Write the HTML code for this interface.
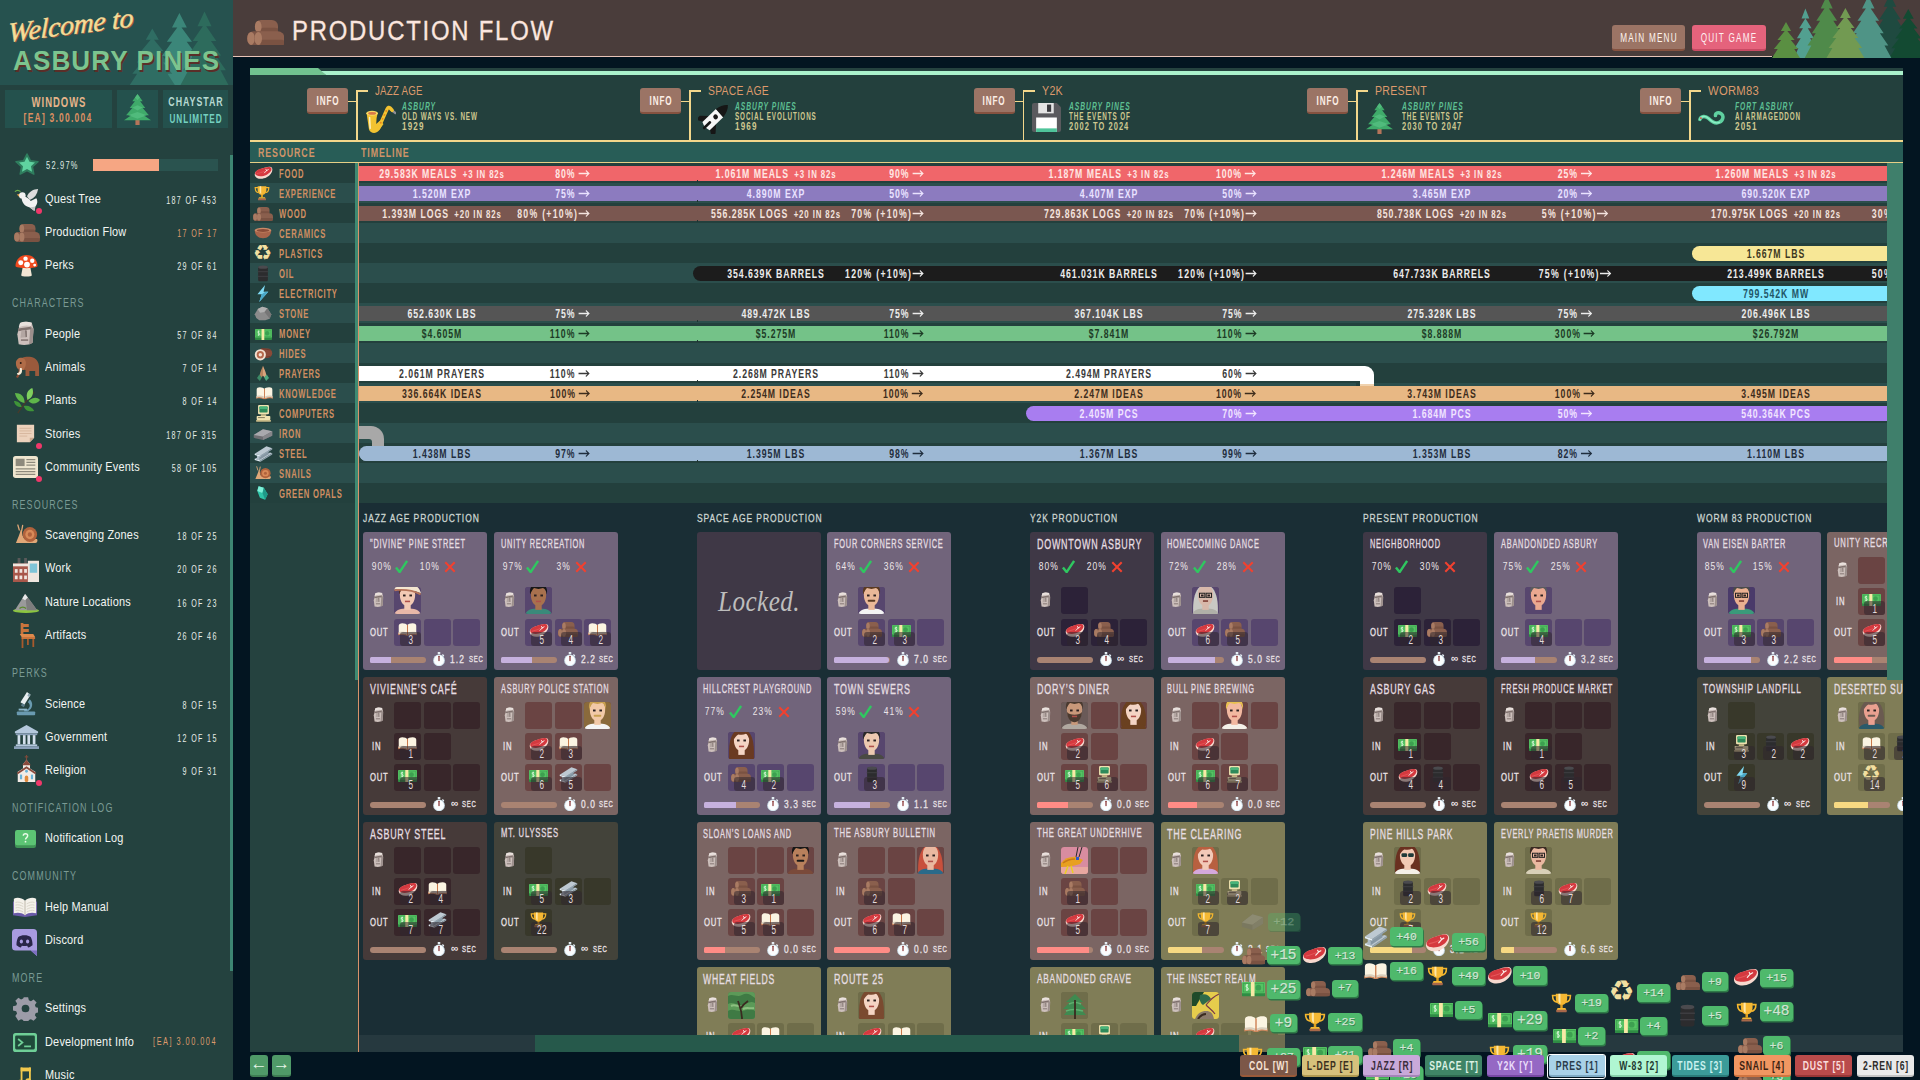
<!DOCTYPE html><html><head><meta charset="utf-8"><title>Production Flow</title><style>
html,body{margin:0;padding:0}
body{width:1920px;height:1080px;overflow:hidden;background:#031521;position:relative;font-family:"Liberation Sans",sans-serif}
.a{position:absolute}
.clip{position:absolute;overflow:hidden}
.t{position:absolute;white-space:nowrap;line-height:1;font-weight:bold}
.c{letter-spacing:1.4px;transform:scaleX(.68);transform-origin:0 50%}
.c.r{transform-origin:100% 50%}
.c.m{transform-origin:50% 50%;transform:translateX(-50%) scaleX(.68)}
.n{font-weight:normal;letter-spacing:.25px;transform:scaleX(.84);transform-origin:0 50%}
.k{letter-spacing:1.4px;transform:scaleX(.68);transform-origin:0 50%;font-weight:normal}
.k.r{transform-origin:100% 50%}
.k.m{transform-origin:50% 50%;transform:translateX(-50%) scaleX(.68)}
.mono{font-family:"Liberation Mono",monospace;font-weight:bold;letter-spacing:0;transform:none}
.mono.m{transform:translateX(-50%)}
.btn{position:absolute;border-radius:3px;box-sizing:border-box}
</style></head><body><svg width="0" height="0" style="position:absolute"><defs><symbol id="i-steak" viewBox="0 0 24 18" preserveAspectRatio="none"><path d="M1 11.800C.3 8 4 5 9.500 3.600 14.500 1.800 20.500-.4 22.600 2.400c1.900 3.600-.8 9.200-6.600 12.200C10.500 17.800 2 17 1 11.800z" fill="#f7d9cf"/><path d="M1.500 10C1.200 6.800 5 4.400 9.800 3.300c4.700-1.600 10.200-3.200 12 -.6 1.300 2.700-1.500 6.600-6.300 8.800C10.500 13.900 2 13.600 1.500 10z" fill="#d5393f"/><path d="M4 9.800c2.500-1 6-1.200 9.500-3.300" stroke="#e4575a" stroke-width="1" fill="none" stroke-linecap="round"/><path d="M13.200 8.800l2.700-2.900M15.900 5.900l2.200-1.300M15.900 5.900l-.9-1.700" stroke="#fdf1ec" stroke-width="1.100" stroke-linecap="round" fill="none"/></symbol><symbol id="i-trophy" viewBox="0 0 24 24" preserveAspectRatio="none"><path d="M6 4H1.800c0 4.500 2 7.200 5.200 7.600M18 4h4.200c0 4.500-2 7.200-5.200 7.600" fill="none" stroke="#f3b62e" stroke-width="1.800"/><path d="M5.500 2h13v5.500c0 4.200-2.800 7.500-6.500 7.500S5.500 11.700 5.500 7.500z" fill="#f5b833"/><path d="M8.500 2h2.300v11.800c-1.500-.8-2.300-2.800-2.300-5z" fill="#fde6a8"/><rect x="10.600" y="14.500" width="2.800" height="4" fill="#e0a020"/><path d="M7.500 18.300h9l1 2.200h-11z" fill="#f5b833"/><rect x="6" y="20.300" width="12" height="2.700" rx=".6" fill="#a8684a"/></symbol><symbol id="i-wood" viewBox="0 0 26 18" preserveAspectRatio="none"><rect x="5.500" y="0" width="16" height="9.500" rx="4.200" fill="#8a5f4d"/><rect x="9" y="5.500" width="12.500" height="4" rx="2" fill="#7a5242"/><ellipse cx="7.800" cy="4.700" rx="2.300" ry="4.200" fill="#a97b63"/><rect x="0" y="8" width="13" height="10" rx="4.600" fill="#7d5546"/><ellipse cx="2.800" cy="13" rx="2.600" ry="4.600" fill="#a97b63"/><rect x="5" y="8" width="21" height="10" rx="4.600" fill="#8a5f4d"/><rect x="9" y="14" width="17" height="4" rx="2" fill="#7a5242"/><ellipse cx="7.800" cy="13" rx="2.600" ry="4.600" fill="#a97b63"/></symbol><symbol id="i-bowl" viewBox="0 0 24 16" preserveAspectRatio="none"><path d="M1 4h22c0 7-4.500 11-11 11S1 11 1 4z" fill="#a8644a"/><ellipse cx="12" cy="4.200" rx="11" ry="3.200" fill="#c98a68"/><ellipse cx="12" cy="4.600" rx="8.500" ry="2" fill="#8a4c38"/></symbol><symbol id="i-barrel" viewBox="0 0 16 22" preserveAspectRatio="none"><rect x="1.500" y="2" width="13" height="19" rx="2" fill="#2c2c2e"/><ellipse cx="8" cy="2.800" rx="6.500" ry="2.200" fill="#4a4a4e"/><rect x="1" y="8" width="14" height="1.300" fill="#3f3f43"/><rect x="1" y="14" width="14" height="1.300" fill="#3f3f43"/></symbol><symbol id="i-bolt" viewBox="0 0 18 24" preserveAspectRatio="none"><path d="M12.500 0L2 13h6L4.500 24 17 9.500h-6.500z" fill="#7fd9f2"/><path d="M8 13L4.500 24 17 9.500h-4z" fill="#4aa8c8"/></symbol><symbol id="i-stone" viewBox="0 0 24 20" preserveAspectRatio="none"><path d="M3 16L1 11l4-7 6-3 7 2 5 8-2 6-6 2H7z" fill="#8b8b8b"/><path d="M5 4l6-3 7 2-4 5-6 1z" fill="#b0b0b0"/><path d="M14 8l4-5 5 8-2 6z" fill="#767676"/></symbol><symbol id="i-money" viewBox="0 0 26 16" preserveAspectRatio="none"><rect x="0" y="2.500" width="26" height="13.500" rx="1" fill="#2f8c44"/><rect x="0" y="0" width="26" height="12.500" rx="1" fill="#55c263"/><rect x="1.500" y="1.500" width="23" height="9.500" fill="none" stroke="#3da050" stroke-width=".8"/><circle cx="18.500" cy="6.250" r="3.200" fill="#3da050"/><rect x="10" y="0" width="4.200" height="16" fill="#f7e9a6"/><path d="M6.800 3.200c-2.600-.8-3 2.200-1 2.800 2 .6 1.800 3.400-1 2.800M5.600 2.300v7.600" stroke="#eafbe8" stroke-width="1" fill="none"/></symbol><symbol id="i-hides" viewBox="0 0 24 20" preserveAspectRatio="none"><rect x="6" y="3" width="17" height="12" rx="6" fill="#8a4a38"/><path d="M9 3l12 2M9 15l12-2" stroke="#6e3a2c" stroke-width="1.200"/><circle cx="8" cy="11" r="7" fill="#f3e2d2"/><circle cx="8" cy="11" r="4.600" fill="#b5694c"/><circle cx="8" cy="11" r="2.200" fill="#f3e2d2"/></symbol><symbol id="i-pray" viewBox="0 0 18 24" preserveAspectRatio="none"><path d="M9 1c-1 3-4 8-5 13l2 4 3-3z" fill="#b9855f"/><path d="M9 1c1 3 4 8 5 13l-2 4-3-3z" fill="#d8a47c"/><path d="M3.500 13.500l3.800 4.200-3 4.800L0 18.500z" fill="#3c8a66"/><path d="M14.500 13.500l-3.800 4.200 3 4.800 4.300-4z" fill="#4faa80"/></symbol><symbol id="i-book" viewBox="0 0 26 18" preserveAspectRatio="none"><path d="M.3 13.500h25.400v3.300c-4-1-8.500-.8-11.200.7h-3c-2.700-1.500-7.200-1.700-11.200-.7z" fill="#cf8a60"/><path d="M1 3.800C1 1.600 3 .4 6 .4s6 1 6.700 2.800C13.400 1.400 16.500.4 20 .4s5 1.200 5 3.400V15c-4-1-8.300-.8-11 .8h-2c-2.700-1.600-7-1.800-11-.8z" fill="#fbf4e2"/><path d="M1 12.800V15c4-1 8.300-.8 11 .8h2c2.700-1.600 7-1.800 11-.8v-2.200c-4-1-8.300-.8-11 .8h-2c-2.700-1.600-7-1.800-11-.8z" fill="#d9cfbd"/><rect x="12.300" y="2.600" width="1.400" height="14" fill="#c9784a"/></symbol><symbol id="i-pc" viewBox="0 0 22 24" preserveAspectRatio="none"><rect x="3" y="0" width="16" height="13" rx="1.500" fill="#efe2b0"/><rect x="5" y="2" width="12" height="8.500" rx="1" fill="#2e8a5a"/><rect x="5" y="2" width="12" height="3.500" rx="1" fill="#49b47a"/><rect x="7" y="13" width="8" height="2.500" fill="#c9bb88"/><rect x="1" y="15.500" width="20" height="5.500" rx="1" fill="#efe2b0"/><rect x="3" y="17" width="10" height="1.500" fill="#8a8160"/><rect x="0" y="21" width="22" height="2.500" rx="1" fill="#c9bb88"/></symbol><symbol id="i-iron" viewBox="0 0 26 18" preserveAspectRatio="none"><path d="M1 11L13 3l12 3v6l-12 6-12-3z" fill="#6e6e72"/><path d="M1 11L13 3l12 3-12 7z" fill="#a9a9ad"/><path d="M13 13l12-7v6l-12 6z" fill="#86868a"/></symbol><symbol id="i-steel" viewBox="0 0 26 22" preserveAspectRatio="none"><path d="M1 17.500l8 2.500 16-10-3-1z" fill="#b9c6cf"/><path d="M1 17.500l8 2.500v1.800l-8-2.500z" fill="#e4eef5"/><path d="M9 20l16-10v1.800l-16 10z" fill="#93a4b0"/><path d="M4 12l3.200 1v6.300l-3.200-1z" fill="#aebcc7"/><path d="M7.200 13l12.800-8v6.300l-12.800 8z" fill="#8697a3"/><path d="M1 10.500l8 2.500 16-10-8-2.500z" fill="#bdc9d2"/><path d="M1 10.500l8 2.500v1.800l-8-2.500z" fill="#e4eef5"/><path d="M9 13l16-10v1.800l-16 10z" fill="#93a4b0"/></symbol><symbol id="i-snail" viewBox="0 0 26 22" preserveAspectRatio="none"><path d="M2 19c2-5 4-9 5-13l1.500.5C8 10 9 13 11 15h13c1 2 0 4-2 4z" fill="#e0a878"/><path d="M5.500 6L4 1M8 6.500L9 1.500" stroke="#e0a878" stroke-width="1.300" stroke-linecap="round"/><circle cx="16.500" cy="10.500" r="7.500" fill="#b0623c"/><circle cx="16.500" cy="10.500" r="4.700" fill="#d88a58"/><circle cx="16.500" cy="10.500" r="2.200" fill="#b0623c"/></symbol><symbol id="i-opal" viewBox="0 0 20 24" preserveAspectRatio="none"><path d="M4 2l8 2 6 10-4 8-8-3L2 9z" fill="#2fc4a8"/><path d="M4 2l8 2-2 8-8-3z" fill="#7ff0d8"/><path d="M12 4l6 10-4 8-4-10z" fill="#1f9a88"/></symbol><symbol id="i-moai" viewBox="0 0 20 30" preserveAspectRatio="none"><path d="M4.500 2.500Q10 -.5 17.500 2L19.500 9.500 18.500 26Q12 30.500 3 28L1.500 16z" fill="#cdc0bc"/><path d="M16 6L19.500 9.500 18.500 26Q17 27.500 14.500 28.300z" fill="#9c8f8c"/><path d="M4.500 2.500Q10 -.5 17.500 2L16.500 6Q10 4 3 7.500z" fill="#e9e1dd"/><path d="M2.300 9L16.200 6.800 16.800 10 2.500 12.200z" fill="#80726f"/><path d="M6 11.500L10 11 10.500 19.500 5 20z" fill="#b3a6a2"/><path d="M10 11L12 11.500 12.200 19.300 10.500 19.500z" fill="#80726f"/><rect x="5.500" y="22" width="8" height="1.800" fill="#80726f"/></symbol><symbol id="i-watch" viewBox="0 0 16 19" preserveAspectRatio="none"><rect x="6.300" y="0" width="3.400" height="3" rx=".8" fill="#e4eef4"/><path d="M12.500 3.300l1.900 1.900" stroke="#e4eef4" stroke-width="1.900"/><circle cx="8" cy="11" r="7.800" fill="#c9dde8"/><circle cx="8" cy="11" r="6.600" fill="#fbfdfe"/><path d="M8 5.500v5.800" stroke="#7a1c1c" stroke-width="1.500" stroke-linecap="round"/></symbol><symbol id="i-check" viewBox="0 0 14 14" preserveAspectRatio="none"><path d="M1 8l4 5L13 1" fill="none" stroke="#2fc760" stroke-width="2.600"/></symbol><symbol id="i-cross" viewBox="0 0 14 14" preserveAspectRatio="none"><path d="M1.500 1.500l11 11M12.500 1.500l-11 11" fill="none" stroke="#f2412f" stroke-width="2.400"/></symbol><symbol id="i-star" viewBox="0 0 24 24" preserveAspectRatio="none"><path d="M12 1l3.400 7 7.600 1-5.600 5.300 1.400 7.700L12 18.300 5.200 22l1.400-7.700L1 9l7.600-1z" fill="#2f7d5e" stroke="#2f7d5e" stroke-width="1.500" stroke-linejoin="round"/><path d="M12 4l2.500 5.200 5.500.8-4 3.900 1 5.600-5-2.700-5 2.700 1-5.600-4-3.900 5.500-.8z" fill="#5fd3a0"/></symbol><symbol id="i-dove" viewBox="0 0 28 26" preserveAspectRatio="none"><path d="M3 7l5-1 2 3-4 1z" fill="#e8a04a"/><circle cx="9" cy="8" r="3.500" fill="#f2f2f2"/><path d="M8 9c0 6 3 11 9 12l5 4 1-5c2-2 3-6 1-9l-6 3c-2-3-6-6-10-5z" fill="#f2f2f2"/><path d="M14 9c2-5 7-8 12-8-1 6-4 10-9 12z" fill="#dcdcdc"/><path d="M17 21l5 4 1-5z" fill="#c4c4c4"/><path d="M1 4c2-2 4-2 6 0" stroke="#6ab04c" stroke-width="1.300" fill="none"/></symbol><symbol id="i-shroom" viewBox="0 0 24 24" preserveAspectRatio="none"><path d="M8 13h8l1.500 8c0 2-11 2-11 0z" fill="#f3e6d4"/><path d="M.5 11.500C.5 5 5.500 0 12 0s11.500 5 11.500 11.500c0 3-23 3-23 0z" fill="#f04a1e"/><circle cx="6" cy="8" r="2.600" fill="#fff"/><circle cx="11" cy="3.800" r="2.300" fill="#fff"/><circle cx="18" cy="6" r="2.300" fill="#fff"/><circle cx="12.500" cy="10" r="3" fill="#fff"/><circle cx="20.500" cy="10.500" r="1.500" fill="#fff"/></symbol><symbol id="i-mammoth" viewBox="0 0 28 24" preserveAspectRatio="none"><path d="M6 6c2-4 8-5 13-4 5 1 8 5 8 10v9h-4v-5h-6v5h-4v-6c-3 0-5-1-6-3z" fill="#9a5a3c"/><path d="M3 8c0-4 4-6 7-5 3 1 4 4 3 8l-2 4H7c-3-1-4-4-4-7z" fill="#b06c48"/><path d="M6 13c0 4-1 7-3 9l2 1c2-2 3-6 3-10z" fill="#8a4c34"/><path d="M9 13c1 4 0 7-4 7l-1-2c3 0 3-2 3-5z" fill="#f5ecd8"/><circle cx="8" cy="8" r="1" fill="#2a1a14"/></symbol><symbol id="i-plant" viewBox="0 0 28 26" preserveAspectRatio="none"><path d="M5 25C10 18 14 12 22 4" stroke="#4a3a2a" stroke-width="1.300" fill="none"/><path d="M12 15C6 14 3 10 2 5c6 0 10 3 10 10z" fill="#5fb64a"/><path d="M15 12C13 6 15 2 20 0c2 5 0 10-5 12z" fill="#7ed05e"/><path d="M16 13c5-4 9-4 12-1-3 4-8 5-12 1z" fill="#5fb64a"/><path d="M11 18c5-1 9 1 11 5-5 1-9 0-11-5z" fill="#3f9438"/><path d="M9 19c-5 0-7-2-8-6 4 0 7 2 8 6z" fill="#3f9438"/></symbol><symbol id="i-note" viewBox="0 0 22 22" preserveAspectRatio="none"><path d="M1 1h20v15l-5 5H1z" fill="#ecd2bc"/><path d="M21 16l-5 5v-5z" fill="#c9a78c"/><path d="M4 5h14M4 8h14M4 11h14M4 14h9" stroke="#d4b49a" stroke-width="1"/></symbol><symbol id="i-news" viewBox="0 0 28 24" preserveAspectRatio="none"><rect x="0" y="0" width="28" height="24" rx="3" fill="#efe6cf"/><rect x="3" y="3" width="10" height="8" fill="#8e8a7c"/><path d="M15 4h10M15 7h10M15 10h10M3 14h22M3 17h22M3 20h22" stroke="#8e8a7c" stroke-width="1.300"/></symbol><symbol id="i-factory" viewBox="0 0 28 26" preserveAspectRatio="none"><rect x="5" y="0" width="3" height="8" fill="#5a5a5a"/><rect x="12" y="0" width="3" height="8" fill="#5a5a5a"/><rect x="0" y="6" width="18" height="20" fill="#a8574a"/><rect x="0" y="6" width="18" height="3" fill="#efe6df"/><rect x="16" y="3" width="12" height="23" fill="#efe6df"/><rect x="18" y="6" width="8" height="10" fill="#7fc4d8"/><rect x="2" y="12" width="3" height="4" fill="#efe6df"/><rect x="7" y="12" width="3" height="4" fill="#efe6df"/><rect x="12" y="12" width="3" height="4" fill="#efe6df"/><rect x="2" y="19" width="3" height="4" fill="#efe6df"/><rect x="7" y="19" width="3" height="4" fill="#efe6df"/><rect x="12" y="19" width="3" height="4" fill="#efe6df"/></symbol><symbol id="i-mountain" viewBox="0 0 28 22" preserveAspectRatio="none"><ellipse cx="14" cy="19.500" rx="14" ry="2.500" fill="#8cc63f"/><path d="M2 19L13 1l6 8 7 10z" fill="#9a9a9a"/><path d="M13 1l6 8 7 10H15z" fill="#7d7d7d"/><path d="M13 1l3 4-3 3-3-2z" fill="#e8e8e8"/><path d="M7 17c2-2 5-2 7 0" stroke="#5a8a2a" stroke-width="1.500" fill="none"/></symbol><symbol id="i-chair" viewBox="0 0 20 26" preserveAspectRatio="none"><path d="M3 1h3v12H3zM3 2h9v3H3zM3 7h9v3H3z" fill="#c9743c"/><path d="M2 12h15l2 3H4z" fill="#e08a4c"/><path d="M4 15h2v11H4zM16 15h2v10h-2zM10 15h2v8h-2z" fill="#a85a2c"/><path d="M4 15h15v2H4z" fill="#c9743c"/></symbol><symbol id="i-scope" viewBox="0 0 24 28" preserveAspectRatio="none"><path d="M13 1l4 3-7 11-4-3z" fill="#e8eef0"/><path d="M15 2.500l2 1.500-1.500 2.500-2-1.500z" fill="#8aa4b0"/><path d="M8 13l3 2-1.500 2.500-3-2z" fill="#5a7a88"/><path d="M16 9c4 3 4 10-2 13h-4v-2h3c4-2 4-6 1-8z" fill="#6a9ab0"/><rect x="2" y="22" width="20" height="4" rx="1" fill="#6a9ab0"/><rect x="4" y="19" width="9" height="2" fill="#8ab4c8"/></symbol><symbol id="i-gov" viewBox="0 0 28 26" preserveAspectRatio="none"><path d="M14 0L1 7v2h26V7z" fill="#b4c8dc"/><rect x="2" y="9" width="24" height="2" fill="#8aa0b8"/><rect x="4" y="11" width="3" height="10" fill="#d4e0ec"/><rect x="10" y="11" width="3" height="10" fill="#d4e0ec"/><rect x="15" y="11" width="3" height="10" fill="#d4e0ec"/><rect x="21" y="11" width="3" height="10" fill="#d4e0ec"/><rect x="2" y="21" width="24" height="2" fill="#b4c8dc"/><rect x="0" y="23" width="28" height="3" fill="#8aa0b8"/></symbol><symbol id="i-church" viewBox="0 0 24 30" preserveAspectRatio="none"><path d="M12 0v6M10 2h4" stroke="#7a4a3a" stroke-width="1.300"/><path d="M12 5l4 5v6H8v-6z" fill="#f2ece6"/><path d="M12 5l5 6h-10z" fill="#8a4a3c"/><path d="M2 18l10-6 10 6v11H2z" fill="#f2ece6"/><path d="M1 19l11-7 11 7-1 1.500-10-6-10 6z" fill="#8a4a3c"/><rect x="10" y="22" width="4" height="7" rx="2" fill="#e08a3c"/><rect x="4.500" y="21" width="2.500" height="5" fill="#6ab4d8"/><rect x="17" y="21" width="2.500" height="5" fill="#6ab4d8"/><circle cx="12" cy="17.500" r="1.600" fill="#6ab4d8"/></symbol><symbol id="i-notif" viewBox="0 0 24 20" preserveAspectRatio="none"><rect x="0" y="2" width="24" height="18" rx="2.500" fill="#3f9456"/><rect x="0" y="0" width="24" height="17" rx="2.500" fill="#5cc474"/><path d="M9.500 6.500c0-3 5-3 5 0 0 2-2.500 2-2.500 4" stroke="#eafbe8" stroke-width="1.600" fill="none"/><circle cx="12" cy="13" r="1" fill="#eafbe8"/></symbol><symbol id="i-manual" viewBox="0 0 28 22" preserveAspectRatio="none"><path d="M0 5l14 2 14-2v15l-14 2-14-2z" fill="#6a5aa8"/><path d="M1 2c4-2 9-1 13 2 4-3 9-4 13-2v16c-4-1-9-1-13 2-4-3-9-3-13-2z" fill="#f4f1ea"/><path d="M14 4v16" stroke="#b8b2a4" stroke-width="1"/><path d="M3 6c3-1 6 0 9 1.500M3 9c3-1 6 0 9 1.500M3 12c3-1 6 0 9 1.500M3 15c3-1 6 0 9 1.500M25 6c-3-1-6 0-9 1.500M25 9c-3-1-6 0-9 1.500M25 12c-3-1-6 0-9 1.500M25 15c-3-1-6 0-9 1.500" stroke="#cfcabc" stroke-width=".8" fill="none"/></symbol><symbol id="i-discord" viewBox="0 0 28 30" preserveAspectRatio="none"><path d="M4 0h20a4 4 0 0 1 4 4v26l-7-6H4a4 4 0 0 1-4-4V4a4 4 0 0 1 4-4z" fill="#a99be0"/><path d="M28 24v6l-7-6z" fill="#7d6fc0"/><path d="M7 9c2-1.500 4-2 7-2s5 .5 7 2c1.500 3 2 6 2 9-2 1.500-3 2-5 2.500l-1-2c-2 .5-4 .5-6 0l-1 2c-2-.5-3-1-5-2.500 0-3 .5-6 2-9z" fill="#2a2648"/><ellipse cx="10.500" cy="14" rx="1.800" ry="2.200" fill="#a99be0"/><ellipse cx="17.500" cy="14" rx="1.800" ry="2.200" fill="#a99be0"/></symbol><symbol id="i-gear" viewBox="0 0 26 26" preserveAspectRatio="none"><path d="M10.500 0h5l.8 3.600 2.400 1 3.100-2 3.500 3.500-2 3.100 1 2.400 3.700.9v5l-3.700.9-1 2.400 2 3.100-3.500 3.500-3.100-2-2.400 1-.8 3.600h-5l-.8-3.600-2.400-1-3.100 2L.7 21.900l2-3.100-1-2.400L-2 15.500v-5l3.700-.9 1-2.400-2-3.100L4.200.600l3.100 2 2.400-1z" fill="#9c9ca8" transform="translate(1.800 1.200) scale(.9)"/><circle cx="13" cy="13" r="4" fill="#24423f"/></symbol><symbol id="i-term" viewBox="0 0 28 22" preserveAspectRatio="none"><rect x="0" y="0" width="28" height="22" rx="3" fill="#6fcf97"/><rect x="2.500" y="3" width="23" height="16" rx="1.500" fill="#1f4a3a"/><path d="M6 7l5 4-5 4" stroke="#6fcf97" stroke-width="2" fill="none"/><path d="M13 15.500h8" stroke="#6fcf97" stroke-width="2"/></symbol><symbol id="i-music" viewBox="0 0 22 26" preserveAspectRatio="none"><path d="M5 2h14v5H5z" fill="#f2c94c"/><path d="M5 2h2.500v18H5zM16.500 2H19v16h-2.500z" fill="#f2c94c"/><ellipse cx="4" cy="21" rx="4" ry="3" fill="#f2c94c"/><ellipse cx="15.500" cy="19" rx="4" ry="3" fill="#f2c94c"/></symbol><symbol id="i-sax" viewBox="0 0 30 28" preserveAspectRatio="none"><path d="M25.500 6.500l3.800 2.800" stroke="#8e8e96" stroke-width="2.200" stroke-linecap="round"/><path d="M12.500 23.500L21 5.800Q22.300 3.200 24.200 4.800L26.200 6.800" stroke="#f2c331" stroke-width="3.400" fill="none" stroke-linecap="round" stroke-linejoin="round"/><path d="M.6 9.500h11l-1 4.500-.4 5.500 3.600-3 3.700 3-4.500 6.200c-3 3.400-8.600 2.800-10-1z" fill="#f2c331"/><ellipse cx="6.100" cy="9.500" rx="5.800" ry="2.300" fill="#f8da62"/><ellipse cx="6.100" cy="9.700" rx="4" ry="1.300" fill="#d97848"/><path d="M3.600 13.500l.6 10" stroke="#fdf2c4" stroke-width="1.500" stroke-linecap="round"/><circle cx="14.800" cy="18.500" r=".9" fill="#e8881c"/><circle cx="16.600" cy="14.800" r=".9" fill="#e8881c"/><circle cx="18.400" cy="11.100" r=".9" fill="#e8881c"/><circle cx="20.200" cy="7.400" r=".9" fill="#e8881c"/></symbol><symbol id="i-rocket" viewBox="0 0 30 28" preserveAspectRatio="none"><g transform="translate(15.500 13.500) rotate(47) scale(1.120 1.050)"><path d="M-4.600 2l-5.400 6v5l5.400-3.500zM4.600 2l5.400 6v5l-5.400-3.500z" fill="#161616"/><path d="M-4.600-7v17q4.600 2.400 9.200 0v-17z" fill="#f6f6f6"/><path d="M-4.600-7q.8-7 4.600-10.500q3.800 3.500 4.600 10.500z" fill="#161616"/><circle cx="0" cy="-2" r="2.100" fill="#161616"/><rect x="-1.100" y="4" width="2.200" height="9.500" rx="1" fill="#161616"/></g></symbol><symbol id="i-floppy" viewBox="0 0 28 28" preserveAspectRatio="none"><path d="M0 2a2 2 0 0 1 2-2h22l4 4v22a2 2 0 0 1-2 2H2a2 2 0 0 1-2-2z" fill="#5a5a5e"/><rect x="6" y="0" width="15" height="10" fill="#e4e4e4"/><rect x="14.500" y="1.500" width="4" height="7" fill="#3a3a3e"/><rect x="4" y="14" width="20" height="14" fill="#ffffff"/><rect x="4" y="24.500" width="20" height="3.500" fill="#4fc49a"/></symbol><symbol id="i-pine" viewBox="0 0 26 30" preserveAspectRatio="none"><rect x="11" y="24" width="4" height="6" fill="#b5745a"/><path d="M13 0l5 7h-2.500l5 6.500H18l6 7h-5l7 5H0l7-5H2l6-7H5.500l5-6.500H8z" fill="#3faa6a"/><path d="M13 0l2.500 3.500L13 6l-2.500-2.500zM8 13l5-2 5 2-5 3zM4 20.500l9-3 9 3-9 3.500z" fill="#5fc88a" opacity=".55"/></symbol><symbol id="i-worm" viewBox="0 0 32 22" preserveAspectRatio="none"><path d="M2 12c1-4 6-4 9-1s7 6 11 4 5-7 2-9-6-1-6 2" fill="none" stroke="#5fd0a0" stroke-width="3.600" stroke-linecap="round"/><path d="M2 12c1-4 6-4 9-1s7 6 11 4" fill="none" stroke="#8ff0c8" stroke-width="1.400" stroke-linecap="round"/><circle cx="3" cy="10.500" r=".9" fill="#e03030"/></symbol></defs></svg>
<div class="a" style="left:0px;top:0px;width:233px;height:1080px;background:#24423f"></div>
<div class="a" style="left:0px;top:0px;width:233px;height:85px;background:#26524f"></div>
<svg class="a" style="left:110px;top:0" width="123" height="85" viewBox="110 0 123 85"><path d="M179.4 13L186.8 27.4L181.5 27.4L192.0 41.8L186.7 41.8L197.2 56.2L191.9 56.2L202.4 70.6L197.1 70.6L205.4 85.0L153.4 85.0L161.7 70.6L156.4 70.6L166.9 56.2L161.6 56.2L172.1 41.8L166.8 41.8L177.3 27.4L172.0 27.4Z" fill="#3b8679"/><path d="M152.3 28.4L158.8 39.7L154.0 39.7L163.3 51.0L158.5 51.0L167.8 62.4L163.0 62.4L172.3 73.7L167.5 73.7L174.8 85.0L129.8 85.0L137.1 73.7L132.3 73.7L141.6 62.4L136.8 62.4L146.1 51.0L141.3 51.0L150.6 39.7L145.8 39.7Z" fill="#2f6d63"/><path d="M204.5 11.5L211.5 26.2L206.2 26.2L216.3 40.9L211.0 40.9L221.1 55.6L215.8 55.6L225.9 70.3L220.6 70.3L228.5 85.0L180.5 85.0L188.4 70.3L183.1 70.3L193.2 55.6L187.9 55.6L198.0 40.9L192.7 40.9L202.8 26.2L197.5 26.2Z" fill="#2d6b5c"/></svg>
<span class="t" style="left:8px;top:18.500px;font-family:'Liberation Serif',serif;font-style:italic;font-weight:normal;-webkit-text-stroke:.45px #f5dc98;font-size:27.500px;color:#f5dc98;letter-spacing:-.3px;transform:rotate(-7deg) skewX(-8deg) scaleX(1.020);transform-origin:0 100%;text-shadow:1px 1px 0 #a0563a">Welcome to</span>
<span class="t" style="left:13px;top:47px;font-size:28px;color:#7cc48f;letter-spacing:1.2px;transform:scaleX(.93);transform-origin:0 50%;text-shadow:1.5px 1.5px 0 #5a2e28">ASBURY PINES</span>
<div class="a" style="left:5px;top:90px;width:107px;height:38px;background:#24514d"></div>
<div class="a" style="left:117px;top:90px;width:41px;height:38px;background:#24514d"></div>
<div class="a" style="left:163px;top:90px;width:65px;height:38px;background:#24514d"></div>
<span class="t c m" style="left:58.5px;top:94.5px;font-size:14px;color:#e6b48a">WINDOWS</span>
<span class="t c m" style="left:57.5px;top:112.25px;font-size:12.5px;color:#dd8f62;letter-spacing:1.8px">[EA] 3.00.004</span>
<svg class="a" style="left:124px;top:94px" width="27" height="31"><use href="#i-pine"/></svg>
<span class="t c m" style="left:196px;top:95px;font-size:13px;color:#b7d9d2">CHAYSTAR</span>
<span class="t c m" style="left:196px;top:112.5px;font-size:12px;color:#74d0c0">UNLIMITED</span>
<div class="a" style="left:230px;top:155px;width:3px;height:816px;background:#3d8572"></div>
<svg class="a" style="left:15px;top:153px" width="24" height="23"><use href="#i-star"/></svg>
<span class="t k" style="left:45.5px;top:159.5px;font-size:11px;color:#dfe9e2;letter-spacing:1.8px">52.97%</span>
<div class="a" style="left:93px;top:159px;width:125px;height:12px;background:#2a534f"></div>
<div class="a" style="left:93px;top:159px;width:66px;height:12px;background:#f6a683"></div>
<svg class="a" style="left:14px;top:188px" width="26" height="24"><use href="#i-dove"/></svg>
<span class="t n" style="left:45px;top:191.7px;font-size:13px;color:#f2f5f2">Quest Tree</span>
<span class="t k r" style="right:1702.5px;top:194.75px;font-size:10.5px;color:#e6ece8;letter-spacing:2px">187 OF 453</span>
<div class="a" style="left:36px;top:208px;width:6px;height:6px;background:#f0386a;border-radius:3px"></div>
<svg class="a" style="left:14px;top:224px" width="26" height="18"><use href="#i-wood"/></svg>
<span class="t n" style="left:45px;top:224.7px;font-size:13px;color:#f2f5f2">Production Flow</span>
<span class="t k r" style="right:1702.5px;top:227.75px;font-size:10.5px;color:#dd9a6c;letter-spacing:2px">17 OF 17</span>
<svg class="a" style="left:15px;top:254.5px" width="23" height="23"><use href="#i-shroom"/></svg>
<span class="t n" style="left:45px;top:258.2px;font-size:13px;color:#f2f5f2">Perks</span>
<span class="t k r" style="right:1702.5px;top:261.25px;font-size:10.5px;color:#e6ece8;letter-spacing:2px">29 OF 61</span>
<span class="t k" style="left:12px;top:296.25px;font-size:13.5px;color:#7a9a94;letter-spacing:1.7px;transform:scaleX(.66)">CHARACTERS</span>
<svg class="a" style="left:16px;top:321px" width="18" height="25"><use href="#i-moai"/></svg>
<span class="t n" style="left:45px;top:326.7px;font-size:13px;color:#f2f5f2">People</span>
<span class="t k r" style="right:1702.5px;top:329.75px;font-size:10.5px;color:#e6ece8;letter-spacing:2px">57 OF 84</span>
<svg class="a" style="left:13px;top:355px" width="27" height="24"><use href="#i-mammoth"/></svg>
<span class="t n" style="left:45px;top:359.7px;font-size:13px;color:#f2f5f2">Animals</span>
<span class="t k r" style="right:1702.5px;top:362.75px;font-size:10.5px;color:#e6ece8;letter-spacing:2px">7 OF 14</span>
<svg class="a" style="left:13px;top:387.5px" width="27" height="26"><use href="#i-plant"/></svg>
<span class="t n" style="left:45px;top:393.2px;font-size:13px;color:#f2f5f2">Plants</span>
<span class="t k r" style="right:1702.5px;top:396.25px;font-size:10.5px;color:#e6ece8;letter-spacing:2px">8 OF 14</span>
<svg class="a" style="left:16px;top:424px" width="19" height="19"><use href="#i-note"/></svg>
<span class="t n" style="left:45px;top:426.7px;font-size:13px;color:#f2f5f2">Stories</span>
<span class="t k r" style="right:1702.5px;top:429.75px;font-size:10.5px;color:#e6ece8;letter-spacing:2px">187 OF 315</span>
<div class="a" style="left:36px;top:443px;width:6px;height:6px;background:#f0386a;border-radius:3px"></div>
<svg class="a" style="left:13px;top:456px" width="25" height="22"><use href="#i-news"/></svg>
<span class="t n" style="left:45px;top:459.7px;font-size:13px;color:#f2f5f2">Community Events</span>
<span class="t k r" style="right:1702.5px;top:462.75px;font-size:10.5px;color:#e6ece8;letter-spacing:2px">58 OF 105</span>
<div class="a" style="left:36px;top:476px;width:6px;height:6px;background:#f0386a;border-radius:3px"></div>
<span class="t k" style="left:12px;top:498.25px;font-size:13.5px;color:#7a9a94;letter-spacing:1.7px;transform:scaleX(.66)">RESOURCES</span>
<svg class="a" style="left:14px;top:524px" width="25" height="22"><use href="#i-snail"/></svg>
<span class="t n" style="left:45px;top:527.7px;font-size:13px;color:#f2f5f2">Scavenging Zones</span>
<span class="t k r" style="right:1702.5px;top:530.75px;font-size:10.5px;color:#e6ece8;letter-spacing:2px">18 OF 25</span>
<svg class="a" style="left:13px;top:557.5px" width="26" height="24"><use href="#i-factory"/></svg>
<span class="t n" style="left:45px;top:561.2px;font-size:13px;color:#f2f5f2">Work</span>
<span class="t k r" style="right:1702.5px;top:564.25px;font-size:10.5px;color:#e6ece8;letter-spacing:2px">20 OF 26</span>
<svg class="a" style="left:13px;top:593px" width="26" height="20"><use href="#i-mountain"/></svg>
<span class="t n" style="left:45px;top:594.7px;font-size:13px;color:#f2f5f2">Nature Locations</span>
<span class="t k r" style="right:1702.5px;top:597.75px;font-size:10.5px;color:#e6ece8;letter-spacing:2px">16 OF 23</span>
<svg class="a" style="left:18px;top:622px" width="18" height="26"><use href="#i-chair"/></svg>
<span class="t n" style="left:45px;top:627.7px;font-size:13px;color:#f2f5f2">Artifacts</span>
<span class="t k r" style="right:1702.5px;top:630.75px;font-size:10.5px;color:#e6ece8;letter-spacing:2px">26 OF 46</span>
<span class="t k" style="left:12px;top:666.25px;font-size:13.5px;color:#7a9a94;letter-spacing:1.7px;transform:scaleX(.66)">PERKS</span>
<svg class="a" style="left:15px;top:691px" width="22" height="26"><use href="#i-scope"/></svg>
<span class="t n" style="left:45px;top:696.7px;font-size:13px;color:#f2f5f2">Science</span>
<span class="t k r" style="right:1702.5px;top:699.75px;font-size:10.5px;color:#e6ece8;letter-spacing:2px">8 OF 15</span>
<svg class="a" style="left:14px;top:725px" width="25" height="24"><use href="#i-gov"/></svg>
<span class="t n" style="left:45px;top:729.7px;font-size:13px;color:#f2f5f2">Government</span>
<span class="t k r" style="right:1702.5px;top:732.75px;font-size:10.5px;color:#e6ece8;letter-spacing:2px">12 OF 15</span>
<svg class="a" style="left:16px;top:754.5px" width="21" height="28"><use href="#i-church"/></svg>
<span class="t n" style="left:45px;top:763.2px;font-size:13px;color:#f2f5f2">Religion</span>
<span class="t k r" style="right:1702.5px;top:766.25px;font-size:10.5px;color:#e6ece8;letter-spacing:2px">9 OF 31</span>
<div class="a" style="left:36px;top:779.5px;width:6px;height:6px;background:#f0386a;border-radius:3px"></div>
<span class="t k" style="left:12px;top:801.25px;font-size:13.5px;color:#7a9a94;letter-spacing:1.7px;transform:scaleX(.66)">NOTIFICATION LOG</span>
<svg class="a" style="left:15px;top:829.5px" width="21" height="18"><use href="#i-notif"/></svg>
<span class="t n" style="left:45px;top:831.2px;font-size:13px;color:#f2f5f2">Notification Log</span>
<span class="t k" style="left:12px;top:869.25px;font-size:13.5px;color:#7a9a94;letter-spacing:1.7px;transform:scaleX(.66)">COMMUNITY</span>
<svg class="a" style="left:13px;top:897px" width="24" height="20"><use href="#i-manual"/></svg>
<span class="t n" style="left:45px;top:899.7px;font-size:13px;color:#f2f5f2">Help Manual</span>
<svg class="a" style="left:12px;top:928.5px" width="25" height="27"><use href="#i-discord"/></svg>
<span class="t n" style="left:45px;top:933.2px;font-size:13px;color:#f2f5f2">Discord</span>
<span class="t k" style="left:12px;top:971.25px;font-size:13.5px;color:#7a9a94;letter-spacing:1.7px;transform:scaleX(.66)">MORE</span>
<svg class="a" style="left:13px;top:995.5px" width="25" height="25"><use href="#i-gear"/></svg>
<span class="t n" style="left:45px;top:1001.2px;font-size:13px;color:#f2f5f2">Settings</span>
<svg class="a" style="left:13px;top:1033px" width="24" height="19"><use href="#i-term"/></svg>
<span class="t n" style="left:45px;top:1034.7px;font-size:13px;color:#f2f5f2">Development Info</span>
<span class="t k r" style="right:1702.5px;top:1036.1px;font-size:10.8px;color:#dd9a6c;letter-spacing:2.2px">[EA] 3.00.004</span>
<svg class="a" style="left:17px;top:1066px" width="16" height="20"><use href="#i-music"/></svg>
<span class="t n" style="left:45px;top:1067.7px;font-size:13px;color:#f2f5f2">Music</span>
<div class="a" style="left:233px;top:0px;width:1687px;height:56px;background:#4a3d3b"></div>
<div class="a" style="left:233px;top:55.7px;width:1539px;height:1.5px;background:#e8c4b8"></div>
<svg class="a" style="left:246.5px;top:19.5px" width="37.5" height="25.5"><use href="#i-wood"/></svg>
<span class="t" style="left:292px;top:18px;font-size:27px;color:#fbe6df;font-weight:normal;letter-spacing:2px;transform:scaleX(.885);transform-origin:0 50%;-webkit-text-stroke:.3px #fbe6df">PRODUCTION FLOW</span>
<div class="btn" style="left:1612px;top:25px;width:73px;height:26px;background:#9b7465;border-bottom:2px solid #855240"></div>
<span class="t k m" style="left:1648.5px;top:31.5px;font-size:12px;color:#fff6f0;letter-spacing:1.8px">MAIN MENU</span>
<div class="btn" style="left:1692px;top:25px;width:74px;height:26px;background:#e5637c;border-bottom:2px solid #c94a64"></div>
<span class="t k m" style="left:1729px;top:31.5px;font-size:12px;color:#fff0f2;letter-spacing:1.8px">QUIT GAME</span>
<svg class="a" style="left:1765px;top:0" width="155" height="58" viewBox="1765 0 155 58"><path d="M1805.4 8.5L1809.3 18.4L1805.5 18.4L1811.6 28.3L1807.8 28.3L1813.9 38.2L1810.1 38.2L1816.2 48.1L1812.4 48.1L1816.9 58.0L1793.9 58.0L1798.4 48.1L1794.6 48.1L1800.7 38.2L1796.9 38.2L1803.0 28.3L1799.2 28.3L1805.3 18.4L1801.5 18.4Z" fill="#52a090"/><path d="M1826.7 -4L1832.7 8.4L1828.9 8.4L1837.1 20.8L1833.3 20.8L1841.5 33.2L1837.7 33.2L1845.9 45.6L1842.1 45.6L1848.7 58.0L1804.7 58.0L1811.3 45.6L1807.5 45.6L1815.7 33.2L1811.9 33.2L1820.1 20.8L1816.3 20.8L1824.5 8.4L1820.7 8.4Z" fill="#4f8a4a"/><path d="M1786 22L1791.1 31.0L1787.3 31.0L1794.6 40.0L1790.8 40.0L1798.1 49.0L1794.3 49.0L1800.0 58.0L1772.0 58.0L1777.7 49.0L1773.9 49.0L1781.2 40.0L1777.4 40.0L1784.7 31.0L1780.9 31.0Z" fill="#5a8f42"/><path d="M1890 -6L1896.2 6.8L1892.4 6.8L1900.8 19.6L1897.0 19.6L1905.4 32.4L1901.6 32.4L1910.0 45.2L1906.2 45.2L1913.0 58.0L1867.0 58.0L1873.8 45.2L1870.0 45.2L1878.4 32.4L1874.6 32.4L1883.0 19.6L1879.2 19.6L1887.6 6.8L1883.8 6.8Z" fill="#1f4a40"/><path d="M1908.3 9L1913.7 18.8L1909.9 18.8L1917.5 28.6L1913.7 28.6L1921.3 38.4L1917.5 38.4L1925.1 48.2L1921.3 48.2L1927.3 58.0L1889.3 58.0L1895.3 48.2L1891.5 48.2L1899.1 38.4L1895.3 38.4L1902.9 28.6L1899.1 28.6L1906.7 18.8L1902.9 18.8Z" fill="#134a32"/><path d="M1868.3 -4L1874.5 8.4L1870.7 8.4L1879.1 20.8L1875.3 20.8L1883.7 33.2L1879.9 33.2L1888.3 45.6L1884.5 45.6L1891.3 58.0L1845.3 58.0L1852.1 45.6L1848.3 45.6L1856.7 33.2L1852.9 33.2L1861.3 20.8L1857.5 20.8L1865.9 8.4L1862.1 8.4Z" fill="#4f9486"/><path d="M1845.4 8L1850.8 18.0L1847.0 18.0L1854.6 28.0L1850.8 28.0L1858.4 38.0L1854.6 38.0L1862.2 48.0L1858.4 48.0L1864.4 58.0L1826.4 58.0L1832.4 48.0L1828.6 48.0L1836.2 38.0L1832.4 38.0L1840.0 28.0L1836.2 28.0L1843.8 18.0L1840.0 18.0Z" fill="#729a52"/></svg>
<div class="a" style="left:250px;top:68px;width:1653px;height:984px;background:#25423f"></div>
<div class="a" style="left:250px;top:75px;width:1653px;height:65px;background:#23403d"></div>
<svg class="a" style="left:250px;top:68px" width="1653" height="7" viewBox="0 0 1653 7"><path d="M0 0H68L76 7H0Z" fill="#72c290"/><path d="M71 3H1653V7H76Z" fill="#aaf2cc"/></svg>
<div class="a" style="left:250px;top:140px;width:1653px;height:2px;background:#f3d78b"></div>
<div class="a" style="left:250px;top:142px;width:1653px;height:20px;background:#285d57"></div>
<div class="a" style="left:250px;top:162px;width:1653px;height:1px;background:#e6cf86"></div>
<span class="t c" style="left:257.5px;top:146.05px;font-size:13.5px;color:#cf9468;transform:scaleX(.655)">RESOURCE</span>
<span class="t c" style="left:361px;top:146.05px;font-size:13.5px;color:#cf9468;transform:scaleX(.655)">TIMELINE</span>
<div class="btn" style="left:307px;top:88px;width:41px;height:26px;background:#9b7465;border-bottom:2px solid #855240"></div>
<span class="t c m" style="left:327.5px;top:95px;font-size:12px;color:#fbeee6;letter-spacing:1.2px">INFO</span>
<div class="a" style="left:348px;top:100.5px;width:8px;height:1.2px;background:#f3d78b"></div>
<div class="a" style="left:356px;top:90px;width:1.5px;height:50px;background:#f3d78b"></div>
<div class="a" style="left:356px;top:90px;width:12px;height:1.5px;background:#f3d78b"></div>
<span class="t" style="left:375px;top:85.1px;font-size:12.500px;font-weight:normal;color:#dd9a6c;transform:scaleX(0.775);transform-origin:0 50%;letter-spacing:.3px">JAZZ AGE</span>
<svg class="a" style="left:366px;top:103px" width="30" height="30"><use href="#i-sax"/></svg>
<span class="t c" style="left:402px;top:100.75px;font-size:10.5px;color:#5dbf93;font-style:italic;letter-spacing:1.5px;transform:scaleX(.64)">ASBURY</span>
<span class="t c" style="left:402px;top:111.05px;font-size:10.5px;color:#cfc890;letter-spacing:1.5px;transform:scaleX(.6)">OLD WAYS VS. NEW</span>
<span class="t c" style="left:402px;top:121.25px;font-size:10.5px;color:#cfc890;letter-spacing:1.5px;transform:scaleX(.77)">1929</span>
<div class="btn" style="left:640.333px;top:88px;width:41px;height:26px;background:#9b7465;border-bottom:2px solid #855240"></div>
<span class="t c m" style="left:660.833px;top:95px;font-size:12px;color:#fbeee6;letter-spacing:1.2px">INFO</span>
<div class="a" style="left:681.333px;top:100.5px;width:8px;height:1.2px;background:#f3d78b"></div>
<div class="a" style="left:689.333px;top:90px;width:1.5px;height:50px;background:#f3d78b"></div>
<div class="a" style="left:689.333px;top:90px;width:12px;height:1.5px;background:#f3d78b"></div>
<span class="t" style="left:708.333px;top:85.1px;font-size:12.500px;font-weight:normal;color:#dd9a6c;transform:scaleX(0.83);transform-origin:0 50%;letter-spacing:.3px">SPACE AGE</span>
<svg class="a" style="left:698.333px;top:104px" width="31" height="30"><use href="#i-rocket"/></svg>
<span class="t c" style="left:735.333px;top:100.75px;font-size:10.5px;color:#5dbf93;font-style:italic;letter-spacing:1.5px;transform:scaleX(.64)">ASBURY PINES</span>
<span class="t c" style="left:735.333px;top:111.05px;font-size:10.5px;color:#cfc890;letter-spacing:1.5px;transform:scaleX(.6)">SOCIAL EVOLUTIONS</span>
<span class="t c" style="left:735.333px;top:121.25px;font-size:10.5px;color:#cfc890;letter-spacing:1.5px;transform:scaleX(.77)">1969</span>
<div class="btn" style="left:973.667px;top:88px;width:41px;height:26px;background:#9b7465;border-bottom:2px solid #855240"></div>
<span class="t c m" style="left:994.167px;top:95px;font-size:12px;color:#fbeee6;letter-spacing:1.2px">INFO</span>
<div class="a" style="left:1014.67px;top:100.5px;width:8px;height:1.2px;background:#f3d78b"></div>
<div class="a" style="left:1022.67px;top:90px;width:1.5px;height:50px;background:#f3d78b"></div>
<div class="a" style="left:1022.67px;top:90px;width:12px;height:1.5px;background:#f3d78b"></div>
<span class="t" style="left:1041.67px;top:85.1px;font-size:12.500px;font-weight:normal;color:#dd9a6c;transform:scaleX(0.855);transform-origin:0 50%;letter-spacing:.3px">Y2K</span>
<svg class="a" style="left:1031.67px;top:103px" width="29" height="29"><use href="#i-floppy"/></svg>
<span class="t c" style="left:1068.67px;top:100.75px;font-size:10.5px;color:#5dbf93;font-style:italic;letter-spacing:1.5px;transform:scaleX(.64)">ASBURY PINES</span>
<span class="t c" style="left:1068.67px;top:111.05px;font-size:10.5px;color:#cfc890;letter-spacing:1.5px;transform:scaleX(.6)">THE EVENTS OF</span>
<span class="t c" style="left:1068.67px;top:121.25px;font-size:10.5px;color:#cfc890;letter-spacing:1.5px;transform:scaleX(.71)">2002 TO 2024</span>
<div class="btn" style="left:1307px;top:88px;width:41px;height:26px;background:#9b7465;border-bottom:2px solid #855240"></div>
<span class="t c m" style="left:1327.5px;top:95px;font-size:12px;color:#fbeee6;letter-spacing:1.2px">INFO</span>
<div class="a" style="left:1348px;top:100.5px;width:8px;height:1.2px;background:#f3d78b"></div>
<div class="a" style="left:1356px;top:90px;width:1.5px;height:50px;background:#f3d78b"></div>
<div class="a" style="left:1356px;top:90px;width:12px;height:1.5px;background:#f3d78b"></div>
<span class="t" style="left:1375px;top:85.1px;font-size:12.500px;font-weight:normal;color:#dd9a6c;transform:scaleX(0.85);transform-origin:0 50%;letter-spacing:.3px">PRESENT</span>
<svg class="a" style="left:1366px;top:103px" width="27" height="31"><use href="#i-pine"/></svg>
<span class="t c" style="left:1402px;top:100.75px;font-size:10.5px;color:#5dbf93;font-style:italic;letter-spacing:1.5px;transform:scaleX(.64)">ASBURY PINES</span>
<span class="t c" style="left:1402px;top:111.05px;font-size:10.5px;color:#cfc890;letter-spacing:1.5px;transform:scaleX(.6)">THE EVENTS OF</span>
<span class="t c" style="left:1402px;top:121.25px;font-size:10.5px;color:#cfc890;letter-spacing:1.5px;transform:scaleX(.71)">2030 TO 2047</span>
<div class="btn" style="left:1640.33px;top:88px;width:41px;height:26px;background:#9b7465;border-bottom:2px solid #855240"></div>
<span class="t c m" style="left:1660.83px;top:95px;font-size:12px;color:#fbeee6;letter-spacing:1.2px">INFO</span>
<div class="a" style="left:1681.33px;top:100.5px;width:8px;height:1.2px;background:#f3d78b"></div>
<div class="a" style="left:1689.33px;top:90px;width:1.5px;height:50px;background:#f3d78b"></div>
<div class="a" style="left:1689.33px;top:90px;width:12px;height:1.5px;background:#f3d78b"></div>
<span class="t" style="left:1708.33px;top:85.1px;font-size:12.500px;font-weight:normal;color:#dd9a6c;transform:scaleX(0.9);transform-origin:0 50%;letter-spacing:.3px">WORM83</span>
<svg class="a" style="left:1698.33px;top:108px" width="31" height="21"><use href="#i-worm"/></svg>
<span class="t c" style="left:1735.33px;top:100.75px;font-size:10.5px;color:#5dbf93;font-style:italic;letter-spacing:1.5px;transform:scaleX(.64)">FORT ASBURY</span>
<span class="t c" style="left:1735.33px;top:111.05px;font-size:10.5px;color:#cfc890;letter-spacing:1.5px;transform:scaleX(.6)">AI ARMAGEDDON</span>
<span class="t c" style="left:1735.33px;top:121.25px;font-size:10.5px;color:#cfc890;letter-spacing:1.5px;transform:scaleX(.77)">2051</span>
<div class="a" style="left:250px;top:163px;width:105px;height:20px;background:#23403d"></div>
<div class="a" style="left:359px;top:163px;width:1544px;height:20px;background:#23403d"></div>
<svg class="a" style="left:254px;top:166px" width="19" height="14"><use href="#i-steak"/></svg>
<span class="t c" style="left:278.7px;top:167.95px;font-size:12.5px;color:#cf8f62;letter-spacing:1.3px;transform:scaleX(.61)">FOOD</span>
<div class="a" style="left:250px;top:183px;width:105px;height:20px;background:#2b4e4c"></div>
<div class="a" style="left:359px;top:183px;width:1544px;height:20px;background:#2b4e4c"></div>
<svg class="a" style="left:254px;top:185px" width="16" height="16"><use href="#i-trophy"/></svg>
<span class="t c" style="left:278.7px;top:187.95px;font-size:12.5px;color:#cf8f62;letter-spacing:1.3px;transform:scaleX(.61)">EXPERIENCE</span>
<div class="a" style="left:250px;top:203px;width:105px;height:20px;background:#23403d"></div>
<div class="a" style="left:359px;top:203px;width:1544px;height:20px;background:#23403d"></div>
<svg class="a" style="left:253px;top:207px" width="20" height="14"><use href="#i-wood"/></svg>
<span class="t c" style="left:278.7px;top:207.95px;font-size:12.5px;color:#cf8f62;letter-spacing:1.3px;transform:scaleX(.61)">WOOD</span>
<div class="a" style="left:250px;top:223px;width:105px;height:20px;background:#2b4e4c"></div>
<div class="a" style="left:359px;top:223px;width:1544px;height:20px;background:#2b4e4c"></div>
<svg class="a" style="left:254px;top:227px" width="18" height="12"><use href="#i-bowl"/></svg>
<span class="t c" style="left:278.7px;top:227.95px;font-size:12.5px;color:#cf8f62;letter-spacing:1.3px;transform:scaleX(.61)">CERAMICS</span>
<div class="a" style="left:250px;top:243px;width:105px;height:20px;background:#23403d"></div>
<div class="a" style="left:359px;top:243px;width:1544px;height:20px;background:#23403d"></div>
<span class="t" style="left:253px;top:241.5px;font-family:'DejaVu Sans',sans-serif;font-size:21.500px;font-weight:normal;color:#f2dfa0">&#9851;</span>
<span class="t c" style="left:278.7px;top:247.95px;font-size:12.5px;color:#cf8f62;letter-spacing:1.3px;transform:scaleX(.61)">PLASTICS</span>
<div class="a" style="left:250px;top:263px;width:105px;height:20px;background:#2b4e4c"></div>
<div class="a" style="left:359px;top:263px;width:1544px;height:20px;background:#2b4e4c"></div>
<svg class="a" style="left:257px;top:265px" width="12" height="17"><use href="#i-barrel"/></svg>
<span class="t c" style="left:278.7px;top:267.95px;font-size:12.5px;color:#cf8f62;letter-spacing:1.3px;transform:scaleX(.61)">OIL</span>
<div class="a" style="left:250px;top:283px;width:105px;height:20px;background:#23403d"></div>
<div class="a" style="left:359px;top:283px;width:1544px;height:20px;background:#23403d"></div>
<svg class="a" style="left:256px;top:285px" width="13" height="17"><use href="#i-bolt"/></svg>
<span class="t c" style="left:278.7px;top:287.95px;font-size:12.5px;color:#cf8f62;letter-spacing:1.3px;transform:scaleX(.61)">ELECTRICITY</span>
<div class="a" style="left:250px;top:303px;width:105px;height:20px;background:#2b4e4c"></div>
<div class="a" style="left:359px;top:303px;width:1544px;height:20px;background:#2b4e4c"></div>
<svg class="a" style="left:254px;top:306px" width="18" height="15"><use href="#i-stone"/></svg>
<span class="t c" style="left:278.7px;top:307.95px;font-size:12.5px;color:#cf8f62;letter-spacing:1.3px;transform:scaleX(.61)">STONE</span>
<div class="a" style="left:250px;top:323px;width:105px;height:20px;background:#23403d"></div>
<div class="a" style="left:359px;top:323px;width:1544px;height:20px;background:#23403d"></div>
<svg class="a" style="left:255px;top:328.5px" width="17" height="11"><use href="#i-money"/></svg>
<span class="t c" style="left:278.7px;top:327.95px;font-size:12.5px;color:#cf8f62;letter-spacing:1.3px;transform:scaleX(.61)">MONEY</span>
<div class="a" style="left:250px;top:343px;width:105px;height:20px;background:#2b4e4c"></div>
<div class="a" style="left:359px;top:343px;width:1544px;height:20px;background:#2b4e4c"></div>
<svg class="a" style="left:254px;top:345.5px" width="19" height="16"><use href="#i-hides"/></svg>
<span class="t c" style="left:278.7px;top:347.95px;font-size:12.5px;color:#cf8f62;letter-spacing:1.3px;transform:scaleX(.61)">HIDES</span>
<div class="a" style="left:250px;top:363px;width:105px;height:20px;background:#23403d"></div>
<div class="a" style="left:359px;top:363px;width:1544px;height:20px;background:#23403d"></div>
<svg class="a" style="left:257px;top:365px" width="12" height="17"><use href="#i-pray"/></svg>
<span class="t c" style="left:278.7px;top:367.95px;font-size:12.5px;color:#cf8f62;letter-spacing:1.3px;transform:scaleX(.61)">PRAYERS</span>
<div class="a" style="left:250px;top:383px;width:105px;height:20px;background:#2b4e4c"></div>
<div class="a" style="left:359px;top:383px;width:1544px;height:20px;background:#2b4e4c"></div>
<svg class="a" style="left:255.5px;top:387px" width="17" height="12.5"><use href="#i-book"/></svg>
<span class="t c" style="left:278.7px;top:387.95px;font-size:12.5px;color:#cf8f62;letter-spacing:1.3px;transform:scaleX(.61)">KNOWLEDGE</span>
<div class="a" style="left:250px;top:403px;width:105px;height:20px;background:#23403d"></div>
<div class="a" style="left:359px;top:403px;width:1544px;height:20px;background:#23403d"></div>
<svg class="a" style="left:256px;top:405px" width="15" height="17"><use href="#i-pc"/></svg>
<span class="t c" style="left:278.7px;top:407.95px;font-size:12.5px;color:#cf8f62;letter-spacing:1.3px;transform:scaleX(.61)">COMPUTERS</span>
<div class="a" style="left:250px;top:423px;width:105px;height:20px;background:#2b4e4c"></div>
<div class="a" style="left:359px;top:423px;width:1544px;height:20px;background:#2b4e4c"></div>
<svg class="a" style="left:253px;top:427px" width="20" height="13"><use href="#i-iron"/></svg>
<span class="t c" style="left:278.7px;top:427.95px;font-size:12.5px;color:#cf8f62;letter-spacing:1.3px;transform:scaleX(.61)">IRON</span>
<div class="a" style="left:250px;top:443px;width:105px;height:20px;background:#23403d"></div>
<div class="a" style="left:359px;top:443px;width:1544px;height:20px;background:#23403d"></div>
<svg class="a" style="left:254px;top:446px" width="19" height="16"><use href="#i-steel"/></svg>
<span class="t c" style="left:278.7px;top:447.95px;font-size:12.5px;color:#cf8f62;letter-spacing:1.3px;transform:scaleX(.61)">STEEL</span>
<div class="a" style="left:250px;top:463px;width:105px;height:20px;background:#2b4e4c"></div>
<div class="a" style="left:359px;top:463px;width:1544px;height:20px;background:#2b4e4c"></div>
<svg class="a" style="left:254px;top:466px" width="18" height="15"><use href="#i-snail"/></svg>
<span class="t c" style="left:278.7px;top:467.95px;font-size:12.5px;color:#cf8f62;letter-spacing:1.3px;transform:scaleX(.61)">SNAILS</span>
<div class="a" style="left:250px;top:483px;width:105px;height:20px;background:#23403d"></div>
<div class="a" style="left:359px;top:483px;width:1544px;height:20px;background:#23403d"></div>
<svg class="a" style="left:256px;top:485px" width="13" height="16"><use href="#i-opal"/></svg>
<span class="t c" style="left:278.7px;top:487.95px;font-size:12.5px;color:#cf8f62;letter-spacing:1.3px;transform:scaleX(.61)">GREEN OPALS</span>
<div class="a" style="left:359px;top:503px;width:1544px;height:549px;background:#1a2e35"></div>
<div class="clip" style="left:359px;top:163px;width:1528px;height:340px"><div class="a" style="left:0px;top:3px;width:1544px;height:15px;background:#f0666a;"></div><div class="a" style="left:0px;top:23px;width:1544px;height:15px;background:#8c7bbf;"></div><div class="a" style="left:0px;top:43px;width:1544px;height:15px;background:#7a5750;"></div><div class="a" style="left:1333px;top:83px;width:211px;height:15px;background:#f7e796;border-radius:7.500px 0 0 7.500px;"></div><div class="a" style="left:334px;top:103px;width:1210px;height:15px;background:#1c1c1c;border-radius:7.500px 0 0 7.500px;"></div><div class="a" style="left:1333px;top:123px;width:211px;height:15px;background:#80e8ff;border-radius:7.500px 0 0 7.500px;"></div><div class="a" style="left:0px;top:143px;width:1544px;height:15px;background:#555555;"></div><div class="a" style="left:0px;top:163px;width:1544px;height:15px;background:#74c288;"></div><div class="a" style="left:0px;top:203px;width:1015px;height:15px;background:#ffffff;border-top-right-radius:9px"></div><div class="a" style="left:0px;top:223px;width:1544px;height:15px;background:#e8b884;"></div><div class="a" style="left:667px;top:243px;width:877px;height:15px;background:#a87df0;border-radius:7.500px 0 0 7.500px;"></div><div class="a" style="left:0px;top:283px;width:1544px;height:15px;background:#9db8d4;border-radius:7.500px 0 0 7.500px;"></div><div class="a" style="left:1001px;top:217px;width:14px;height:4px;background:#ffffff"></div><div class="a" style="left:1001px;top:221px;width:14px;height:2px;background:#f0d2ae"></div><div class="a" style="left:997px;top:218px;width:4px;height:5px;background:#23403d;border-top-right-radius:4px"></div><div class="a" style="left:0px;top:263px;width:25px;height:20.5px;background:#a8a8a8;border-top-right-radius:13px"></div><div class="a" style="left:0px;top:275.5px;width:12.5px;height:4.5px;background:#2b4e4c;border-top-right-radius:3px"></div><div class="a" style="left:0px;top:280px;width:12.5px;height:3.5px;background:#23403d"></div><div class="a" style="left:0px;top:283px;width:12.5px;height:8px;background:#23403d"></div><div class="a" style="left:0;top:283px;width:40px;height:15px;background:#9db8d4;border-radius:7.500px 0 0 7.500px"></div><span class="t c m" style="left:83.3px;top:4.8px;font-size:12.8px;color:#ffe6e4"><span>29.583K MEALS</span><span style="font-size:11.500px;margin-left:8px;letter-spacing:1.3px">+3 IN 82s</span></span><span class="t c r" style="right:1297px;top:5.1px;font-size:12.800px;color:#ffe6e4">80%<svg width="17" height="9" viewBox="0 0 17 9" style="margin-left:4px"><path d="M0 4.500H15.500M11 1.500l4.500 3-4.500 3" stroke="currentColor" stroke-width="1.400" fill="none"/></svg></span><span class="t c m" style="left:416.633px;top:4.8px;font-size:12.8px;color:#ffe6e4"><span>1.061M MEALS</span><span style="font-size:11.500px;margin-left:8px;letter-spacing:1.3px">+3 IN 82s</span></span><span class="t c r" style="right:963.667px;top:5.1px;font-size:12.800px;color:#ffe6e4">90%<svg width="17" height="9" viewBox="0 0 17 9" style="margin-left:4px"><path d="M0 4.500H15.500M11 1.500l4.500 3-4.500 3" stroke="currentColor" stroke-width="1.400" fill="none"/></svg></span><span class="t c m" style="left:749.967px;top:4.8px;font-size:12.8px;color:#ffe6e4"><span>1.187M MEALS</span><span style="font-size:11.500px;margin-left:8px;letter-spacing:1.3px">+3 IN 82s</span></span><span class="t c r" style="right:630.333px;top:5.1px;font-size:12.800px;color:#ffe6e4">100%<svg width="17" height="9" viewBox="0 0 17 9" style="margin-left:4px"><path d="M0 4.500H15.500M11 1.500l4.500 3-4.500 3" stroke="currentColor" stroke-width="1.400" fill="none"/></svg></span><span class="t c m" style="left:1083.3px;top:4.8px;font-size:12.8px;color:#ffe6e4"><span>1.246M MEALS</span><span style="font-size:11.500px;margin-left:8px;letter-spacing:1.3px">+3 IN 82s</span></span><span class="t c m" style="left:1216px;top:5.1px;font-size:12.800px;color:#ffe6e4">25%<svg width="17" height="9" viewBox="0 0 17 9" style="margin-left:4px"><path d="M0 4.500H15.500M11 1.500l4.500 3-4.500 3" stroke="currentColor" stroke-width="1.400" fill="none"/></svg></span><span class="t c m" style="left:1416.63px;top:4.8px;font-size:12.8px;color:#ffe6e4"><span>1.260M MEALS</span><span style="font-size:11.500px;margin-left:8px;letter-spacing:1.3px">+3 IN 82s</span></span><span class="t c m" style="left:83.3px;top:24.8px;font-size:12.8px;color:#e9e2ff"><span>1.520M EXP</span></span><span class="t c r" style="right:1297px;top:25.1px;font-size:12.800px;color:#e9e2ff">75%<svg width="17" height="9" viewBox="0 0 17 9" style="margin-left:4px"><path d="M0 4.500H15.500M11 1.500l4.500 3-4.500 3" stroke="currentColor" stroke-width="1.400" fill="none"/></svg></span><span class="t c m" style="left:416.633px;top:24.8px;font-size:12.8px;color:#e9e2ff"><span>4.890M EXP</span></span><span class="t c r" style="right:963.667px;top:25.1px;font-size:12.800px;color:#e9e2ff">50%<svg width="17" height="9" viewBox="0 0 17 9" style="margin-left:4px"><path d="M0 4.500H15.500M11 1.500l4.500 3-4.500 3" stroke="currentColor" stroke-width="1.400" fill="none"/></svg></span><span class="t c m" style="left:749.967px;top:24.8px;font-size:12.8px;color:#e9e2ff"><span>4.407M EXP</span></span><span class="t c r" style="right:630.333px;top:25.1px;font-size:12.800px;color:#e9e2ff">50%<svg width="17" height="9" viewBox="0 0 17 9" style="margin-left:4px"><path d="M0 4.500H15.500M11 1.500l4.500 3-4.500 3" stroke="currentColor" stroke-width="1.400" fill="none"/></svg></span><span class="t c m" style="left:1083.3px;top:24.8px;font-size:12.8px;color:#e9e2ff"><span>3.465M EXP</span></span><span class="t c m" style="left:1216px;top:25.1px;font-size:12.800px;color:#e9e2ff">20%<svg width="17" height="9" viewBox="0 0 17 9" style="margin-left:4px"><path d="M0 4.500H15.500M11 1.500l4.500 3-4.500 3" stroke="currentColor" stroke-width="1.400" fill="none"/></svg></span><span class="t c m" style="left:1416.63px;top:24.8px;font-size:12.8px;color:#e9e2ff"><span>690.520K EXP</span></span><span class="t c m" style="left:83.3px;top:44.8px;font-size:12.8px;color:#f3e3de"><span>1.393M LOGS</span><span style="font-size:11.500px;margin-left:8px;letter-spacing:1.3px">+20 IN 82s</span></span><span class="t c r" style="right:1297px;top:45.1px;font-size:12.800px;color:#f3e3de;letter-spacing:1.9px">80% (+10%)<svg width="17" height="9" viewBox="0 0 17 9" style="margin-left:0px"><path d="M0 4.500H15.500M11 1.500l4.500 3-4.500 3" stroke="currentColor" stroke-width="1.400" fill="none"/></svg></span><span class="t c m" style="left:416.633px;top:44.8px;font-size:12.8px;color:#f3e3de"><span>556.285K LOGS</span><span style="font-size:11.500px;margin-left:8px;letter-spacing:1.3px">+20 IN 82s</span></span><span class="t c r" style="right:963.667px;top:45.1px;font-size:12.800px;color:#f3e3de;letter-spacing:1.9px">70% (+10%)<svg width="17" height="9" viewBox="0 0 17 9" style="margin-left:0px"><path d="M0 4.500H15.500M11 1.500l4.500 3-4.500 3" stroke="currentColor" stroke-width="1.400" fill="none"/></svg></span><span class="t c m" style="left:749.967px;top:44.8px;font-size:12.8px;color:#f3e3de"><span>729.863K LOGS</span><span style="font-size:11.500px;margin-left:8px;letter-spacing:1.3px">+20 IN 82s</span></span><span class="t c r" style="right:630.333px;top:45.1px;font-size:12.800px;color:#f3e3de;letter-spacing:1.9px">70% (+10%)<svg width="17" height="9" viewBox="0 0 17 9" style="margin-left:0px"><path d="M0 4.500H15.500M11 1.500l4.500 3-4.500 3" stroke="currentColor" stroke-width="1.400" fill="none"/></svg></span><span class="t c m" style="left:1083.3px;top:44.8px;font-size:12.8px;color:#f3e3de"><span>850.738K LOGS</span><span style="font-size:11.500px;margin-left:8px;letter-spacing:1.3px">+20 IN 82s</span></span><span class="t c m" style="left:1216px;top:45.1px;font-size:12.800px;color:#f3e3de;letter-spacing:1.9px">5% (+10%)<svg width="17" height="9" viewBox="0 0 17 9" style="margin-left:0px"><path d="M0 4.500H15.500M11 1.500l4.500 3-4.500 3" stroke="currentColor" stroke-width="1.400" fill="none"/></svg></span><span class="t c m" style="left:1416.63px;top:44.8px;font-size:12.8px;color:#f3e3de"><span>170.975K LOGS</span><span style="font-size:11.500px;margin-left:8px;letter-spacing:1.3px">+20 IN 82s</span></span><span class="t c m" style="left:1549.33px;top:45.1px;font-size:12.800px;color:#f3e3de;letter-spacing:1.9px">30% (+10%)<svg width="17" height="9" viewBox="0 0 17 9" style="margin-left:0px"><path d="M0 4.500H15.500M11 1.500l4.500 3-4.500 3" stroke="currentColor" stroke-width="1.400" fill="none"/></svg></span><span class="t c m" style="left:1416.63px;top:84.8px;font-size:12.8px;color:#3c3822"><span>1.667M LBS</span></span><span class="t c m" style="left:416.633px;top:104.8px;font-size:12.8px;color:#ececec"><span>354.639K BARRELS</span></span><span class="t c r" style="right:963.667px;top:105.1px;font-size:12.800px;color:#ececec;letter-spacing:1.9px">120% (+10%)<svg width="17" height="9" viewBox="0 0 17 9" style="margin-left:0px"><path d="M0 4.500H15.500M11 1.500l4.500 3-4.500 3" stroke="currentColor" stroke-width="1.400" fill="none"/></svg></span><span class="t c m" style="left:749.967px;top:104.8px;font-size:12.8px;color:#ececec"><span>461.031K BARRELS</span></span><span class="t c r" style="right:630.333px;top:105.1px;font-size:12.800px;color:#ececec;letter-spacing:1.9px">120% (+10%)<svg width="17" height="9" viewBox="0 0 17 9" style="margin-left:0px"><path d="M0 4.500H15.500M11 1.500l4.500 3-4.500 3" stroke="currentColor" stroke-width="1.400" fill="none"/></svg></span><span class="t c m" style="left:1083.3px;top:104.8px;font-size:12.8px;color:#ececec"><span>647.733K BARRELS</span></span><span class="t c m" style="left:1216px;top:105.1px;font-size:12.800px;color:#ececec;letter-spacing:1.9px">75% (+10%)<svg width="17" height="9" viewBox="0 0 17 9" style="margin-left:0px"><path d="M0 4.500H15.500M11 1.500l4.500 3-4.500 3" stroke="currentColor" stroke-width="1.400" fill="none"/></svg></span><span class="t c m" style="left:1416.63px;top:104.8px;font-size:12.8px;color:#ececec"><span>213.499K BARRELS</span></span><span class="t c m" style="left:1549.33px;top:105.1px;font-size:12.800px;color:#ececec;letter-spacing:1.9px">50% (+10%)<svg width="17" height="9" viewBox="0 0 17 9" style="margin-left:0px"><path d="M0 4.500H15.500M11 1.500l4.500 3-4.500 3" stroke="currentColor" stroke-width="1.400" fill="none"/></svg></span><span class="t c m" style="left:1416.63px;top:124.8px;font-size:12.8px;color:#1f5668"><span>799.542K MW</span></span><span class="t c m" style="left:83.3px;top:144.8px;font-size:12.8px;color:#ececec"><span>652.630K LBS</span></span><span class="t c r" style="right:1297px;top:145.1px;font-size:12.800px;color:#ececec">75%<svg width="17" height="9" viewBox="0 0 17 9" style="margin-left:4px"><path d="M0 4.500H15.500M11 1.500l4.500 3-4.500 3" stroke="currentColor" stroke-width="1.400" fill="none"/></svg></span><span class="t c m" style="left:416.633px;top:144.8px;font-size:12.8px;color:#ececec"><span>489.472K LBS</span></span><span class="t c r" style="right:963.667px;top:145.1px;font-size:12.800px;color:#ececec">75%<svg width="17" height="9" viewBox="0 0 17 9" style="margin-left:4px"><path d="M0 4.500H15.500M11 1.500l4.500 3-4.500 3" stroke="currentColor" stroke-width="1.400" fill="none"/></svg></span><span class="t c m" style="left:749.967px;top:144.8px;font-size:12.8px;color:#ececec"><span>367.104K LBS</span></span><span class="t c r" style="right:630.333px;top:145.1px;font-size:12.800px;color:#ececec">75%<svg width="17" height="9" viewBox="0 0 17 9" style="margin-left:4px"><path d="M0 4.500H15.500M11 1.500l4.500 3-4.500 3" stroke="currentColor" stroke-width="1.400" fill="none"/></svg></span><span class="t c m" style="left:1083.3px;top:144.8px;font-size:12.8px;color:#ececec"><span>275.328K LBS</span></span><span class="t c m" style="left:1216px;top:145.1px;font-size:12.800px;color:#ececec">75%<svg width="17" height="9" viewBox="0 0 17 9" style="margin-left:4px"><path d="M0 4.500H15.500M11 1.500l4.500 3-4.500 3" stroke="currentColor" stroke-width="1.400" fill="none"/></svg></span><span class="t c m" style="left:1416.63px;top:144.8px;font-size:12.8px;color:#ececec"><span>206.496K LBS</span></span><span class="t c m" style="left:83.3px;top:164.8px;font-size:12.8px;color:#1d3b26"><span>$4.605M</span></span><span class="t c r" style="right:1297px;top:165.1px;font-size:12.800px;color:#1d3b26">110%<svg width="17" height="9" viewBox="0 0 17 9" style="margin-left:4px"><path d="M0 4.500H15.500M11 1.500l4.500 3-4.500 3" stroke="currentColor" stroke-width="1.400" fill="none"/></svg></span><span class="t c m" style="left:416.633px;top:164.8px;font-size:12.8px;color:#1d3b26"><span>$5.275M</span></span><span class="t c r" style="right:963.667px;top:165.1px;font-size:12.800px;color:#1d3b26">110%<svg width="17" height="9" viewBox="0 0 17 9" style="margin-left:4px"><path d="M0 4.500H15.500M11 1.500l4.500 3-4.500 3" stroke="currentColor" stroke-width="1.400" fill="none"/></svg></span><span class="t c m" style="left:749.967px;top:164.8px;font-size:12.8px;color:#1d3b26"><span>$7.841M</span></span><span class="t c r" style="right:630.333px;top:165.1px;font-size:12.800px;color:#1d3b26">110%<svg width="17" height="9" viewBox="0 0 17 9" style="margin-left:4px"><path d="M0 4.500H15.500M11 1.500l4.500 3-4.500 3" stroke="currentColor" stroke-width="1.400" fill="none"/></svg></span><span class="t c m" style="left:1083.3px;top:164.8px;font-size:12.8px;color:#1d3b26"><span>$8.888M</span></span><span class="t c m" style="left:1216px;top:165.1px;font-size:12.800px;color:#1d3b26">300%<svg width="17" height="9" viewBox="0 0 17 9" style="margin-left:4px"><path d="M0 4.500H15.500M11 1.500l4.500 3-4.500 3" stroke="currentColor" stroke-width="1.400" fill="none"/></svg></span><span class="t c m" style="left:1416.63px;top:164.8px;font-size:12.8px;color:#1d3b26"><span>$26.792M</span></span><span class="t c m" style="left:83.3px;top:204.8px;font-size:12.8px;color:#3a3a3a"><span>2.061M PRAYERS</span></span><span class="t c r" style="right:1297px;top:205.1px;font-size:12.800px;color:#3a3a3a">110%<svg width="17" height="9" viewBox="0 0 17 9" style="margin-left:4px"><path d="M0 4.500H15.500M11 1.500l4.500 3-4.500 3" stroke="currentColor" stroke-width="1.400" fill="none"/></svg></span><span class="t c m" style="left:416.633px;top:204.8px;font-size:12.8px;color:#3a3a3a"><span>2.268M PRAYERS</span></span><span class="t c r" style="right:963.667px;top:205.1px;font-size:12.800px;color:#3a3a3a">110%<svg width="17" height="9" viewBox="0 0 17 9" style="margin-left:4px"><path d="M0 4.500H15.500M11 1.500l4.500 3-4.500 3" stroke="currentColor" stroke-width="1.400" fill="none"/></svg></span><span class="t c m" style="left:749.967px;top:204.8px;font-size:12.8px;color:#3a3a3a"><span>2.494M PRAYERS</span></span><span class="t c r" style="right:630.333px;top:205.1px;font-size:12.800px;color:#3a3a3a">60%<svg width="17" height="9" viewBox="0 0 17 9" style="margin-left:4px"><path d="M0 4.500H15.500M11 1.500l4.500 3-4.500 3" stroke="currentColor" stroke-width="1.400" fill="none"/></svg></span><span class="t c m" style="left:83.3px;top:224.8px;font-size:12.8px;color:#3d2c1c"><span>336.664K IDEAS</span></span><span class="t c r" style="right:1297px;top:225.1px;font-size:12.800px;color:#3d2c1c">100%<svg width="17" height="9" viewBox="0 0 17 9" style="margin-left:4px"><path d="M0 4.500H15.500M11 1.500l4.500 3-4.500 3" stroke="currentColor" stroke-width="1.400" fill="none"/></svg></span><span class="t c m" style="left:416.633px;top:224.8px;font-size:12.8px;color:#3d2c1c"><span>2.254M IDEAS</span></span><span class="t c r" style="right:963.667px;top:225.1px;font-size:12.800px;color:#3d2c1c">100%<svg width="17" height="9" viewBox="0 0 17 9" style="margin-left:4px"><path d="M0 4.500H15.500M11 1.500l4.500 3-4.500 3" stroke="currentColor" stroke-width="1.400" fill="none"/></svg></span><span class="t c m" style="left:749.967px;top:224.8px;font-size:12.8px;color:#3d2c1c"><span>2.247M IDEAS</span></span><span class="t c r" style="right:630.333px;top:225.1px;font-size:12.800px;color:#3d2c1c">100%<svg width="17" height="9" viewBox="0 0 17 9" style="margin-left:4px"><path d="M0 4.500H15.500M11 1.500l4.500 3-4.500 3" stroke="currentColor" stroke-width="1.400" fill="none"/></svg></span><span class="t c m" style="left:1083.3px;top:224.8px;font-size:12.8px;color:#3d2c1c"><span>3.743M IDEAS</span></span><span class="t c m" style="left:1216px;top:225.1px;font-size:12.800px;color:#3d2c1c">100%<svg width="17" height="9" viewBox="0 0 17 9" style="margin-left:4px"><path d="M0 4.500H15.500M11 1.500l4.500 3-4.500 3" stroke="currentColor" stroke-width="1.400" fill="none"/></svg></span><span class="t c m" style="left:1416.63px;top:224.8px;font-size:12.8px;color:#3d2c1c"><span>3.495M IDEAS</span></span><span class="t c m" style="left:1549.33px;top:225.1px;font-size:12.800px;color:#3d2c1c">50%<svg width="17" height="9" viewBox="0 0 17 9" style="margin-left:4px"><path d="M0 4.500H15.500M11 1.500l4.500 3-4.500 3" stroke="currentColor" stroke-width="1.400" fill="none"/></svg></span><span class="t c m" style="left:749.967px;top:244.8px;font-size:12.8px;color:#f1e4ff"><span>2.405M PCS</span></span><span class="t c r" style="right:630.333px;top:245.1px;font-size:12.800px;color:#f1e4ff">70%<svg width="17" height="9" viewBox="0 0 17 9" style="margin-left:4px"><path d="M0 4.500H15.500M11 1.500l4.500 3-4.500 3" stroke="currentColor" stroke-width="1.400" fill="none"/></svg></span><span class="t c m" style="left:1083.3px;top:244.8px;font-size:12.8px;color:#f1e4ff"><span>1.684M PCS</span></span><span class="t c m" style="left:1216px;top:245.1px;font-size:12.800px;color:#f1e4ff">50%<svg width="17" height="9" viewBox="0 0 17 9" style="margin-left:4px"><path d="M0 4.500H15.500M11 1.500l4.500 3-4.500 3" stroke="currentColor" stroke-width="1.400" fill="none"/></svg></span><span class="t c m" style="left:1416.63px;top:244.8px;font-size:12.8px;color:#f1e4ff"><span>540.364K PCS</span></span><span class="t c m" style="left:83.3px;top:284.8px;font-size:12.8px;color:#1f2d3d"><span>1.438M LBS</span></span><span class="t c r" style="right:1297px;top:285.1px;font-size:12.800px;color:#1f2d3d">97%<svg width="17" height="9" viewBox="0 0 17 9" style="margin-left:4px"><path d="M0 4.500H15.500M11 1.500l4.500 3-4.500 3" stroke="currentColor" stroke-width="1.400" fill="none"/></svg></span><span class="t c m" style="left:416.633px;top:284.8px;font-size:12.8px;color:#1f2d3d"><span>1.395M LBS</span></span><span class="t c r" style="right:963.667px;top:285.1px;font-size:12.800px;color:#1f2d3d">98%<svg width="17" height="9" viewBox="0 0 17 9" style="margin-left:4px"><path d="M0 4.500H15.500M11 1.500l4.500 3-4.500 3" stroke="currentColor" stroke-width="1.400" fill="none"/></svg></span><span class="t c m" style="left:749.967px;top:284.8px;font-size:12.8px;color:#1f2d3d"><span>1.367M LBS</span></span><span class="t c r" style="right:630.333px;top:285.1px;font-size:12.800px;color:#1f2d3d">99%<svg width="17" height="9" viewBox="0 0 17 9" style="margin-left:4px"><path d="M0 4.500H15.500M11 1.500l4.500 3-4.500 3" stroke="currentColor" stroke-width="1.400" fill="none"/></svg></span><span class="t c m" style="left:1083.3px;top:284.8px;font-size:12.8px;color:#1f2d3d"><span>1.353M LBS</span></span><span class="t c m" style="left:1216px;top:285.1px;font-size:12.800px;color:#1f2d3d">82%<svg width="17" height="9" viewBox="0 0 17 9" style="margin-left:4px"><path d="M0 4.500H15.500M11 1.500l4.500 3-4.500 3" stroke="currentColor" stroke-width="1.400" fill="none"/></svg></span><span class="t c m" style="left:1416.63px;top:284.8px;font-size:12.8px;color:#1f2d3d"><span>1.110M LBS</span></span><div class="a" style="left:337.833px;top:17px;width:1px;height:2px;background:#1f3330"></div><div class="a" style="left:337.833px;top:37px;width:1px;height:2px;background:#1f3330"></div><div class="a" style="left:337.833px;top:57px;width:1px;height:2px;background:#1f3330"></div><div class="a" style="left:337.833px;top:157px;width:1px;height:2px;background:#1f3330"></div><div class="a" style="left:337.833px;top:177px;width:1px;height:2px;background:#1f3330"></div><div class="a" style="left:337.833px;top:217px;width:1px;height:2px;background:#1f3330"></div><div class="a" style="left:337.833px;top:237px;width:1px;height:2px;background:#1f3330"></div><div class="a" style="left:337.833px;top:297px;width:1px;height:2px;background:#1f3330"></div></div>
<div class="clip" style="left:359px;top:503px;width:1544px;height:532px"><span class="t k" style="left:4.33333px;top:9.6px;font-size:11.8px;color:#cdd6d2;letter-spacing:1.25px;transform:scaleX(.72);-webkit-text-stroke:.3px #cdd6d2">JAZZ AGE PRODUCTION</span><div class="a" style="left:4.33333px;top:29px;width:124px;height:138px;background:#71647b;border-radius:3px"></div><span class="t k" style="left:10.8333px;top:34.5px;font-size:12px;color:#e6dee2;letter-spacing:1.25px;transform:scaleX(.615);-webkit-text-stroke:.3px #e6dee2">"DIVINE" PINE STREET</span><span class="t k r" style="right:1511.17px;top:58.1px;font-size:11.8px;color:#ece4e8;transform:scaleX(.72)">90%</span><svg class="a" style="left:36.3333px;top:57px" width="13" height="13"><use href="#i-check"/></svg><span class="t k r" style="right:1463.17px;top:58.1px;font-size:11.8px;color:#ece4e8;transform:scaleX(.72)">10%</span><svg class="a" style="left:85.3333px;top:58px" width="12" height="12"><use href="#i-cross"/></svg><svg class="a" style="left:14.3333px;top:89px" width="10.5" height="15.5"><use href="#i-moai"/></svg><div class="a" style="left:35.3333px;top:84px;width:27px;height:27px;background:#57466e;border-radius:3px"></div><svg class="a" style="left:35px;top:84px" width="27" height="27" viewBox="0 0 27 27"><clipPath id="cp394587"><rect width="27" height="27" rx="3"/></clipPath><g clip-path="url(#cp394587)"><g transform="translate(13.500 28) scale(1.280) translate(-13.500 -27)"><path d="M3 27c1-4 5-5 10.500-5s9.500 1 10.500 5z" fill="#e8b8a8"/><rect x="11" y="18" width="5" height="5" fill="#f2c9b4"/><path d="M7.500 11c0-5 2.500-7 6-7s6 2 6 7c0 6-3 9-6 9s-6-3-6-9z" fill="#f2c9b4"/><path d="M7 11c-1-6 2-8.500 6.500-8.500S21 5 20 11c-.5-3-1.500-4.500-3-5-2 .8-5 .8-7 0-1 1-2 2.500-3 5z" fill="#5a3020"/><path d="M3 7c2-5 7-6 12-5s8 4 9 8c-6-3-14-4-21-3z" fill="#f3e6d0"/><path d="M3 7c7-1 15 0 21 3l-.5 1.500C18 8.500 10 7.500 3.500 8.500z" fill="#b5745a"/><rect x="10" y="11" width="2" height="1.500" fill="#2a2020"/><rect x="15" y="11" width="2" height="1.500" fill="#2a2020"/><rect x="11.500" y="15.800" width="4" height="1.200" fill="#b0504a"/></g></g></svg><span class="t k" style="left:11.3333px;top:124px;font-size:11px;color:#ece4e8;letter-spacing:1px;-webkit-text-stroke:.3px #ece4e8;transform:scaleX(.7)">OUT</span><div class="a" style="left:35.3333px;top:116px;width:27px;height:27px;background:#57466e;border-radius:3px"></div><svg class="a" style="left:39.3333px;top:120px" width="19" height="13"><use href="#i-book"/></svg><div class="a" style="left:41.3333px;top:129px;width:21px;height:14px;background:rgba(48,38,46,.55);border-radius:3px"></div><span class="t k m" style="left:52.0333px;top:130.6px;font-size:12px;color:#e4dcdc;letter-spacing:.8px">3</span><div class="a" style="left:64.8333px;top:116px;width:27px;height:27px;background:#57466e;border-radius:3px"></div><div class="a" style="left:94.3333px;top:116px;width:27px;height:27px;background:#57466e;border-radius:3px"></div><div class="a" style="left:11.3333px;top:154px;width:56px;height:6.3px;background:#a98372;border-radius:3.200px"></div><div class="a" style="left:11.3333px;top:154px;width:20.72px;height:6.3px;background:#c6b1de;border-radius:1.500px 0 0 1.500px"></div><svg class="a" style="left:74.3333px;top:148.5px" width="12" height="14.5"><use href="#i-watch"/></svg><span class="t k" style="left:91.3333px;top:149.95px;font-size:11.7px;color:#ece4e8;letter-spacing:1.5px;transform:scaleX(.72);-webkit-text-stroke:.3px #ece4e8">1.2</span><span class="t k" style="left:109.633px;top:152.05px;font-size:9.3px;color:#ece4e8;letter-spacing:1.3px;transform:scaleX(.64);-webkit-text-stroke:.3px #ece4e8">SEC</span><div class="a" style="left:135px;top:29px;width:124px;height:138px;background:#71647b;border-radius:3px"></div><span class="t k" style="left:141.5px;top:34.5px;font-size:12px;color:#e6dee2;letter-spacing:1.25px;transform:scaleX(.615);-webkit-text-stroke:.3px #e6dee2">UNITY RECREATION</span><span class="t k r" style="right:1380.5px;top:58.1px;font-size:11.8px;color:#ece4e8;transform:scaleX(.72)">97%</span><svg class="a" style="left:167px;top:57px" width="13" height="13"><use href="#i-check"/></svg><span class="t k r" style="right:1332.5px;top:58.1px;font-size:11.8px;color:#ece4e8;transform:scaleX(.72)">3%</span><svg class="a" style="left:216px;top:58px" width="12" height="12"><use href="#i-cross"/></svg><svg class="a" style="left:145px;top:89px" width="10.5" height="15.5"><use href="#i-moai"/></svg><div class="a" style="left:166px;top:84px;width:27px;height:27px;background:#57466e;border-radius:3px"></div><svg class="a" style="left:166px;top:84px" width="27" height="27" viewBox="0 0 27 27"><clipPath id="cp525587"><rect width="27" height="27" rx="3"/></clipPath><g clip-path="url(#cp525587)"><rect width="27" height="27" fill="#57466e"/><g transform="translate(13.500 28) scale(1.280) translate(-13.500 -27)"><path d="M3 27c1-4 5-5 10.500-5s9.500 1 10.500 5z" fill="#3a8a7a"/><rect x="11" y="18" width="5" height="5" fill="#a8714e"/><path d="M7.500 11c0-5 2.500-7 6-7s6 2 6 7c0 6-3 9-6 9s-6-3-6-9z" fill="#a8714e"/><path d="M7 11c-1-6 2-8.500 6.500-8.500S21 5 20 11c-.5-3-1.500-4.500-3-5-2 .8-5 .8-7 0-1 1-2 2.500-3 5z" fill="#171717"/><rect x="10" y="11" width="2" height="1.500" fill="#2a2020"/><rect x="15" y="11" width="2" height="1.500" fill="#2a2020"/><rect x="11.500" y="15.800" width="4" height="1.200" fill="#b0504a"/></g></g></svg><span class="t k" style="left:142px;top:124px;font-size:11px;color:#ece4e8;letter-spacing:1px;-webkit-text-stroke:.3px #ece4e8;transform:scaleX(.7)">OUT</span><div class="a" style="left:166px;top:116px;width:27px;height:27px;background:#57466e;border-radius:3px"></div><svg class="a" style="left:169.5px;top:120px" width="20" height="15"><use href="#i-steak"/></svg><div class="a" style="left:172px;top:129px;width:21px;height:14px;background:rgba(48,38,46,.55);border-radius:3px"></div><span class="t k m" style="left:182.7px;top:130.6px;font-size:12px;color:#e4dcdc;letter-spacing:.8px">5</span><div class="a" style="left:195.5px;top:116px;width:27px;height:27px;background:#57466e;border-radius:3px"></div><svg class="a" style="left:199px;top:119px" width="20" height="15"><use href="#i-wood"/></svg><div class="a" style="left:201.5px;top:129px;width:21px;height:14px;background:rgba(48,38,46,.55);border-radius:3px"></div><span class="t k m" style="left:212.2px;top:130.6px;font-size:12px;color:#e4dcdc;letter-spacing:.8px">4</span><div class="a" style="left:225px;top:116px;width:27px;height:27px;background:#57466e;border-radius:3px"></div><svg class="a" style="left:229px;top:120px" width="19" height="13"><use href="#i-book"/></svg><div class="a" style="left:231px;top:129px;width:21px;height:14px;background:rgba(48,38,46,.55);border-radius:3px"></div><span class="t k m" style="left:241.7px;top:130.6px;font-size:12px;color:#e4dcdc;letter-spacing:.8px">2</span><div class="a" style="left:142px;top:154px;width:56px;height:6.3px;background:#a98372;border-radius:3.200px"></div><div class="a" style="left:142px;top:154px;width:30.8px;height:6.3px;background:#c6b1de;border-radius:1.500px 0 0 1.500px"></div><svg class="a" style="left:205px;top:148.5px" width="12" height="14.5"><use href="#i-watch"/></svg><span class="t k" style="left:222px;top:149.95px;font-size:11.7px;color:#ece4e8;letter-spacing:1.5px;transform:scaleX(.72);-webkit-text-stroke:.3px #ece4e8">2.2</span><span class="t k" style="left:240.3px;top:152.05px;font-size:9.3px;color:#ece4e8;letter-spacing:1.3px;transform:scaleX(.64);-webkit-text-stroke:.3px #ece4e8">SEC</span><div class="a" style="left:4.33333px;top:174px;width:124px;height:138px;background:#463a39;border-radius:3px"></div><span class="t k" style="left:10.8333px;top:178.75px;font-size:14.5px;color:#e6dee2;letter-spacing:1.25px;transform:scaleX(.615);-webkit-text-stroke:.3px #e6dee2">VIVIENNE’S CAFÉ</span><svg class="a" style="left:14.3333px;top:204px" width="10.5" height="15.5"><use href="#i-moai"/></svg><div class="a" style="left:35.3333px;top:199px;width:27px;height:27px;background:#38262a;border-radius:3px"></div><div class="a" style="left:64.8333px;top:199px;width:27px;height:27px;background:#38262a;border-radius:3px"></div><div class="a" style="left:94.3333px;top:199px;width:27px;height:27px;background:#38262a;border-radius:3px"></div><span class="t k" style="left:13.3333px;top:238px;font-size:11px;color:#ece4e8;-webkit-text-stroke:.3px #ece4e8;transform:scaleX(.7)">IN</span><div class="a" style="left:35.3333px;top:230px;width:27px;height:27px;background:#38262a;border-radius:3px"></div><svg class="a" style="left:39.3333px;top:234px" width="19" height="13"><use href="#i-book"/></svg><div class="a" style="left:41.3333px;top:243px;width:21px;height:14px;background:rgba(48,38,46,.55);border-radius:3px"></div><span class="t k m" style="left:52.0333px;top:244.6px;font-size:12px;color:#e4dcdc;letter-spacing:.8px">1</span><div class="a" style="left:64.8333px;top:230px;width:27px;height:27px;background:#38262a;border-radius:3px"></div><span class="t k" style="left:11.3333px;top:269px;font-size:11px;color:#ece4e8;letter-spacing:1px;-webkit-text-stroke:.3px #ece4e8;transform:scaleX(.7)">OUT</span><div class="a" style="left:35.3333px;top:261px;width:27px;height:27px;background:#38262a;border-radius:3px"></div><svg class="a" style="left:39.3333px;top:267px" width="19" height="12"><use href="#i-money"/></svg><div class="a" style="left:41.3333px;top:274px;width:21px;height:14px;background:rgba(48,38,46,.55);border-radius:3px"></div><span class="t k m" style="left:52.0333px;top:275.6px;font-size:12px;color:#e4dcdc;letter-spacing:.8px">5</span><div class="a" style="left:64.8333px;top:261px;width:27px;height:27px;background:#38262a;border-radius:3px"></div><div class="a" style="left:94.3333px;top:261px;width:27px;height:27px;background:#38262a;border-radius:3px"></div><div class="a" style="left:11.3333px;top:299px;width:56px;height:6.3px;background:#a98372;border-radius:3.200px"></div><svg class="a" style="left:74.3333px;top:293.5px" width="12" height="14.5"><use href="#i-watch"/></svg><span class="t" style="left:91.6333px;top:295px;font-size:11px;color:#ece4e8;font-weight:bold;transform:scaleX(.95);transform-origin:0 50%">&#8734;</span><span class="t k" style="left:103.333px;top:297.05px;font-size:9.3px;color:#ece4e8;letter-spacing:1.3px;transform:scaleX(.64);-webkit-text-stroke:.3px #ece4e8">SEC</span><div class="a" style="left:135px;top:174px;width:124px;height:138px;background:#7b6563;border-radius:3px"></div><span class="t k" style="left:141.5px;top:179.5px;font-size:12px;color:#e6dee2;letter-spacing:1.25px;transform:scaleX(.615);-webkit-text-stroke:.3px #e6dee2">ASBURY POLICE STATION</span><svg class="a" style="left:145px;top:204px" width="10.5" height="15.5"><use href="#i-moai"/></svg><div class="a" style="left:166px;top:199px;width:27px;height:27px;background:#6a4443;border-radius:3px"></div><div class="a" style="left:195.5px;top:199px;width:27px;height:27px;background:#6a4443;border-radius:3px"></div><div class="a" style="left:225px;top:199px;width:27px;height:27px;background:#6a4443;border-radius:3px"></div><svg class="a" style="left:225px;top:199px" width="27" height="27" viewBox="0 0 27 27"><clipPath id="cp584702"><rect width="27" height="27" rx="3"/></clipPath><g clip-path="url(#cp584702)"><rect width="27" height="27" fill="#8a6a3c"/><g transform="translate(13.500 28) scale(1.280) translate(-13.500 -27)"><path d="M3 27c1-4 5-5 10.500-5s9.500 1 10.500 5z" fill="#f4f4f4"/><rect x="11" y="18" width="5" height="5" fill="#f2c9a8"/><path d="M7.500 11c0-5 2.500-7 6-7s6 2 6 7c0 6-3 9-6 9s-6-3-6-9z" fill="#f2c9a8"/><path d="M7 11c-1-6 2-8.500 6.500-8.500S21 5 20 11c-.5-3-1.500-4.500-3-5-2 .8-5 .8-7 0-1 1-2 2.500-3 5z" fill="#c9a050"/><rect x="10" y="11" width="2" height="1.500" fill="#2a2020"/><rect x="15" y="11" width="2" height="1.500" fill="#2a2020"/><rect x="10.500" y="15" width="6" height="1.600" rx=".8" fill="#c9a050"/></g></g></svg><span class="t k" style="left:144px;top:238px;font-size:11px;color:#ece4e8;-webkit-text-stroke:.3px #ece4e8;transform:scaleX(.7)">IN</span><div class="a" style="left:166px;top:230px;width:27px;height:27px;background:#6a4443;border-radius:3px"></div><svg class="a" style="left:169.5px;top:234px" width="20" height="15"><use href="#i-steak"/></svg><div class="a" style="left:172px;top:243px;width:21px;height:14px;background:rgba(48,38,46,.55);border-radius:3px"></div><span class="t k m" style="left:182.7px;top:244.6px;font-size:12px;color:#e4dcdc;letter-spacing:.8px">2</span><div class="a" style="left:195.5px;top:230px;width:27px;height:27px;background:#6a4443;border-radius:3px"></div><svg class="a" style="left:199.5px;top:234px" width="19" height="13"><use href="#i-book"/></svg><div class="a" style="left:201.5px;top:243px;width:21px;height:14px;background:rgba(48,38,46,.55);border-radius:3px"></div><span class="t k m" style="left:212.2px;top:244.6px;font-size:12px;color:#e4dcdc;letter-spacing:.8px">3</span><span class="t k" style="left:142px;top:269px;font-size:11px;color:#ece4e8;letter-spacing:1px;-webkit-text-stroke:.3px #ece4e8;transform:scaleX(.7)">OUT</span><div class="a" style="left:166px;top:261px;width:27px;height:27px;background:#6a4443;border-radius:3px"></div><svg class="a" style="left:170px;top:267px" width="19" height="12"><use href="#i-money"/></svg><div class="a" style="left:172px;top:274px;width:21px;height:14px;background:rgba(48,38,46,.55);border-radius:3px"></div><span class="t k m" style="left:182.7px;top:275.6px;font-size:12px;color:#e4dcdc;letter-spacing:.8px">6</span><div class="a" style="left:195.5px;top:261px;width:27px;height:27px;background:#6a4443;border-radius:3px"></div><svg class="a" style="left:199.5px;top:264px" width="19" height="16"><use href="#i-steel"/></svg><div class="a" style="left:201.5px;top:274px;width:21px;height:14px;background:rgba(48,38,46,.55);border-radius:3px"></div><span class="t k m" style="left:212.2px;top:275.6px;font-size:12px;color:#e4dcdc;letter-spacing:.8px">5</span><div class="a" style="left:225px;top:261px;width:27px;height:27px;background:#6a4443;border-radius:3px"></div><div class="a" style="left:142px;top:299px;width:56px;height:6.3px;background:#a98372;border-radius:3.200px"></div><svg class="a" style="left:205px;top:293.5px" width="12" height="14.5"><use href="#i-watch"/></svg><span class="t k" style="left:222px;top:294.95px;font-size:11.7px;color:#ece4e8;letter-spacing:1.5px;transform:scaleX(.72);-webkit-text-stroke:.3px #ece4e8">0.0</span><span class="t k" style="left:240.3px;top:297.05px;font-size:9.3px;color:#ece4e8;letter-spacing:1.3px;transform:scaleX(.64);-webkit-text-stroke:.3px #ece4e8">SEC</span><div class="a" style="left:4.33333px;top:319px;width:124px;height:138px;background:#463a39;border-radius:3px"></div><span class="t k" style="left:10.8333px;top:323.75px;font-size:14.5px;color:#e6dee2;letter-spacing:1.25px;transform:scaleX(.615);-webkit-text-stroke:.3px #e6dee2">ASBURY STEEL</span><svg class="a" style="left:14.3333px;top:349px" width="10.5" height="15.5"><use href="#i-moai"/></svg><div class="a" style="left:35.3333px;top:344px;width:27px;height:27px;background:#38262a;border-radius:3px"></div><div class="a" style="left:64.8333px;top:344px;width:27px;height:27px;background:#38262a;border-radius:3px"></div><div class="a" style="left:94.3333px;top:344px;width:27px;height:27px;background:#38262a;border-radius:3px"></div><span class="t k" style="left:13.3333px;top:383px;font-size:11px;color:#ece4e8;-webkit-text-stroke:.3px #ece4e8;transform:scaleX(.7)">IN</span><div class="a" style="left:35.3333px;top:375px;width:27px;height:27px;background:#38262a;border-radius:3px"></div><svg class="a" style="left:38.8333px;top:379px" width="20" height="15"><use href="#i-steak"/></svg><div class="a" style="left:41.3333px;top:388px;width:21px;height:14px;background:rgba(48,38,46,.55);border-radius:3px"></div><span class="t k m" style="left:52.0333px;top:389.6px;font-size:12px;color:#e4dcdc;letter-spacing:.8px">2</span><div class="a" style="left:64.8333px;top:375px;width:27px;height:27px;background:#38262a;border-radius:3px"></div><svg class="a" style="left:68.8333px;top:379px" width="19" height="13"><use href="#i-book"/></svg><div class="a" style="left:70.8333px;top:388px;width:21px;height:14px;background:rgba(48,38,46,.55);border-radius:3px"></div><span class="t k m" style="left:81.5333px;top:389.6px;font-size:12px;color:#e4dcdc;letter-spacing:.8px">4</span><span class="t k" style="left:11.3333px;top:414px;font-size:11px;color:#ece4e8;letter-spacing:1px;-webkit-text-stroke:.3px #ece4e8;transform:scaleX(.7)">OUT</span><div class="a" style="left:35.3333px;top:406px;width:27px;height:27px;background:#38262a;border-radius:3px"></div><svg class="a" style="left:39.3333px;top:412px" width="19" height="12"><use href="#i-money"/></svg><div class="a" style="left:41.3333px;top:419px;width:21px;height:14px;background:rgba(48,38,46,.55);border-radius:3px"></div><span class="t k m" style="left:52.0333px;top:420.6px;font-size:12px;color:#e4dcdc;letter-spacing:.8px">7</span><div class="a" style="left:64.8333px;top:406px;width:27px;height:27px;background:#38262a;border-radius:3px"></div><svg class="a" style="left:68.8333px;top:409px" width="19" height="16"><use href="#i-steel"/></svg><div class="a" style="left:70.8333px;top:419px;width:21px;height:14px;background:rgba(48,38,46,.55);border-radius:3px"></div><span class="t k m" style="left:81.5333px;top:420.6px;font-size:12px;color:#e4dcdc;letter-spacing:.8px">7</span><div class="a" style="left:94.3333px;top:406px;width:27px;height:27px;background:#38262a;border-radius:3px"></div><div class="a" style="left:11.3333px;top:444px;width:56px;height:6.3px;background:#a98372;border-radius:3.200px"></div><svg class="a" style="left:74.3333px;top:438.5px" width="12" height="14.5"><use href="#i-watch"/></svg><span class="t" style="left:91.6333px;top:440px;font-size:11px;color:#ece4e8;font-weight:bold;transform:scaleX(.95);transform-origin:0 50%">&#8734;</span><span class="t k" style="left:103.333px;top:442.05px;font-size:9.3px;color:#ece4e8;letter-spacing:1.3px;transform:scaleX(.64);-webkit-text-stroke:.3px #ece4e8">SEC</span><div class="a" style="left:135px;top:319px;width:124px;height:138px;background:#43433a;border-radius:3px"></div><span class="t k" style="left:141.5px;top:324.25px;font-size:12.5px;color:#e6dee2;letter-spacing:1.25px;transform:scaleX(.615);-webkit-text-stroke:.3px #e6dee2">MT. ULYSSES</span><svg class="a" style="left:145px;top:349px" width="10.5" height="15.5"><use href="#i-moai"/></svg><div class="a" style="left:166px;top:344px;width:27px;height:27px;background:#38382a;border-radius:3px"></div><span class="t k" style="left:144px;top:383px;font-size:11px;color:#ece4e8;-webkit-text-stroke:.3px #ece4e8;transform:scaleX(.7)">IN</span><div class="a" style="left:166px;top:375px;width:27px;height:27px;background:#38382a;border-radius:3px"></div><svg class="a" style="left:170px;top:381px" width="19" height="12"><use href="#i-money"/></svg><div class="a" style="left:172px;top:388px;width:21px;height:14px;background:rgba(48,38,46,.55);border-radius:3px"></div><span class="t k m" style="left:182.7px;top:389.6px;font-size:12px;color:#e4dcdc;letter-spacing:.8px">5</span><div class="a" style="left:195.5px;top:375px;width:27px;height:27px;background:#38382a;border-radius:3px"></div><svg class="a" style="left:199.5px;top:378px" width="19" height="16"><use href="#i-steel"/></svg><div class="a" style="left:201.5px;top:388px;width:21px;height:14px;background:rgba(48,38,46,.55);border-radius:3px"></div><span class="t k m" style="left:212.2px;top:389.6px;font-size:12px;color:#e4dcdc;letter-spacing:.8px">3</span><div class="a" style="left:225px;top:375px;width:27px;height:27px;background:#38382a;border-radius:3px"></div><span class="t k" style="left:142px;top:414px;font-size:11px;color:#ece4e8;letter-spacing:1px;-webkit-text-stroke:.3px #ece4e8;transform:scaleX(.7)">OUT</span><div class="a" style="left:166px;top:406px;width:27px;height:27px;background:#38382a;border-radius:3px"></div><svg class="a" style="left:171px;top:408px" width="17" height="17"><use href="#i-trophy"/></svg><div class="a" style="left:172px;top:419px;width:21px;height:14px;background:rgba(48,38,46,.55);border-radius:3px"></div><span class="t k m" style="left:182.7px;top:420.6px;font-size:12px;color:#e4dcdc;letter-spacing:.8px">22</span><div class="a" style="left:142px;top:444px;width:56px;height:6.3px;background:#a98372;border-radius:3.200px"></div><svg class="a" style="left:205px;top:438.5px" width="12" height="14.5"><use href="#i-watch"/></svg><span class="t" style="left:222.3px;top:440px;font-size:11px;color:#ece4e8;font-weight:bold;transform:scaleX(.95);transform-origin:0 50%">&#8734;</span><span class="t k" style="left:234px;top:442.05px;font-size:9.3px;color:#ece4e8;letter-spacing:1.3px;transform:scaleX(.64);-webkit-text-stroke:.3px #ece4e8">SEC</span><span class="t k" style="left:337.667px;top:9.6px;font-size:11.8px;color:#cdd6d2;letter-spacing:1.25px;transform:scaleX(.72);-webkit-text-stroke:.3px #cdd6d2">SPACE AGE PRODUCTION</span><div class="a" style="left:337.667px;top:29px;width:124px;height:138px;background:#3f3846;border-radius:3px"></div><span class="t" style="left:358.667px;top:83px;font-family:'Liberation Serif',serif;font-style:italic;font-weight:normal;font-size:30px;color:#bdbdbd;transform:scaleX(.84);transform-origin:0 50%;letter-spacing:.5px">Locked.</span><div class="a" style="left:468.333px;top:29px;width:124px;height:138px;background:#71647b;border-radius:3px"></div><span class="t k" style="left:474.833px;top:34.5px;font-size:12px;color:#e6dee2;letter-spacing:1.25px;transform:scaleX(.615);-webkit-text-stroke:.3px #e6dee2">FOUR CORNERS SERVICE</span><span class="t k r" style="right:1047.17px;top:58.1px;font-size:11.8px;color:#ece4e8;transform:scaleX(.72)">64%</span><svg class="a" style="left:500.333px;top:57px" width="13" height="13"><use href="#i-check"/></svg><span class="t k r" style="right:999.167px;top:58.1px;font-size:11.8px;color:#ece4e8;transform:scaleX(.72)">36%</span><svg class="a" style="left:549.333px;top:58px" width="12" height="12"><use href="#i-cross"/></svg><svg class="a" style="left:478.333px;top:89px" width="10.5" height="15.5"><use href="#i-moai"/></svg><div class="a" style="left:499.333px;top:84px;width:27px;height:27px;background:#57466e;border-radius:3px"></div><svg class="a" style="left:499px;top:84px" width="27" height="27" viewBox="0 0 27 27"><clipPath id="cp858587"><rect width="27" height="27" rx="3"/></clipPath><g clip-path="url(#cp858587)"><rect width="27" height="27" fill="#57466e"/><g transform="translate(13.500 28) scale(1.280) translate(-13.500 -27)"><path d="M3 27c1-4 5-5 10.500-5s9.500 1 10.500 5z" fill="#f4f4f4"/><rect x="11" y="18" width="5" height="5" fill="#eab898"/><path d="M7.500 11c0-5 2.500-7 6-7s6 2 6 7c0 6-3 9-6 9s-6-3-6-9z" fill="#eab898"/><path d="M7 11c-1-6 2-8.500 6.500-8.500S21 5 20 11c-.5-3-1.500-4.500-3-5-2 .8-5 .8-7 0-1 1-2 2.500-3 5z" fill="#5a3a22"/><rect x="10" y="11" width="2" height="1.500" fill="#2a2020"/><rect x="15" y="11" width="2" height="1.500" fill="#2a2020"/><rect x="10.500" y="15" width="6" height="1.600" rx=".8" fill="#5a3a22"/></g></g></svg><span class="t k" style="left:475.333px;top:124px;font-size:11px;color:#ece4e8;letter-spacing:1px;-webkit-text-stroke:.3px #ece4e8;transform:scaleX(.7)">OUT</span><div class="a" style="left:499.333px;top:116px;width:27px;height:27px;background:#57466e;border-radius:3px"></div><svg class="a" style="left:502.833px;top:119px" width="20" height="15"><use href="#i-wood"/></svg><div class="a" style="left:505.333px;top:129px;width:21px;height:14px;background:rgba(48,38,46,.55);border-radius:3px"></div><span class="t k m" style="left:516.033px;top:130.6px;font-size:12px;color:#e4dcdc;letter-spacing:.8px">2</span><div class="a" style="left:528.833px;top:116px;width:27px;height:27px;background:#57466e;border-radius:3px"></div><svg class="a" style="left:532.833px;top:122px" width="19" height="12"><use href="#i-money"/></svg><div class="a" style="left:534.833px;top:129px;width:21px;height:14px;background:rgba(48,38,46,.55);border-radius:3px"></div><span class="t k m" style="left:545.533px;top:130.6px;font-size:12px;color:#e4dcdc;letter-spacing:.8px">3</span><div class="a" style="left:558.333px;top:116px;width:27px;height:27px;background:#57466e;border-radius:3px"></div><div class="a" style="left:475.333px;top:154px;width:56px;height:6.3px;background:#a98372;border-radius:3.200px"></div><div class="a" style="left:475.333px;top:154px;width:54.32px;height:6.3px;background:#c6b1de;border-radius:1.500px 3px 3px 1.500px"></div><svg class="a" style="left:538.333px;top:148.5px" width="12" height="14.5"><use href="#i-watch"/></svg><span class="t k" style="left:555.333px;top:149.95px;font-size:11.7px;color:#ece4e8;letter-spacing:1.5px;transform:scaleX(.72);-webkit-text-stroke:.3px #ece4e8">7.0</span><span class="t k" style="left:573.633px;top:152.05px;font-size:9.3px;color:#ece4e8;letter-spacing:1.3px;transform:scaleX(.64);-webkit-text-stroke:.3px #ece4e8">SEC</span><div class="a" style="left:337.667px;top:174px;width:124px;height:138px;background:#71647b;border-radius:3px"></div><span class="t k" style="left:344.167px;top:179.5px;font-size:12px;color:#e6dee2;letter-spacing:1.25px;transform:scaleX(.615);-webkit-text-stroke:.3px #e6dee2">HILLCREST PLAYGROUND</span><span class="t k r" style="right:1177.83px;top:203.1px;font-size:11.8px;color:#ece4e8;transform:scaleX(.72)">77%</span><svg class="a" style="left:369.667px;top:202px" width="13" height="13"><use href="#i-check"/></svg><span class="t k r" style="right:1129.83px;top:203.1px;font-size:11.8px;color:#ece4e8;transform:scaleX(.72)">23%</span><svg class="a" style="left:418.667px;top:203px" width="12" height="12"><use href="#i-cross"/></svg><svg class="a" style="left:347.667px;top:234px" width="10.5" height="15.5"><use href="#i-moai"/></svg><div class="a" style="left:368.667px;top:229px;width:27px;height:27px;background:#57466e;border-radius:3px"></div><svg class="a" style="left:369px;top:229px" width="27" height="27" viewBox="0 0 27 27"><clipPath id="cp728732"><rect width="27" height="27" rx="3"/></clipPath><g clip-path="url(#cp728732)"><rect width="27" height="27" fill="#57466e"/><g transform="translate(13.500 28) scale(1.280) translate(-13.500 -27)"><path d="M4 27C3 14 5 3 13.500 3S24 14 23 27z" fill="#6a3a22"/><path d="M3 27c1-4 5-5 10.500-5s9.500 1 10.500 5z" fill="#6a3a22"/><rect x="11" y="18" width="5" height="5" fill="#f4d4c4"/><path d="M7.500 11c0-5 2.500-7 6-7s6 2 6 7c0 6-3 9-6 9s-6-3-6-9z" fill="#f4d4c4"/><path d="M7 12C6.500 6 9 3.500 13.500 3.500S20.500 6 20 12c-1-3-2-5-3-5.500-2 1-4 1-6 .5-1.500 1-3 2.500-4 5z" fill="#6a3a22"/><rect x="10" y="11" width="2" height="1.500" fill="#2a2020"/><rect x="15" y="11" width="2" height="1.500" fill="#2a2020"/><rect x="11.500" y="15.800" width="4" height="1.200" fill="#b0504a"/></g></g></svg><span class="t k" style="left:344.667px;top:269px;font-size:11px;color:#ece4e8;letter-spacing:1px;-webkit-text-stroke:.3px #ece4e8;transform:scaleX(.7)">OUT</span><div class="a" style="left:368.667px;top:261px;width:27px;height:27px;background:#57466e;border-radius:3px"></div><svg class="a" style="left:372.167px;top:264px" width="20" height="15"><use href="#i-wood"/></svg><div class="a" style="left:374.667px;top:274px;width:21px;height:14px;background:rgba(48,38,46,.55);border-radius:3px"></div><span class="t k m" style="left:385.367px;top:275.6px;font-size:12px;color:#e4dcdc;letter-spacing:.8px">4</span><div class="a" style="left:398.167px;top:261px;width:27px;height:27px;background:#57466e;border-radius:3px"></div><svg class="a" style="left:402.167px;top:267px" width="19" height="12"><use href="#i-money"/></svg><div class="a" style="left:404.167px;top:274px;width:21px;height:14px;background:rgba(48,38,46,.55);border-radius:3px"></div><span class="t k m" style="left:414.867px;top:275.6px;font-size:12px;color:#e4dcdc;letter-spacing:.8px">2</span><div class="a" style="left:427.667px;top:261px;width:27px;height:27px;background:#57466e;border-radius:3px"></div><div class="a" style="left:344.667px;top:299px;width:56px;height:6.3px;background:#a98372;border-radius:3.200px"></div><div class="a" style="left:344.667px;top:299px;width:32.48px;height:6.3px;background:#c6b1de;border-radius:1.500px 0 0 1.500px"></div><svg class="a" style="left:407.667px;top:293.5px" width="12" height="14.5"><use href="#i-watch"/></svg><span class="t k" style="left:424.667px;top:294.95px;font-size:11.7px;color:#ece4e8;letter-spacing:1.5px;transform:scaleX(.72);-webkit-text-stroke:.3px #ece4e8">3.3</span><span class="t k" style="left:442.967px;top:297.05px;font-size:9.3px;color:#ece4e8;letter-spacing:1.3px;transform:scaleX(.64);-webkit-text-stroke:.3px #ece4e8">SEC</span><div class="a" style="left:468.333px;top:174px;width:124px;height:138px;background:#71647b;border-radius:3px"></div><span class="t k" style="left:474.833px;top:178.75px;font-size:14.5px;color:#e6dee2;letter-spacing:1.25px;transform:scaleX(.615);-webkit-text-stroke:.3px #e6dee2">TOWN SEWERS</span><span class="t k r" style="right:1047.17px;top:203.1px;font-size:11.8px;color:#ece4e8;transform:scaleX(.72)">59%</span><svg class="a" style="left:500.333px;top:202px" width="13" height="13"><use href="#i-check"/></svg><span class="t k r" style="right:999.167px;top:203.1px;font-size:11.8px;color:#ece4e8;transform:scaleX(.72)">41%</span><svg class="a" style="left:549.333px;top:203px" width="12" height="12"><use href="#i-cross"/></svg><svg class="a" style="left:478.333px;top:234px" width="10.5" height="15.5"><use href="#i-moai"/></svg><div class="a" style="left:499.333px;top:229px;width:27px;height:27px;background:#57466e;border-radius:3px"></div><svg class="a" style="left:499px;top:229px" width="27" height="27" viewBox="0 0 27 27"><clipPath id="cp858732"><rect width="27" height="27" rx="3"/></clipPath><g clip-path="url(#cp858732)"><rect width="27" height="27" fill="#57466e"/><g transform="translate(13.500 28) scale(1.280) translate(-13.500 -27)"><path d="M3 27c1-4 5-5 10.500-5s9.500 1 10.500 5z" fill="#4a4a44"/><rect x="11" y="18" width="5" height="5" fill="#ecc9b0"/><path d="M7.500 11c0-5 2.500-7 6-7s6 2 6 7c0 6-3 9-6 9s-6-3-6-9z" fill="#ecc9b0"/><path d="M7 11c-1-6 2-8.500 6.500-8.500S21 5 20 11c-.5-3-1.500-4.500-3-5-2 .8-5 .8-7 0-1 1-2 2.500-3 5z" fill="#2a2a2a"/><rect x="10" y="11" width="2" height="1.500" fill="#2a2020"/><rect x="15" y="11" width="2" height="1.500" fill="#2a2020"/><rect x="11.500" y="15.800" width="4" height="1.200" fill="#b0504a"/></g></g></svg><span class="t k" style="left:475.333px;top:269px;font-size:11px;color:#ece4e8;letter-spacing:1px;-webkit-text-stroke:.3px #ece4e8;transform:scaleX(.7)">OUT</span><div class="a" style="left:499.333px;top:261px;width:27px;height:27px;background:#57466e;border-radius:3px"></div><svg class="a" style="left:507.333px;top:263px" width="12" height="17"><use href="#i-barrel"/></svg><div class="a" style="left:505.333px;top:274px;width:21px;height:14px;background:rgba(48,38,46,.55);border-radius:3px"></div><span class="t k m" style="left:516.033px;top:275.6px;font-size:12px;color:#e4dcdc;letter-spacing:.8px">3</span><div class="a" style="left:528.833px;top:261px;width:27px;height:27px;background:#57466e;border-radius:3px"></div><div class="a" style="left:558.333px;top:261px;width:27px;height:27px;background:#57466e;border-radius:3px"></div><div class="a" style="left:475.333px;top:299px;width:56px;height:6.3px;background:#a98372;border-radius:3.200px"></div><div class="a" style="left:475.333px;top:299px;width:35.84px;height:6.3px;background:#c6b1de;border-radius:1.500px 0 0 1.500px"></div><svg class="a" style="left:538.333px;top:293.5px" width="12" height="14.5"><use href="#i-watch"/></svg><span class="t k" style="left:555.333px;top:294.95px;font-size:11.7px;color:#ece4e8;letter-spacing:1.5px;transform:scaleX(.72);-webkit-text-stroke:.3px #ece4e8">1.1</span><span class="t k" style="left:573.633px;top:297.05px;font-size:9.3px;color:#ece4e8;letter-spacing:1.3px;transform:scaleX(.64);-webkit-text-stroke:.3px #ece4e8">SEC</span><div class="a" style="left:337.667px;top:319px;width:124px;height:138px;background:#7b6563;border-radius:3px"></div><span class="t k" style="left:344.167px;top:324.5px;font-size:12px;color:#e6dee2;letter-spacing:1.25px;transform:scaleX(.615);-webkit-text-stroke:.3px #e6dee2">SLOAN’S LOANS AND</span><svg class="a" style="left:347.667px;top:349px" width="10.5" height="15.5"><use href="#i-moai"/></svg><div class="a" style="left:368.667px;top:344px;width:27px;height:27px;background:#6a4443;border-radius:3px"></div><div class="a" style="left:398.167px;top:344px;width:27px;height:27px;background:#6a4443;border-radius:3px"></div><div class="a" style="left:427.667px;top:344px;width:27px;height:27px;background:#6a4443;border-radius:3px"></div><svg class="a" style="left:428px;top:344px" width="27" height="27" viewBox="0 0 27 27"><clipPath id="cp787847"><rect width="27" height="27" rx="3"/></clipPath><g clip-path="url(#cp787847)"><rect width="27" height="27" fill="#6a4443"/><g transform="translate(13.500 28) scale(1.280) translate(-13.500 -27)"><path d="M3 27c1-4 5-5 10.500-5s9.500 1 10.500 5z" fill="#7a4a3a"/><rect x="11" y="18" width="5" height="5" fill="#b8805c"/><path d="M7.500 11c0-5 2.500-7 6-7s6 2 6 7c0 6-3 9-6 9s-6-3-6-9z" fill="#b8805c"/><path d="M7 11c-1-6 2-8.500 6.500-8.500S21 5 20 11c-.5-3-1.500-4.500-3-5-2 .8-5 .8-7 0-1 1-2 2.500-3 5z" fill="#171717"/><rect x="10" y="11" width="2" height="1.500" fill="#2a2020"/><rect x="15" y="11" width="2" height="1.500" fill="#2a2020"/><rect x="10.500" y="15" width="6" height="1.600" rx=".8" fill="#171717"/></g></g></svg><span class="t k" style="left:346.667px;top:383px;font-size:11px;color:#ece4e8;-webkit-text-stroke:.3px #ece4e8;transform:scaleX(.7)">IN</span><div class="a" style="left:368.667px;top:375px;width:27px;height:27px;background:#6a4443;border-radius:3px"></div><svg class="a" style="left:372.167px;top:378px" width="20" height="15"><use href="#i-wood"/></svg><div class="a" style="left:374.667px;top:388px;width:21px;height:14px;background:rgba(48,38,46,.55);border-radius:3px"></div><span class="t k m" style="left:385.367px;top:389.6px;font-size:12px;color:#e4dcdc;letter-spacing:.8px">3</span><div class="a" style="left:398.167px;top:375px;width:27px;height:27px;background:#6a4443;border-radius:3px"></div><svg class="a" style="left:402.167px;top:381px" width="19" height="12"><use href="#i-money"/></svg><div class="a" style="left:404.167px;top:388px;width:21px;height:14px;background:rgba(48,38,46,.55);border-radius:3px"></div><span class="t k m" style="left:414.867px;top:389.6px;font-size:12px;color:#e4dcdc;letter-spacing:.8px">1</span><span class="t k" style="left:344.667px;top:414px;font-size:11px;color:#ece4e8;letter-spacing:1px;-webkit-text-stroke:.3px #ece4e8;transform:scaleX(.7)">OUT</span><div class="a" style="left:368.667px;top:406px;width:27px;height:27px;background:#6a4443;border-radius:3px"></div><svg class="a" style="left:372.167px;top:410px" width="20" height="15"><use href="#i-steak"/></svg><div class="a" style="left:374.667px;top:419px;width:21px;height:14px;background:rgba(48,38,46,.55);border-radius:3px"></div><span class="t k m" style="left:385.367px;top:420.6px;font-size:12px;color:#e4dcdc;letter-spacing:.8px">5</span><div class="a" style="left:398.167px;top:406px;width:27px;height:27px;background:#6a4443;border-radius:3px"></div><svg class="a" style="left:402.167px;top:410px" width="19" height="13"><use href="#i-book"/></svg><div class="a" style="left:404.167px;top:419px;width:21px;height:14px;background:rgba(48,38,46,.55);border-radius:3px"></div><span class="t k m" style="left:414.867px;top:420.6px;font-size:12px;color:#e4dcdc;letter-spacing:.8px">5</span><div class="a" style="left:427.667px;top:406px;width:27px;height:27px;background:#6a4443;border-radius:3px"></div><div class="a" style="left:344.667px;top:444px;width:56px;height:6.3px;background:#a98372;border-radius:3.200px"></div><div class="a" style="left:344.667px;top:444px;width:21.28px;height:6.3px;background:#ff8c86;border-radius:1.500px 0 0 1.500px"></div><svg class="a" style="left:407.667px;top:438.5px" width="12" height="14.5"><use href="#i-watch"/></svg><span class="t k" style="left:424.667px;top:439.95px;font-size:11.7px;color:#ece4e8;letter-spacing:1.5px;transform:scaleX(.72);-webkit-text-stroke:.3px #ece4e8">0.0</span><span class="t k" style="left:442.967px;top:442.05px;font-size:9.3px;color:#ece4e8;letter-spacing:1.3px;transform:scaleX(.64);-webkit-text-stroke:.3px #ece4e8">SEC</span><div class="a" style="left:468.333px;top:319px;width:124px;height:138px;background:#7b6563;border-radius:3px"></div><span class="t k" style="left:474.833px;top:324.25px;font-size:12.5px;color:#e6dee2;letter-spacing:1.25px;transform:scaleX(.615);-webkit-text-stroke:.3px #e6dee2">THE ASBURY BULLETIN</span><svg class="a" style="left:478.333px;top:349px" width="10.5" height="15.5"><use href="#i-moai"/></svg><div class="a" style="left:499.333px;top:344px;width:27px;height:27px;background:#6a4443;border-radius:3px"></div><div class="a" style="left:528.833px;top:344px;width:27px;height:27px;background:#6a4443;border-radius:3px"></div><div class="a" style="left:558.333px;top:344px;width:27px;height:27px;background:#6a4443;border-radius:3px"></div><svg class="a" style="left:558px;top:344px" width="27" height="27" viewBox="0 0 27 27"><clipPath id="cp917847"><rect width="27" height="27" rx="3"/></clipPath><g clip-path="url(#cp917847)"><rect width="27" height="27" fill="#6a4443"/><g transform="translate(13.500 28) scale(1.280) translate(-13.500 -27)"><path d="M4 27C3 14 6 3.500 13.500 3.500S24 14 23 27z" fill="#c8503c"/><path d="M3 27c1-4 5-5 10.500-5s9.500 1 10.500 5z" fill="#2a6a8a"/><rect x="11" y="18" width="5" height="5" fill="#eab8a0"/><path d="M7.500 11c0-5 2.500-7 6-7s6 2 6 7c0 6-3 9-6 9s-6-3-6-9z" fill="#eab8a0"/><rect x="10" y="11" width="2" height="1.500" fill="#2a2020"/><rect x="15" y="11" width="2" height="1.500" fill="#2a2020"/><rect x="11.500" y="15.800" width="4" height="1.200" fill="#b0504a"/></g></g></svg><span class="t k" style="left:477.333px;top:383px;font-size:11px;color:#ece4e8;-webkit-text-stroke:.3px #ece4e8;transform:scaleX(.7)">IN</span><div class="a" style="left:499.333px;top:375px;width:27px;height:27px;background:#6a4443;border-radius:3px"></div><svg class="a" style="left:502.833px;top:378px" width="20" height="15"><use href="#i-wood"/></svg><div class="a" style="left:505.333px;top:388px;width:21px;height:14px;background:rgba(48,38,46,.55);border-radius:3px"></div><span class="t k m" style="left:516.033px;top:389.6px;font-size:12px;color:#e4dcdc;letter-spacing:.8px">2</span><div class="a" style="left:528.833px;top:375px;width:27px;height:27px;background:#6a4443;border-radius:3px"></div><span class="t k" style="left:475.333px;top:414px;font-size:11px;color:#ece4e8;letter-spacing:1px;-webkit-text-stroke:.3px #ece4e8;transform:scaleX(.7)">OUT</span><div class="a" style="left:499.333px;top:406px;width:27px;height:27px;background:#6a4443;border-radius:3px"></div><svg class="a" style="left:502.833px;top:410px" width="20" height="15"><use href="#i-steak"/></svg><div class="a" style="left:505.333px;top:419px;width:21px;height:14px;background:rgba(48,38,46,.55);border-radius:3px"></div><span class="t k m" style="left:516.033px;top:420.6px;font-size:12px;color:#e4dcdc;letter-spacing:.8px">6</span><div class="a" style="left:528.833px;top:406px;width:27px;height:27px;background:#6a4443;border-radius:3px"></div><svg class="a" style="left:532.833px;top:410px" width="19" height="13"><use href="#i-book"/></svg><div class="a" style="left:534.833px;top:419px;width:21px;height:14px;background:rgba(48,38,46,.55);border-radius:3px"></div><span class="t k m" style="left:545.533px;top:420.6px;font-size:12px;color:#e4dcdc;letter-spacing:.8px">7</span><div class="a" style="left:558.333px;top:406px;width:27px;height:27px;background:#6a4443;border-radius:3px"></div><div class="a" style="left:475.333px;top:444px;width:56px;height:6.3px;background:#a98372;border-radius:3.200px"></div><div class="a" style="left:475.333px;top:444px;width:56px;height:6.3px;background:#ff8c86;border-radius:1.500px 3px 3px 1.500px"></div><svg class="a" style="left:538.333px;top:438.5px" width="12" height="14.5"><use href="#i-watch"/></svg><span class="t k" style="left:555.333px;top:439.95px;font-size:11.7px;color:#ece4e8;letter-spacing:1.5px;transform:scaleX(.72);-webkit-text-stroke:.3px #ece4e8">0.0</span><span class="t k" style="left:573.633px;top:442.05px;font-size:9.3px;color:#ece4e8;letter-spacing:1.3px;transform:scaleX(.64);-webkit-text-stroke:.3px #ece4e8">SEC</span><div class="a" style="left:337.667px;top:464px;width:124px;height:138px;background:#807d57;border-radius:3px"></div><span class="t k" style="left:344.167px;top:469px;font-size:14px;color:#e6dee2;letter-spacing:1.25px;transform:scaleX(.615);-webkit-text-stroke:.3px #e6dee2">WHEAT FIELDS</span><svg class="a" style="left:347.667px;top:494px" width="10.5" height="15.5"><use href="#i-moai"/></svg><div class="a" style="left:368.667px;top:489px;width:27px;height:27px;background:#6f6d4a;border-radius:3px"></div><svg class="a" style="left:369px;top:489px" width="27" height="27" viewBox="0 0 27 27"><clipPath id="cs728992"><rect width="27" height="27" rx="3"/></clipPath><g clip-path="url(#cs728992)"><rect width="27" height="27" fill="#5c9a58"/><path d="M0 4c5-3 9 2 14-1s9 0 13 3v5c-5-3-8 1-13 2S5 9 0 12zM0 19c6-3 9 1 14 0s9-3 13 0v8H0z" fill="#3f7a44"/><path d="M3 14c4-2 7 1 10 0M15 17c4-2 7 0 11-1" stroke="#8cc080" stroke-width="2" fill="none"/><path d="M14 27c0-8-2-12-4-18M13 16c2-3 4-5 7-7" stroke="#3a2a20" stroke-width="1.800" fill="none"/></g></svg><span class="t k" style="left:346.667px;top:528px;font-size:11px;color:#ece4e8;-webkit-text-stroke:.3px #ece4e8;transform:scaleX(.7)">IN</span><div class="a" style="left:368.667px;top:520px;width:27px;height:27px;background:#6f6d4a;border-radius:3px"></div><svg class="a" style="left:372.167px;top:524px" width="20" height="15"><use href="#i-steak"/></svg><div class="a" style="left:374.667px;top:533px;width:21px;height:14px;background:rgba(48,38,46,.55);border-radius:3px"></div><span class="t k m" style="left:385.367px;top:534.6px;font-size:12px;color:#e4dcdc;letter-spacing:.8px">2</span><div class="a" style="left:398.167px;top:520px;width:27px;height:27px;background:#6f6d4a;border-radius:3px"></div><svg class="a" style="left:402.167px;top:524px" width="19" height="13"><use href="#i-book"/></svg><div class="a" style="left:404.167px;top:533px;width:21px;height:14px;background:rgba(48,38,46,.55);border-radius:3px"></div><span class="t k m" style="left:414.867px;top:534.6px;font-size:12px;color:#e4dcdc;letter-spacing:.8px">2</span><div class="a" style="left:427.667px;top:520px;width:27px;height:27px;background:#6f6d4a;border-radius:3px"></div><span class="t k" style="left:344.667px;top:559px;font-size:11px;color:#ece4e8;letter-spacing:1px;-webkit-text-stroke:.3px #ece4e8;transform:scaleX(.7)">OUT</span><div class="a" style="left:368.667px;top:551px;width:27px;height:27px;background:#6f6d4a;border-radius:3px"></div><svg class="a" style="left:373.667px;top:553px" width="17" height="17"><use href="#i-trophy"/></svg><div class="a" style="left:374.667px;top:564px;width:21px;height:14px;background:rgba(48,38,46,.55);border-radius:3px"></div><span class="t k m" style="left:385.367px;top:565.6px;font-size:12px;color:#e4dcdc;letter-spacing:.8px">5</span><div class="a" style="left:344.667px;top:589px;width:56px;height:6.3px;background:#a98372;border-radius:3.200px"></div><div class="a" style="left:344.667px;top:589px;width:28px;height:6.3px;background:#f7d982;border-radius:1.500px 0 0 1.500px"></div><svg class="a" style="left:407.667px;top:583.5px" width="12" height="14.5"><use href="#i-watch"/></svg><span class="t k" style="left:424.667px;top:584.95px;font-size:11.7px;color:#ece4e8;letter-spacing:1.5px;transform:scaleX(.72);-webkit-text-stroke:.3px #ece4e8">1.0</span><span class="t k" style="left:442.967px;top:587.05px;font-size:9.3px;color:#ece4e8;letter-spacing:1.3px;transform:scaleX(.64);-webkit-text-stroke:.3px #ece4e8">SEC</span><div class="a" style="left:468.333px;top:464px;width:124px;height:138px;background:#807d57;border-radius:3px"></div><span class="t k" style="left:474.833px;top:468.75px;font-size:14.5px;color:#e6dee2;letter-spacing:1.25px;transform:scaleX(.615);-webkit-text-stroke:.3px #e6dee2">ROUTE 25</span><svg class="a" style="left:478.333px;top:494px" width="10.5" height="15.5"><use href="#i-moai"/></svg><div class="a" style="left:499.333px;top:489px;width:27px;height:27px;background:#6f6d4a;border-radius:3px"></div><svg class="a" style="left:499px;top:489px" width="27" height="27" viewBox="0 0 27 27"><clipPath id="cp858992"><rect width="27" height="27" rx="3"/></clipPath><g clip-path="url(#cp858992)"><rect width="27" height="27" fill="#6f6d4a"/><g transform="translate(13.500 28) scale(1.280) translate(-13.500 -27)"><path d="M4 27C3 14 5 3 13.500 3S24 14 23 27z" fill="#7a4a30"/><path d="M3 27c1-4 5-5 10.500-5s9.500 1 10.500 5z" fill="#7a4a30"/><rect x="11" y="18" width="5" height="5" fill="#f4d4c4"/><path d="M7.500 11c0-5 2.500-7 6-7s6 2 6 7c0 6-3 9-6 9s-6-3-6-9z" fill="#f4d4c4"/><path d="M7 12C6.500 6 9 3.500 13.500 3.500S20.500 6 20 12c-1-3-2-5-3-5.500-2 1-4 1-6 .5-1.500 1-3 2.500-4 5z" fill="#7a4a30"/><rect x="10" y="11" width="2" height="1.500" fill="#2a2020"/><rect x="15" y="11" width="2" height="1.500" fill="#2a2020"/><rect x="11.500" y="15.800" width="4" height="1.200" fill="#b0504a"/></g></g></svg><span class="t k" style="left:477.333px;top:528px;font-size:11px;color:#ece4e8;-webkit-text-stroke:.3px #ece4e8;transform:scaleX(.7)">IN</span><div class="a" style="left:499.333px;top:520px;width:27px;height:27px;background:#6f6d4a;border-radius:3px"></div><svg class="a" style="left:502.833px;top:524px" width="20" height="15"><use href="#i-steak"/></svg><div class="a" style="left:505.333px;top:533px;width:21px;height:14px;background:rgba(48,38,46,.55);border-radius:3px"></div><span class="t k m" style="left:516.033px;top:534.6px;font-size:12px;color:#e4dcdc;letter-spacing:.8px">2</span><div class="a" style="left:528.833px;top:520px;width:27px;height:27px;background:#6f6d4a;border-radius:3px"></div><svg class="a" style="left:532.833px;top:524px" width="19" height="13"><use href="#i-book"/></svg><div class="a" style="left:534.833px;top:533px;width:21px;height:14px;background:rgba(48,38,46,.55);border-radius:3px"></div><span class="t k m" style="left:545.533px;top:534.6px;font-size:12px;color:#e4dcdc;letter-spacing:.8px">2</span><div class="a" style="left:558.333px;top:520px;width:27px;height:27px;background:#6f6d4a;border-radius:3px"></div><span class="t k" style="left:475.333px;top:559px;font-size:11px;color:#ece4e8;letter-spacing:1px;-webkit-text-stroke:.3px #ece4e8;transform:scaleX(.7)">OUT</span><div class="a" style="left:499.333px;top:551px;width:27px;height:27px;background:#6f6d4a;border-radius:3px"></div><svg class="a" style="left:504.333px;top:553px" width="17" height="17"><use href="#i-trophy"/></svg><div class="a" style="left:505.333px;top:564px;width:21px;height:14px;background:rgba(48,38,46,.55);border-radius:3px"></div><span class="t k m" style="left:516.033px;top:565.6px;font-size:12px;color:#e4dcdc;letter-spacing:.8px">5</span><div class="a" style="left:475.333px;top:589px;width:56px;height:6.3px;background:#a98372;border-radius:3.200px"></div><div class="a" style="left:475.333px;top:589px;width:28px;height:6.3px;background:#f7d982;border-radius:1.500px 0 0 1.500px"></div><svg class="a" style="left:538.333px;top:583.5px" width="12" height="14.5"><use href="#i-watch"/></svg><span class="t k" style="left:555.333px;top:584.95px;font-size:11.7px;color:#ece4e8;letter-spacing:1.5px;transform:scaleX(.72);-webkit-text-stroke:.3px #ece4e8">1.0</span><span class="t k" style="left:573.633px;top:587.05px;font-size:9.3px;color:#ece4e8;letter-spacing:1.3px;transform:scaleX(.64);-webkit-text-stroke:.3px #ece4e8">SEC</span><span class="t k" style="left:671px;top:9.6px;font-size:11.8px;color:#cdd6d2;letter-spacing:1.25px;transform:scaleX(.72);-webkit-text-stroke:.3px #cdd6d2">Y2K PRODUCTION</span><div class="a" style="left:671px;top:29px;width:124px;height:138px;background:#3f3846;border-radius:3px"></div><span class="t k" style="left:677.5px;top:33.75px;font-size:14.5px;color:#e6dee2;letter-spacing:1.25px;transform:scaleX(.615);-webkit-text-stroke:.3px #e6dee2">DOWNTOWN ASBURY</span><span class="t k r" style="right:844.5px;top:58.1px;font-size:11.8px;color:#ece4e8;transform:scaleX(.72)">80%</span><svg class="a" style="left:703px;top:57px" width="13" height="13"><use href="#i-check"/></svg><span class="t k r" style="right:796.5px;top:58.1px;font-size:11.8px;color:#ece4e8;transform:scaleX(.72)">20%</span><svg class="a" style="left:752px;top:58px" width="12" height="12"><use href="#i-cross"/></svg><svg class="a" style="left:681px;top:89px" width="10.5" height="15.5"><use href="#i-moai"/></svg><div class="a" style="left:702px;top:84px;width:27px;height:27px;background:#2c2238;border-radius:3px"></div><span class="t k" style="left:678px;top:124px;font-size:11px;color:#ece4e8;letter-spacing:1px;-webkit-text-stroke:.3px #ece4e8;transform:scaleX(.7)">OUT</span><div class="a" style="left:702px;top:116px;width:27px;height:27px;background:#2c2238;border-radius:3px"></div><svg class="a" style="left:705.5px;top:120px" width="20" height="15"><use href="#i-steak"/></svg><div class="a" style="left:708px;top:129px;width:21px;height:14px;background:rgba(48,38,46,.55);border-radius:3px"></div><span class="t k m" style="left:718.7px;top:130.6px;font-size:12px;color:#e4dcdc;letter-spacing:.8px">3</span><div class="a" style="left:731.5px;top:116px;width:27px;height:27px;background:#2c2238;border-radius:3px"></div><svg class="a" style="left:735px;top:119px" width="20" height="15"><use href="#i-wood"/></svg><div class="a" style="left:737.5px;top:129px;width:21px;height:14px;background:rgba(48,38,46,.55);border-radius:3px"></div><span class="t k m" style="left:748.2px;top:130.6px;font-size:12px;color:#e4dcdc;letter-spacing:.8px">4</span><div class="a" style="left:761px;top:116px;width:27px;height:27px;background:#2c2238;border-radius:3px"></div><div class="a" style="left:678px;top:154px;width:56px;height:6.3px;background:#a98372;border-radius:3.200px"></div><svg class="a" style="left:741px;top:148.5px" width="12" height="14.5"><use href="#i-watch"/></svg><span class="t" style="left:758.3px;top:150px;font-size:11px;color:#ece4e8;font-weight:bold;transform:scaleX(.95);transform-origin:0 50%">&#8734;</span><span class="t k" style="left:770px;top:152.05px;font-size:9.3px;color:#ece4e8;letter-spacing:1.3px;transform:scaleX(.64);-webkit-text-stroke:.3px #ece4e8">SEC</span><div class="a" style="left:801.667px;top:29px;width:124px;height:138px;background:#71647b;border-radius:3px"></div><span class="t k" style="left:808.167px;top:34.5px;font-size:12px;color:#e6dee2;letter-spacing:1.25px;transform:scaleX(.615);-webkit-text-stroke:.3px #e6dee2">HOMECOMING DANCE</span><span class="t k r" style="right:713.833px;top:58.1px;font-size:11.8px;color:#ece4e8;transform:scaleX(.72)">72%</span><svg class="a" style="left:833.667px;top:57px" width="13" height="13"><use href="#i-check"/></svg><span class="t k r" style="right:665.833px;top:58.1px;font-size:11.8px;color:#ece4e8;transform:scaleX(.72)">28%</span><svg class="a" style="left:882.667px;top:58px" width="12" height="12"><use href="#i-cross"/></svg><svg class="a" style="left:811.667px;top:89px" width="10.5" height="15.5"><use href="#i-moai"/></svg><div class="a" style="left:832.667px;top:84px;width:27px;height:27px;background:#57466e;border-radius:3px"></div><svg class="a" style="left:833px;top:84px" width="27" height="27" viewBox="0 0 27 27"><clipPath id="cp1192587"><rect width="27" height="27" rx="3"/></clipPath><g clip-path="url(#cp1192587)"><rect width="27" height="27" fill="#57466e"/><g transform="translate(13.500 28) scale(1.280) translate(-13.500 -27)"><path d="M4 27C3 14 6 3.500 13.500 3.500S24 14 23 27z" fill="#c9c9c4"/><path d="M3 27c1-4 5-5 10.500-5s9.500 1 10.500 5z" fill="#b0b0a8"/><rect x="11" y="18" width="5" height="5" fill="#d8b8aa"/><path d="M7.500 11c0-5 2.500-7 6-7s6 2 6 7c0 6-3 9-6 9s-6-3-6-9z" fill="#d8b8aa"/><rect x="10" y="11" width="2" height="1.500" fill="#2a2020"/><rect x="15" y="11" width="2" height="1.500" fill="#2a2020"/><rect x="8.800" y="10" width="4.200" height="3.200" fill="none" stroke="#222" stroke-width=".8"/><rect x="14" y="10" width="4.200" height="3.200" fill="none" stroke="#222" stroke-width=".8"/><rect x="11.500" y="15.500" width="4" height="1.200" fill="#7a3a30"/></g></g></svg><span class="t k" style="left:808.667px;top:124px;font-size:11px;color:#ece4e8;letter-spacing:1px;-webkit-text-stroke:.3px #ece4e8;transform:scaleX(.7)">OUT</span><div class="a" style="left:832.667px;top:116px;width:27px;height:27px;background:#57466e;border-radius:3px"></div><svg class="a" style="left:836.167px;top:120px" width="20" height="15"><use href="#i-steak"/></svg><div class="a" style="left:838.667px;top:129px;width:21px;height:14px;background:rgba(48,38,46,.55);border-radius:3px"></div><span class="t k m" style="left:849.367px;top:130.6px;font-size:12px;color:#e4dcdc;letter-spacing:.8px">6</span><div class="a" style="left:862.167px;top:116px;width:27px;height:27px;background:#57466e;border-radius:3px"></div><svg class="a" style="left:865.667px;top:119px" width="20" height="15"><use href="#i-wood"/></svg><div class="a" style="left:868.167px;top:129px;width:21px;height:14px;background:rgba(48,38,46,.55);border-radius:3px"></div><span class="t k m" style="left:878.867px;top:130.6px;font-size:12px;color:#e4dcdc;letter-spacing:.8px">5</span><div class="a" style="left:891.667px;top:116px;width:27px;height:27px;background:#57466e;border-radius:3px"></div><div class="a" style="left:808.667px;top:154px;width:56px;height:6.3px;background:#a98372;border-radius:3.200px"></div><div class="a" style="left:808.667px;top:154px;width:47.6px;height:6.3px;background:#c6b1de;border-radius:1.500px 0 0 1.500px"></div><svg class="a" style="left:871.667px;top:148.5px" width="12" height="14.5"><use href="#i-watch"/></svg><span class="t k" style="left:888.667px;top:149.95px;font-size:11.7px;color:#ece4e8;letter-spacing:1.5px;transform:scaleX(.72);-webkit-text-stroke:.3px #ece4e8">5.0</span><span class="t k" style="left:906.967px;top:152.05px;font-size:9.3px;color:#ece4e8;letter-spacing:1.3px;transform:scaleX(.64);-webkit-text-stroke:.3px #ece4e8">SEC</span><div class="a" style="left:671px;top:174px;width:124px;height:138px;background:#7b6563;border-radius:3px"></div><span class="t k" style="left:677.5px;top:178.75px;font-size:14.5px;color:#e6dee2;letter-spacing:1.25px;transform:scaleX(.615);-webkit-text-stroke:.3px #e6dee2">DORY’S DINER</span><svg class="a" style="left:681px;top:204px" width="10.5" height="15.5"><use href="#i-moai"/></svg><div class="a" style="left:702px;top:199px;width:27px;height:27px;background:#6a4443;border-radius:3px"></div><svg class="a" style="left:702px;top:199px" width="27" height="27" viewBox="0 0 27 27"><clipPath id="cp1061702"><rect width="27" height="27" rx="3"/></clipPath><g clip-path="url(#cp1061702)"><rect width="27" height="27" fill="#6a5a58"/><g transform="translate(13.500 28) scale(1.280) translate(-13.500 -27)"><path d="M3 27c1-4 5-5 10.500-5s9.500 1 10.500 5z" fill="#b0a8a0"/><rect x="11" y="18" width="5" height="5" fill="#c8987a"/><path d="M7.500 11c0-5 2.500-7 6-7s6 2 6 7c0 6-3 9-6 9s-6-3-6-9z" fill="#c8987a"/><path d="M7 11c-1-6 2-8.500 6.500-8.500S21 5 20 11c-.5-3-1.500-4.500-3-5-2 .8-5 .8-7 0-1 1-2 2.500-3 5z" fill="#4a3a30"/><path d="M7.700 13c1 1.500 3 2 5.800 2s4.800-.5 5.800-2c0 5-3 8-5.800 8s-5.800-3-5.800-8z" fill="#4a3a30"/><rect x="10" y="11" width="2" height="1.500" fill="#2a2020"/><rect x="15" y="11" width="2" height="1.500" fill="#2a2020"/><rect x="11.500" y="15.800" width="4" height="1.200" fill="#b0504a"/></g></g></svg><div class="a" style="left:731.5px;top:199px;width:27px;height:27px;background:#6a4443;border-radius:3px"></div><div class="a" style="left:761px;top:199px;width:27px;height:27px;background:#6a4443;border-radius:3px"></div><svg class="a" style="left:761px;top:199px" width="27" height="27" viewBox="0 0 27 27"><clipPath id="cp1120702"><rect width="27" height="27" rx="3"/></clipPath><g clip-path="url(#cp1120702)"><rect width="27" height="27" fill="#6a4443"/><g transform="translate(13.500 28) scale(1.280) translate(-13.500 -27)"><path d="M4 24C2.500 13 6 3 13.500 3S24.500 13 23 24z" fill="#6a4020"/><path d="M3 27c1-4 5-5 10.500-5s9.500 1 10.500 5z" fill="#6a4020"/><rect x="11" y="18" width="5" height="5" fill="#f4d4c4"/><path d="M7.500 11c0-5 2.500-7 6-7s6 2 6 7c0 6-3 9-6 9s-6-3-6-9z" fill="#f4d4c4"/><path d="M7 12C6.500 6 9 3.500 13.500 3.500S20.500 6 20 12c-1-3-2-5-3-5.500-2 1-4 1-6 .5-1.500 1-3 2.500-4 5z" fill="#6a4020"/><rect x="10" y="11" width="2" height="1.500" fill="#2a2020"/><rect x="15" y="11" width="2" height="1.500" fill="#2a2020"/><rect x="11.500" y="15.800" width="4" height="1.200" fill="#b0504a"/></g></g></svg><span class="t k" style="left:680px;top:238px;font-size:11px;color:#ece4e8;-webkit-text-stroke:.3px #ece4e8;transform:scaleX(.7)">IN</span><div class="a" style="left:702px;top:230px;width:27px;height:27px;background:#6a4443;border-radius:3px"></div><svg class="a" style="left:705.5px;top:234px" width="20" height="15"><use href="#i-steak"/></svg><div class="a" style="left:708px;top:243px;width:21px;height:14px;background:rgba(48,38,46,.55);border-radius:3px"></div><span class="t k m" style="left:718.7px;top:244.6px;font-size:12px;color:#e4dcdc;letter-spacing:.8px">2</span><div class="a" style="left:731.5px;top:230px;width:27px;height:27px;background:#6a4443;border-radius:3px"></div><span class="t k" style="left:678px;top:269px;font-size:11px;color:#ece4e8;letter-spacing:1px;-webkit-text-stroke:.3px #ece4e8;transform:scaleX(.7)">OUT</span><div class="a" style="left:702px;top:261px;width:27px;height:27px;background:#6a4443;border-radius:3px"></div><svg class="a" style="left:706px;top:267px" width="19" height="12"><use href="#i-money"/></svg><div class="a" style="left:708px;top:274px;width:21px;height:14px;background:rgba(48,38,46,.55);border-radius:3px"></div><span class="t k m" style="left:718.7px;top:275.6px;font-size:12px;color:#e4dcdc;letter-spacing:.8px">5</span><div class="a" style="left:731.5px;top:261px;width:27px;height:27px;background:#6a4443;border-radius:3px"></div><svg class="a" style="left:737.5px;top:263px" width="15" height="17"><use href="#i-pc"/></svg><div class="a" style="left:737.5px;top:274px;width:21px;height:14px;background:rgba(48,38,46,.55);border-radius:3px"></div><span class="t k m" style="left:748.2px;top:275.6px;font-size:12px;color:#e4dcdc;letter-spacing:.8px">6</span><div class="a" style="left:761px;top:261px;width:27px;height:27px;background:#6a4443;border-radius:3px"></div><div class="a" style="left:678px;top:299px;width:56px;height:6.3px;background:#a98372;border-radius:3.200px"></div><div class="a" style="left:678px;top:299px;width:30.8px;height:6.3px;background:#ff8c86;border-radius:1.500px 0 0 1.500px"></div><svg class="a" style="left:741px;top:293.5px" width="12" height="14.5"><use href="#i-watch"/></svg><span class="t k" style="left:758px;top:294.95px;font-size:11.7px;color:#ece4e8;letter-spacing:1.5px;transform:scaleX(.72);-webkit-text-stroke:.3px #ece4e8">0.0</span><span class="t k" style="left:776.3px;top:297.05px;font-size:9.3px;color:#ece4e8;letter-spacing:1.3px;transform:scaleX(.64);-webkit-text-stroke:.3px #ece4e8">SEC</span><div class="a" style="left:801.667px;top:174px;width:124px;height:138px;background:#7b6563;border-radius:3px"></div><span class="t k" style="left:808.167px;top:179.5px;font-size:12px;color:#e6dee2;letter-spacing:1.25px;transform:scaleX(.615);-webkit-text-stroke:.3px #e6dee2">BULL PINE BREWING</span><svg class="a" style="left:811.667px;top:204px" width="10.5" height="15.5"><use href="#i-moai"/></svg><div class="a" style="left:832.667px;top:199px;width:27px;height:27px;background:#6a4443;border-radius:3px"></div><div class="a" style="left:862.167px;top:199px;width:27px;height:27px;background:#6a4443;border-radius:3px"></div><svg class="a" style="left:862px;top:199px" width="27" height="27" viewBox="0 0 27 27"><clipPath id="cp1221702"><rect width="27" height="27" rx="3"/></clipPath><g clip-path="url(#cp1221702)"><rect width="27" height="27" fill="#6a4443"/><g transform="translate(13.500 28) scale(1.280) translate(-13.500 -27)"><path d="M3 27c1-4 5-5 10.500-5s9.500 1 10.500 5z" fill="#f4f0e8"/><rect x="11" y="18" width="5" height="5" fill="#f2b8a0"/><path d="M7.500 11c0-5 2.500-7 6-7s6 2 6 7c0 6-3 9-6 9s-6-3-6-9z" fill="#f2b8a0"/><path d="M7 11c-1-6 2-8.500 6.500-8.500S21 5 20 11c-.5-3-1.500-4.500-3-5-2 .8-5 .8-7 0-1 1-2 2.500-3 5z" fill="#e8c050"/><rect x="10" y="11" width="2" height="1.500" fill="#2a2020"/><rect x="15" y="11" width="2" height="1.500" fill="#2a2020"/><rect x="11.500" y="15.800" width="4" height="1.200" fill="#b0504a"/></g></g></svg><div class="a" style="left:891.667px;top:199px;width:27px;height:27px;background:#6a4443;border-radius:3px"></div><span class="t k" style="left:810.667px;top:238px;font-size:11px;color:#ece4e8;-webkit-text-stroke:.3px #ece4e8;transform:scaleX(.7)">IN</span><div class="a" style="left:832.667px;top:230px;width:27px;height:27px;background:#6a4443;border-radius:3px"></div><svg class="a" style="left:836.167px;top:234px" width="20" height="15"><use href="#i-steak"/></svg><div class="a" style="left:838.667px;top:243px;width:21px;height:14px;background:rgba(48,38,46,.55);border-radius:3px"></div><span class="t k m" style="left:849.367px;top:244.6px;font-size:12px;color:#e4dcdc;letter-spacing:.8px">2</span><div class="a" style="left:862.167px;top:230px;width:27px;height:27px;background:#6a4443;border-radius:3px"></div><span class="t k" style="left:808.667px;top:269px;font-size:11px;color:#ece4e8;letter-spacing:1px;-webkit-text-stroke:.3px #ece4e8;transform:scaleX(.7)">OUT</span><div class="a" style="left:832.667px;top:261px;width:27px;height:27px;background:#6a4443;border-radius:3px"></div><svg class="a" style="left:836.667px;top:267px" width="19" height="12"><use href="#i-money"/></svg><div class="a" style="left:838.667px;top:274px;width:21px;height:14px;background:rgba(48,38,46,.55);border-radius:3px"></div><span class="t k m" style="left:849.367px;top:275.6px;font-size:12px;color:#e4dcdc;letter-spacing:.8px">6</span><div class="a" style="left:862.167px;top:261px;width:27px;height:27px;background:#6a4443;border-radius:3px"></div><svg class="a" style="left:868.167px;top:263px" width="15" height="17"><use href="#i-pc"/></svg><div class="a" style="left:868.167px;top:274px;width:21px;height:14px;background:rgba(48,38,46,.55);border-radius:3px"></div><span class="t k m" style="left:878.867px;top:275.6px;font-size:12px;color:#e4dcdc;letter-spacing:.8px">7</span><div class="a" style="left:891.667px;top:261px;width:27px;height:27px;background:#6a4443;border-radius:3px"></div><div class="a" style="left:808.667px;top:299px;width:56px;height:6.3px;background:#a98372;border-radius:3.200px"></div><div class="a" style="left:808.667px;top:299px;width:29.12px;height:6.3px;background:#ff8c86;border-radius:1.500px 0 0 1.500px"></div><svg class="a" style="left:871.667px;top:293.5px" width="12" height="14.5"><use href="#i-watch"/></svg><span class="t k" style="left:888.667px;top:294.95px;font-size:11.7px;color:#ece4e8;letter-spacing:1.5px;transform:scaleX(.72);-webkit-text-stroke:.3px #ece4e8">0.0</span><span class="t k" style="left:906.967px;top:297.05px;font-size:9.3px;color:#ece4e8;letter-spacing:1.3px;transform:scaleX(.64);-webkit-text-stroke:.3px #ece4e8">SEC</span><div class="a" style="left:671px;top:319px;width:124px;height:138px;background:#7b6563;border-radius:3px"></div><span class="t k" style="left:677.5px;top:324.25px;font-size:12.5px;color:#e6dee2;letter-spacing:1.25px;transform:scaleX(.615);-webkit-text-stroke:.3px #e6dee2">THE GREAT UNDERHIVE</span><svg class="a" style="left:681px;top:349px" width="10.5" height="15.5"><use href="#i-moai"/></svg><div class="a" style="left:702px;top:344px;width:27px;height:27px;background:#6a4443;border-radius:3px"></div><svg class="a" style="left:702px;top:344px" width="27" height="27" viewBox="0 0 27 27"><clipPath id="cs1061847"><rect width="27" height="27" rx="3"/></clipPath><g clip-path="url(#cs1061847)"><rect width="27" height="27" fill="#d88ca0"/><rect y="20" width="27" height="7" fill="#e8a8a0"/><path d="M17 0l-2 10M21 0l-3 10" stroke="#2a2a2a" stroke-width="1"/><path d="M0 16c4-5 10-7 16-6l6 3-3 4c-6 2-12 3-19 3z" fill="#e8a020"/><path d="M2 16c4-3 8-4 12-4" stroke="#c87818" stroke-width="1.500" fill="none"/><rect x="15" y="10" width="3" height="3" fill="#2a5ad0"/><path d="M7 19l-3 8M10 19l2 7" stroke="#e8d020" stroke-width="1.500"/></g></svg><div class="a" style="left:731.5px;top:344px;width:27px;height:27px;background:#6a4443;border-radius:3px"></div><div class="a" style="left:761px;top:344px;width:27px;height:27px;background:#6a4443;border-radius:3px"></div><span class="t k" style="left:680px;top:383px;font-size:11px;color:#ece4e8;-webkit-text-stroke:.3px #ece4e8;transform:scaleX(.7)">IN</span><div class="a" style="left:702px;top:375px;width:27px;height:27px;background:#6a4443;border-radius:3px"></div><svg class="a" style="left:705.5px;top:378px" width="20" height="15"><use href="#i-wood"/></svg><div class="a" style="left:708px;top:388px;width:21px;height:14px;background:rgba(48,38,46,.55);border-radius:3px"></div><span class="t k m" style="left:718.7px;top:389.6px;font-size:12px;color:#e4dcdc;letter-spacing:.8px">1</span><div class="a" style="left:731.5px;top:375px;width:27px;height:27px;background:#6a4443;border-radius:3px"></div><span class="t k" style="left:678px;top:414px;font-size:11px;color:#ece4e8;letter-spacing:1px;-webkit-text-stroke:.3px #ece4e8;transform:scaleX(.7)">OUT</span><div class="a" style="left:702px;top:406px;width:27px;height:27px;background:#6a4443;border-radius:3px"></div><svg class="a" style="left:705.5px;top:410px" width="20" height="15"><use href="#i-steak"/></svg><div class="a" style="left:708px;top:419px;width:21px;height:14px;background:rgba(48,38,46,.55);border-radius:3px"></div><span class="t k m" style="left:718.7px;top:420.6px;font-size:12px;color:#e4dcdc;letter-spacing:.8px">5</span><div class="a" style="left:731.5px;top:406px;width:27px;height:27px;background:#6a4443;border-radius:3px"></div><div class="a" style="left:761px;top:406px;width:27px;height:27px;background:#6a4443;border-radius:3px"></div><div class="a" style="left:678px;top:444px;width:56px;height:6.3px;background:#a98372;border-radius:3.200px"></div><div class="a" style="left:678px;top:444px;width:52.08px;height:6.3px;background:#ff8c86;border-radius:1.500px 0 0 1.500px"></div><svg class="a" style="left:741px;top:438.5px" width="12" height="14.5"><use href="#i-watch"/></svg><span class="t k" style="left:758px;top:439.95px;font-size:11.7px;color:#ece4e8;letter-spacing:1.5px;transform:scaleX(.72);-webkit-text-stroke:.3px #ece4e8">0.0</span><span class="t k" style="left:776.3px;top:442.05px;font-size:9.3px;color:#ece4e8;letter-spacing:1.3px;transform:scaleX(.64);-webkit-text-stroke:.3px #ece4e8">SEC</span><div class="a" style="left:801.667px;top:319px;width:124px;height:138px;background:#807d57;border-radius:3px"></div><span class="t k" style="left:808.167px;top:323.75px;font-size:14.5px;color:#e6dee2;letter-spacing:1.25px;transform:scaleX(.615);-webkit-text-stroke:.3px #e6dee2">THE CLEARING</span><svg class="a" style="left:811.667px;top:349px" width="10.5" height="15.5"><use href="#i-moai"/></svg><div class="a" style="left:832.667px;top:344px;width:27px;height:27px;background:#6f6d4a;border-radius:3px"></div><svg class="a" style="left:833px;top:344px" width="27" height="27" viewBox="0 0 27 27"><clipPath id="cp1192847"><rect width="27" height="27" rx="3"/></clipPath><g clip-path="url(#cp1192847)"><rect width="27" height="27" fill="#6f6d4a"/><g transform="translate(13.500 28) scale(1.280) translate(-13.500 -27)"><path d="M4 27C3 14 5 3 13.500 3S24 14 23 27z" fill="#b86040"/><path d="M3 27c1-4 5-5 10.500-5s9.500 1 10.500 5z" fill="#d4a8dc"/><rect x="11" y="18" width="5" height="5" fill="#f2c9b8"/><path d="M7.500 11c0-5 2.500-7 6-7s6 2 6 7c0 6-3 9-6 9s-6-3-6-9z" fill="#f2c9b8"/><path d="M7 12C6.500 6 9 3.500 13.500 3.500S20.500 6 20 12c-1-3-2-5-3-5.500-2 1-4 1-6 .5-1.500 1-3 2.500-4 5z" fill="#b86040"/><rect x="10" y="11" width="2" height="1.500" fill="#2a2020"/><rect x="15" y="11" width="2" height="1.500" fill="#2a2020"/><rect x="11.500" y="15.800" width="4" height="1.200" fill="#b0504a"/></g></g></svg><span class="t k" style="left:810.667px;top:383px;font-size:11px;color:#ece4e8;-webkit-text-stroke:.3px #ece4e8;transform:scaleX(.7)">IN</span><div class="a" style="left:832.667px;top:375px;width:27px;height:27px;background:#6f6d4a;border-radius:3px"></div><svg class="a" style="left:836.667px;top:381px" width="19" height="12"><use href="#i-money"/></svg><div class="a" style="left:838.667px;top:388px;width:21px;height:14px;background:rgba(48,38,46,.55);border-radius:3px"></div><span class="t k m" style="left:849.367px;top:389.6px;font-size:12px;color:#e4dcdc;letter-spacing:.8px">2</span><div class="a" style="left:862.167px;top:375px;width:27px;height:27px;background:#6f6d4a;border-radius:3px"></div><svg class="a" style="left:868.167px;top:377px" width="15" height="17"><use href="#i-pc"/></svg><div class="a" style="left:868.167px;top:388px;width:21px;height:14px;background:rgba(48,38,46,.55);border-radius:3px"></div><span class="t k m" style="left:878.867px;top:389.6px;font-size:12px;color:#e4dcdc;letter-spacing:.8px">2</span><div class="a" style="left:891.667px;top:375px;width:27px;height:27px;background:#6f6d4a;border-radius:3px"></div><span class="t k" style="left:808.667px;top:414px;font-size:11px;color:#ece4e8;letter-spacing:1px;-webkit-text-stroke:.3px #ece4e8;transform:scaleX(.7)">OUT</span><div class="a" style="left:832.667px;top:406px;width:27px;height:27px;background:#6f6d4a;border-radius:3px"></div><svg class="a" style="left:837.667px;top:408px" width="17" height="17"><use href="#i-trophy"/></svg><div class="a" style="left:838.667px;top:419px;width:21px;height:14px;background:rgba(48,38,46,.55);border-radius:3px"></div><span class="t k m" style="left:849.367px;top:420.6px;font-size:12px;color:#e4dcdc;letter-spacing:.8px">7</span><div class="a" style="left:808.667px;top:444px;width:56px;height:6.3px;background:#a98372;border-radius:3.200px"></div><div class="a" style="left:808.667px;top:444px;width:34.72px;height:6.3px;background:#f7d982;border-radius:1.500px 0 0 1.500px"></div><svg class="a" style="left:871.667px;top:438.5px" width="12" height="14.5"><use href="#i-watch"/></svg><span class="t k" style="left:888.667px;top:439.95px;font-size:11.7px;color:#ece4e8;letter-spacing:1.5px;transform:scaleX(.72);-webkit-text-stroke:.3px #ece4e8">2.1</span><span class="t k" style="left:906.967px;top:442.05px;font-size:9.3px;color:#ece4e8;letter-spacing:1.3px;transform:scaleX(.64);-webkit-text-stroke:.3px #ece4e8">SEC</span><div class="a" style="left:671px;top:464px;width:124px;height:138px;background:#807d57;border-radius:3px"></div><span class="t k" style="left:677.5px;top:469.25px;font-size:13.5px;color:#e6dee2;letter-spacing:1.25px;transform:scaleX(.615);-webkit-text-stroke:.3px #e6dee2">ABANDONED GRAVE</span><svg class="a" style="left:681px;top:494px" width="10.5" height="15.5"><use href="#i-moai"/></svg><div class="a" style="left:702px;top:489px;width:27px;height:27px;background:#6f6d4a;border-radius:3px"></div><svg class="a" style="left:702px;top:489px" width="27" height="27" viewBox="0 0 27 27"><clipPath id="cs1061992"><rect width="27" height="27" rx="3"/></clipPath><g clip-path="url(#cs1061992)"><rect width="27" height="27" fill="#6f6d4a"/><path d="M14 2l-9 8h4l-7 7h6l-5 6h22l-5-6h5l-7-7h4z" fill="#3f8a50"/><path d="M8 12c4-2 8-2 12 0M5 19c5-2 11-2 17 0" stroke="#5fb070" stroke-width="1.500" fill="none"/><path d="M14 27V8" stroke="#3a2a20" stroke-width="1.800"/></g></svg><span class="t k" style="left:680px;top:528px;font-size:11px;color:#ece4e8;-webkit-text-stroke:.3px #ece4e8;transform:scaleX(.7)">IN</span><div class="a" style="left:702px;top:520px;width:27px;height:27px;background:#6f6d4a;border-radius:3px"></div><svg class="a" style="left:706px;top:526px" width="19" height="12"><use href="#i-money"/></svg><div class="a" style="left:708px;top:533px;width:21px;height:14px;background:rgba(48,38,46,.55);border-radius:3px"></div><span class="t k m" style="left:718.7px;top:534.6px;font-size:12px;color:#e4dcdc;letter-spacing:.8px">2</span><div class="a" style="left:731.5px;top:520px;width:27px;height:27px;background:#6f6d4a;border-radius:3px"></div><svg class="a" style="left:737.5px;top:522px" width="15" height="17"><use href="#i-pc"/></svg><div class="a" style="left:737.5px;top:533px;width:21px;height:14px;background:rgba(48,38,46,.55);border-radius:3px"></div><span class="t k m" style="left:748.2px;top:534.6px;font-size:12px;color:#e4dcdc;letter-spacing:.8px">2</span><div class="a" style="left:761px;top:520px;width:27px;height:27px;background:#6f6d4a;border-radius:3px"></div><span class="t k" style="left:678px;top:559px;font-size:11px;color:#ece4e8;letter-spacing:1px;-webkit-text-stroke:.3px #ece4e8;transform:scaleX(.7)">OUT</span><div class="a" style="left:702px;top:551px;width:27px;height:27px;background:#6f6d4a;border-radius:3px"></div><svg class="a" style="left:707px;top:553px" width="17" height="17"><use href="#i-trophy"/></svg><div class="a" style="left:708px;top:564px;width:21px;height:14px;background:rgba(48,38,46,.55);border-radius:3px"></div><span class="t k m" style="left:718.7px;top:565.6px;font-size:12px;color:#e4dcdc;letter-spacing:.8px">5</span><div class="a" style="left:678px;top:589px;width:56px;height:6.3px;background:#a98372;border-radius:3.200px"></div><div class="a" style="left:678px;top:589px;width:28px;height:6.3px;background:#f7d982;border-radius:1.500px 0 0 1.500px"></div><svg class="a" style="left:741px;top:583.5px" width="12" height="14.5"><use href="#i-watch"/></svg><span class="t k" style="left:758px;top:584.95px;font-size:11.7px;color:#ece4e8;letter-spacing:1.5px;transform:scaleX(.72);-webkit-text-stroke:.3px #ece4e8">1.0</span><span class="t k" style="left:776.3px;top:587.05px;font-size:9.3px;color:#ece4e8;letter-spacing:1.3px;transform:scaleX(.64);-webkit-text-stroke:.3px #ece4e8">SEC</span><div class="a" style="left:801.667px;top:464px;width:124px;height:138px;background:#807d57;border-radius:3px"></div><span class="t k" style="left:808.167px;top:469px;font-size:13px;color:#e6dee2;letter-spacing:1.25px;transform:scaleX(.615);-webkit-text-stroke:.3px #e6dee2">THE INSECT REALM</span><svg class="a" style="left:811.667px;top:494px" width="10.5" height="15.5"><use href="#i-moai"/></svg><div class="a" style="left:832.667px;top:489px;width:27px;height:27px;background:#6f6d4a;border-radius:3px"></div><svg class="a" style="left:833px;top:489px" width="27" height="27" viewBox="0 0 27 27"><clipPath id="cs1192992"><rect width="27" height="27" rx="3"/></clipPath><g clip-path="url(#cs1192992)"><rect width="27" height="27" fill="#e6cc4c"/><path d="M0 0h12L4 14H0z" fill="#1f4a2a"/><path d="M8 3c5-2 9 0 11 4l-8 6c-3-2-4-6-3-10z" fill="#2f6a4a"/><path d="M27 2c-5 2-9 6-13 11M14 13c3 3 6 5 9 9" stroke="#7a3a4a" stroke-width="1.200" fill="none"/><path d="M3 27c2-5 6-8 11-8s7 3 8 8z" fill="#8a7a6a"/><path d="M6 27c2-3 5-5 8-5" stroke="#3a2a20" stroke-width="2" fill="none"/></g></svg><span class="t k" style="left:810.667px;top:528px;font-size:11px;color:#ece4e8;-webkit-text-stroke:.3px #ece4e8;transform:scaleX(.7)">IN</span><div class="a" style="left:832.667px;top:520px;width:27px;height:27px;background:#6f6d4a;border-radius:3px"></div><svg class="a" style="left:836.167px;top:524px" width="20" height="15"><use href="#i-steak"/></svg><div class="a" style="left:838.667px;top:533px;width:21px;height:14px;background:rgba(48,38,46,.55);border-radius:3px"></div><span class="t k m" style="left:849.367px;top:534.6px;font-size:12px;color:#e4dcdc;letter-spacing:.8px">2</span><div class="a" style="left:862.167px;top:520px;width:27px;height:27px;background:#6f6d4a;border-radius:3px"></div><div class="a" style="left:891.667px;top:520px;width:27px;height:27px;background:#6f6d4a;border-radius:3px"></div><span class="t k" style="left:808.667px;top:559px;font-size:11px;color:#ece4e8;letter-spacing:1px;-webkit-text-stroke:.3px #ece4e8;transform:scaleX(.7)">OUT</span><div class="a" style="left:832.667px;top:551px;width:27px;height:27px;background:#6f6d4a;border-radius:3px"></div><svg class="a" style="left:837.667px;top:553px" width="17" height="17"><use href="#i-trophy"/></svg><div class="a" style="left:838.667px;top:564px;width:21px;height:14px;background:rgba(48,38,46,.55);border-radius:3px"></div><span class="t k m" style="left:849.367px;top:565.6px;font-size:12px;color:#e4dcdc;letter-spacing:.8px">5</span><div class="a" style="left:808.667px;top:589px;width:56px;height:6.3px;background:#a98372;border-radius:3.200px"></div><div class="a" style="left:808.667px;top:589px;width:28px;height:6.3px;background:#f7d982;border-radius:1.500px 0 0 1.500px"></div><svg class="a" style="left:871.667px;top:583.5px" width="12" height="14.5"><use href="#i-watch"/></svg><span class="t k" style="left:888.667px;top:584.95px;font-size:11.7px;color:#ece4e8;letter-spacing:1.5px;transform:scaleX(.72);-webkit-text-stroke:.3px #ece4e8">1.0</span><span class="t k" style="left:906.967px;top:587.05px;font-size:9.3px;color:#ece4e8;letter-spacing:1.3px;transform:scaleX(.64);-webkit-text-stroke:.3px #ece4e8">SEC</span><span class="t k" style="left:1004.33px;top:9.6px;font-size:11.8px;color:#cdd6d2;letter-spacing:1.25px;transform:scaleX(.72);-webkit-text-stroke:.3px #cdd6d2">PRESENT PRODUCTION</span><div class="a" style="left:1004.33px;top:29px;width:124px;height:138px;background:#3f3846;border-radius:3px"></div><span class="t k" style="left:1010.83px;top:34.5px;font-size:12px;color:#e6dee2;letter-spacing:1.25px;transform:scaleX(.615);-webkit-text-stroke:.3px #e6dee2">NEIGHBORHOOD</span><span class="t k r" style="right:511.167px;top:58.1px;font-size:11.8px;color:#ece4e8;transform:scaleX(.72)">70%</span><svg class="a" style="left:1036.33px;top:57px" width="13" height="13"><use href="#i-check"/></svg><span class="t k r" style="right:463.167px;top:58.1px;font-size:11.8px;color:#ece4e8;transform:scaleX(.72)">30%</span><svg class="a" style="left:1085.33px;top:58px" width="12" height="12"><use href="#i-cross"/></svg><svg class="a" style="left:1014.33px;top:89px" width="10.5" height="15.5"><use href="#i-moai"/></svg><div class="a" style="left:1035.33px;top:84px;width:27px;height:27px;background:#2c2238;border-radius:3px"></div><span class="t k" style="left:1011.33px;top:124px;font-size:11px;color:#ece4e8;letter-spacing:1px;-webkit-text-stroke:.3px #ece4e8;transform:scaleX(.7)">OUT</span><div class="a" style="left:1035.33px;top:116px;width:27px;height:27px;background:#2c2238;border-radius:3px"></div><svg class="a" style="left:1039.33px;top:122px" width="19" height="12"><use href="#i-money"/></svg><div class="a" style="left:1041.33px;top:129px;width:21px;height:14px;background:rgba(48,38,46,.55);border-radius:3px"></div><span class="t k m" style="left:1052.03px;top:130.6px;font-size:12px;color:#e4dcdc;letter-spacing:.8px">2</span><div class="a" style="left:1064.83px;top:116px;width:27px;height:27px;background:#2c2238;border-radius:3px"></div><svg class="a" style="left:1068.33px;top:119px" width="20" height="15"><use href="#i-wood"/></svg><div class="a" style="left:1070.83px;top:129px;width:21px;height:14px;background:rgba(48,38,46,.55);border-radius:3px"></div><span class="t k m" style="left:1081.53px;top:130.6px;font-size:12px;color:#e4dcdc;letter-spacing:.8px">3</span><div class="a" style="left:1094.33px;top:116px;width:27px;height:27px;background:#2c2238;border-radius:3px"></div><div class="a" style="left:1011.33px;top:154px;width:56px;height:6.3px;background:#a98372;border-radius:3.200px"></div><svg class="a" style="left:1074.33px;top:148.5px" width="12" height="14.5"><use href="#i-watch"/></svg><span class="t" style="left:1091.63px;top:150px;font-size:11px;color:#ece4e8;font-weight:bold;transform:scaleX(.95);transform-origin:0 50%">&#8734;</span><span class="t k" style="left:1103.33px;top:152.05px;font-size:9.3px;color:#ece4e8;letter-spacing:1.3px;transform:scaleX(.64);-webkit-text-stroke:.3px #ece4e8">SEC</span><div class="a" style="left:1135px;top:29px;width:124px;height:138px;background:#71647b;border-radius:3px"></div><span class="t k" style="left:1141.5px;top:34.5px;font-size:12px;color:#e6dee2;letter-spacing:1.25px;transform:scaleX(.615);-webkit-text-stroke:.3px #e6dee2">ABANDONDED ASBURY</span><span class="t k r" style="right:380.5px;top:58.1px;font-size:11.8px;color:#ece4e8;transform:scaleX(.72)">75%</span><svg class="a" style="left:1167px;top:57px" width="13" height="13"><use href="#i-check"/></svg><span class="t k r" style="right:332.5px;top:58.1px;font-size:11.8px;color:#ece4e8;transform:scaleX(.72)">25%</span><svg class="a" style="left:1216px;top:58px" width="12" height="12"><use href="#i-cross"/></svg><svg class="a" style="left:1145px;top:89px" width="10.5" height="15.5"><use href="#i-moai"/></svg><div class="a" style="left:1166px;top:84px;width:27px;height:27px;background:#57466e;border-radius:3px"></div><svg class="a" style="left:1166px;top:84px" width="27" height="27" viewBox="0 0 27 27"><clipPath id="cp1525587"><rect width="27" height="27" rx="3"/></clipPath><g clip-path="url(#cp1525587)"><rect width="27" height="27" fill="#57466e"/><g transform="translate(13.500 28) scale(1.280) translate(-13.500 -27)"><path d="M3 27c1-4 5-5 10.500-5s9.500 1 10.500 5z" fill="#57466e"/><rect x="11" y="18" width="5" height="5" fill="#eaa890"/><path d="M7.500 11c0-5 2.500-7 6-7s6 2 6 7c0 6-3 9-6 9s-6-3-6-9z" fill="#eaa890"/><path d="M7 11c-1-6 2-8.500 6.500-8.500S21 5 20 11c-.5-3-1.500-4.500-3-5-2 .8-5 .8-7 0-1 1-2 2.500-3 5z" fill="#5a5a5e"/><rect x="10" y="11" width="2" height="1.500" fill="#2a2020"/><rect x="15" y="11" width="2" height="1.500" fill="#2a2020"/><rect x="11.500" y="15.800" width="4" height="1.200" fill="#b0504a"/></g></g></svg><span class="t k" style="left:1142px;top:124px;font-size:11px;color:#ece4e8;letter-spacing:1px;-webkit-text-stroke:.3px #ece4e8;transform:scaleX(.7)">OUT</span><div class="a" style="left:1166px;top:116px;width:27px;height:27px;background:#57466e;border-radius:3px"></div><svg class="a" style="left:1170px;top:122px" width="19" height="12"><use href="#i-money"/></svg><div class="a" style="left:1172px;top:129px;width:21px;height:14px;background:rgba(48,38,46,.55);border-radius:3px"></div><span class="t k m" style="left:1182.7px;top:130.6px;font-size:12px;color:#e4dcdc;letter-spacing:.8px">4</span><div class="a" style="left:1195.5px;top:116px;width:27px;height:27px;background:#57466e;border-radius:3px"></div><div class="a" style="left:1225px;top:116px;width:27px;height:27px;background:#57466e;border-radius:3px"></div><div class="a" style="left:1142px;top:154px;width:56px;height:6.3px;background:#a98372;border-radius:3.200px"></div><div class="a" style="left:1142px;top:154px;width:33.6px;height:6.3px;background:#c6b1de;border-radius:1.500px 0 0 1.500px"></div><svg class="a" style="left:1205px;top:148.5px" width="12" height="14.5"><use href="#i-watch"/></svg><span class="t k" style="left:1222px;top:149.95px;font-size:11.7px;color:#ece4e8;letter-spacing:1.5px;transform:scaleX(.72);-webkit-text-stroke:.3px #ece4e8">3.2</span><span class="t k" style="left:1240.3px;top:152.05px;font-size:9.3px;color:#ece4e8;letter-spacing:1.3px;transform:scaleX(.64);-webkit-text-stroke:.3px #ece4e8">SEC</span><div class="a" style="left:1004.33px;top:174px;width:124px;height:138px;background:#463a39;border-radius:3px"></div><span class="t k" style="left:1010.83px;top:178.75px;font-size:14.5px;color:#e6dee2;letter-spacing:1.25px;transform:scaleX(.615);-webkit-text-stroke:.3px #e6dee2">ASBURY GAS</span><svg class="a" style="left:1014.33px;top:204px" width="10.5" height="15.5"><use href="#i-moai"/></svg><div class="a" style="left:1035.33px;top:199px;width:27px;height:27px;background:#38262a;border-radius:3px"></div><div class="a" style="left:1064.83px;top:199px;width:27px;height:27px;background:#38262a;border-radius:3px"></div><div class="a" style="left:1094.33px;top:199px;width:27px;height:27px;background:#38262a;border-radius:3px"></div><span class="t k" style="left:1013.33px;top:238px;font-size:11px;color:#ece4e8;-webkit-text-stroke:.3px #ece4e8;transform:scaleX(.7)">IN</span><div class="a" style="left:1035.33px;top:230px;width:27px;height:27px;background:#38262a;border-radius:3px"></div><svg class="a" style="left:1039.33px;top:236px" width="19" height="12"><use href="#i-money"/></svg><div class="a" style="left:1041.33px;top:243px;width:21px;height:14px;background:rgba(48,38,46,.55);border-radius:3px"></div><span class="t k m" style="left:1052.03px;top:244.6px;font-size:12px;color:#e4dcdc;letter-spacing:.8px">1</span><div class="a" style="left:1064.83px;top:230px;width:27px;height:27px;background:#38262a;border-radius:3px"></div><span class="t k" style="left:1011.33px;top:269px;font-size:11px;color:#ece4e8;letter-spacing:1px;-webkit-text-stroke:.3px #ece4e8;transform:scaleX(.7)">OUT</span><div class="a" style="left:1035.33px;top:261px;width:27px;height:27px;background:#38262a;border-radius:3px"></div><svg class="a" style="left:1038.83px;top:265px" width="20" height="15"><use href="#i-steak"/></svg><div class="a" style="left:1041.33px;top:274px;width:21px;height:14px;background:rgba(48,38,46,.55);border-radius:3px"></div><span class="t k m" style="left:1052.03px;top:275.6px;font-size:12px;color:#e4dcdc;letter-spacing:.8px">4</span><div class="a" style="left:1064.83px;top:261px;width:27px;height:27px;background:#38262a;border-radius:3px"></div><svg class="a" style="left:1072.83px;top:263px" width="12" height="17"><use href="#i-barrel"/></svg><div class="a" style="left:1070.83px;top:274px;width:21px;height:14px;background:rgba(48,38,46,.55);border-radius:3px"></div><span class="t k m" style="left:1081.53px;top:275.6px;font-size:12px;color:#e4dcdc;letter-spacing:.8px">4</span><div class="a" style="left:1094.33px;top:261px;width:27px;height:27px;background:#38262a;border-radius:3px"></div><div class="a" style="left:1011.33px;top:299px;width:56px;height:6.3px;background:#a98372;border-radius:3.200px"></div><svg class="a" style="left:1074.33px;top:293.5px" width="12" height="14.5"><use href="#i-watch"/></svg><span class="t" style="left:1091.63px;top:295px;font-size:11px;color:#ece4e8;font-weight:bold;transform:scaleX(.95);transform-origin:0 50%">&#8734;</span><span class="t k" style="left:1103.33px;top:297.05px;font-size:9.3px;color:#ece4e8;letter-spacing:1.3px;transform:scaleX(.64);-webkit-text-stroke:.3px #ece4e8">SEC</span><div class="a" style="left:1135px;top:174px;width:124px;height:138px;background:#463a39;border-radius:3px"></div><span class="t k" style="left:1141.5px;top:179.5px;font-size:12px;color:#e6dee2;letter-spacing:1.25px;transform:scaleX(.615);-webkit-text-stroke:.3px #e6dee2">FRESH PRODUCE MARKET</span><svg class="a" style="left:1145px;top:204px" width="10.5" height="15.5"><use href="#i-moai"/></svg><div class="a" style="left:1166px;top:199px;width:27px;height:27px;background:#38262a;border-radius:3px"></div><div class="a" style="left:1195.5px;top:199px;width:27px;height:27px;background:#38262a;border-radius:3px"></div><div class="a" style="left:1225px;top:199px;width:27px;height:27px;background:#38262a;border-radius:3px"></div><span class="t k" style="left:1144px;top:238px;font-size:11px;color:#ece4e8;-webkit-text-stroke:.3px #ece4e8;transform:scaleX(.7)">IN</span><div class="a" style="left:1166px;top:230px;width:27px;height:27px;background:#38262a;border-radius:3px"></div><svg class="a" style="left:1170px;top:236px" width="19" height="12"><use href="#i-money"/></svg><div class="a" style="left:1172px;top:243px;width:21px;height:14px;background:rgba(48,38,46,.55);border-radius:3px"></div><span class="t k m" style="left:1182.7px;top:244.6px;font-size:12px;color:#e4dcdc;letter-spacing:.8px">1</span><div class="a" style="left:1195.5px;top:230px;width:27px;height:27px;background:#38262a;border-radius:3px"></div><span class="t k" style="left:1142px;top:269px;font-size:11px;color:#ece4e8;letter-spacing:1px;-webkit-text-stroke:.3px #ece4e8;transform:scaleX(.7)">OUT</span><div class="a" style="left:1166px;top:261px;width:27px;height:27px;background:#38262a;border-radius:3px"></div><svg class="a" style="left:1169.5px;top:265px" width="20" height="15"><use href="#i-steak"/></svg><div class="a" style="left:1172px;top:274px;width:21px;height:14px;background:rgba(48,38,46,.55);border-radius:3px"></div><span class="t k m" style="left:1182.7px;top:275.6px;font-size:12px;color:#e4dcdc;letter-spacing:.8px">6</span><div class="a" style="left:1195.5px;top:261px;width:27px;height:27px;background:#38262a;border-radius:3px"></div><svg class="a" style="left:1203.5px;top:263px" width="12" height="17"><use href="#i-barrel"/></svg><div class="a" style="left:1201.5px;top:274px;width:21px;height:14px;background:rgba(48,38,46,.55);border-radius:3px"></div><span class="t k m" style="left:1212.2px;top:275.6px;font-size:12px;color:#e4dcdc;letter-spacing:.8px">5</span><div class="a" style="left:1225px;top:261px;width:27px;height:27px;background:#38262a;border-radius:3px"></div><div class="a" style="left:1142px;top:299px;width:56px;height:6.3px;background:#a98372;border-radius:3.200px"></div><svg class="a" style="left:1205px;top:293.5px" width="12" height="14.5"><use href="#i-watch"/></svg><span class="t" style="left:1222.3px;top:295px;font-size:11px;color:#ece4e8;font-weight:bold;transform:scaleX(.95);transform-origin:0 50%">&#8734;</span><span class="t k" style="left:1234px;top:297.05px;font-size:9.3px;color:#ece4e8;letter-spacing:1.3px;transform:scaleX(.64);-webkit-text-stroke:.3px #ece4e8">SEC</span><div class="a" style="left:1004.33px;top:319px;width:124px;height:138px;background:#807d57;border-radius:3px"></div><span class="t k" style="left:1010.83px;top:324px;font-size:14px;color:#e6dee2;letter-spacing:1.25px;transform:scaleX(.615);-webkit-text-stroke:.3px #e6dee2">PINE HILLS PARK</span><svg class="a" style="left:1014.33px;top:349px" width="10.5" height="15.5"><use href="#i-moai"/></svg><div class="a" style="left:1035.33px;top:344px;width:27px;height:27px;background:#6f6d4a;border-radius:3px"></div><svg class="a" style="left:1035px;top:344px" width="27" height="27" viewBox="0 0 27 27"><clipPath id="cp1394847"><rect width="27" height="27" rx="3"/></clipPath><g clip-path="url(#cp1394847)"><rect width="27" height="27" fill="#6f6d4a"/><g transform="translate(13.500 28) scale(1.280) translate(-13.500 -27)"><path d="M4 27C3 14 5 3 13.500 3S24 14 23 27z" fill="#6a3020"/><path d="M3 27c1-4 5-5 10.500-5s9.500 1 10.500 5z" fill="#f4f0e8"/><rect x="11" y="18" width="5" height="5" fill="#f2c9b4"/><path d="M7.500 11c0-5 2.500-7 6-7s6 2 6 7c0 6-3 9-6 9s-6-3-6-9z" fill="#f2c9b4"/><path d="M7 12C6.500 6 9 3.500 13.500 3.500S20.500 6 20 12c-1-3-2-5-3-5.500-2 1-4 1-6 .5-1.500 1-3 2.500-4 5z" fill="#6a3020"/><rect x="10" y="11" width="2" height="1.500" fill="#2a2020"/><rect x="15" y="11" width="2" height="1.500" fill="#2a2020"/><rect x="8.800" y="10" width="4.400" height="3" rx="1" fill="#1f3a3a"/><rect x="14" y="10" width="4.400" height="3" rx="1" fill="#1f3a3a"/></g></g></svg><span class="t k" style="left:1013.33px;top:383px;font-size:11px;color:#ece4e8;-webkit-text-stroke:.3px #ece4e8;transform:scaleX(.7)">IN</span><div class="a" style="left:1035.33px;top:375px;width:27px;height:27px;background:#6f6d4a;border-radius:3px"></div><svg class="a" style="left:1043.33px;top:377px" width="12" height="17"><use href="#i-barrel"/></svg><div class="a" style="left:1041.33px;top:388px;width:21px;height:14px;background:rgba(48,38,46,.55);border-radius:3px"></div><span class="t k m" style="left:1052.03px;top:389.6px;font-size:12px;color:#e4dcdc;letter-spacing:.8px">2</span><div class="a" style="left:1064.83px;top:375px;width:27px;height:27px;background:#6f6d4a;border-radius:3px"></div><svg class="a" style="left:1068.33px;top:379px" width="20" height="15"><use href="#i-steak"/></svg><div class="a" style="left:1070.83px;top:388px;width:21px;height:14px;background:rgba(48,38,46,.55);border-radius:3px"></div><span class="t k m" style="left:1081.53px;top:389.6px;font-size:12px;color:#e4dcdc;letter-spacing:.8px">3</span><div class="a" style="left:1094.33px;top:375px;width:27px;height:27px;background:#6f6d4a;border-radius:3px"></div><span class="t k" style="left:1011.33px;top:414px;font-size:11px;color:#ece4e8;letter-spacing:1px;-webkit-text-stroke:.3px #ece4e8;transform:scaleX(.7)">OUT</span><div class="a" style="left:1035.33px;top:406px;width:27px;height:27px;background:#6f6d4a;border-radius:3px"></div><svg class="a" style="left:1040.33px;top:408px" width="17" height="17"><use href="#i-trophy"/></svg><div class="a" style="left:1041.33px;top:419px;width:21px;height:14px;background:rgba(48,38,46,.55);border-radius:3px"></div><span class="t k m" style="left:1052.03px;top:420.6px;font-size:12px;color:#e4dcdc;letter-spacing:.8px">7</span><div class="a" style="left:1011.33px;top:444px;width:56px;height:6.3px;background:#a98372;border-radius:3.200px"></div><div class="a" style="left:1011.33px;top:444px;width:42px;height:6.3px;background:#f7d982;border-radius:1.500px 0 0 1.500px"></div><svg class="a" style="left:1074.33px;top:438.5px" width="12" height="14.5"><use href="#i-watch"/></svg><span class="t k" style="left:1091.33px;top:439.95px;font-size:11.7px;color:#ece4e8;letter-spacing:1.5px;transform:scaleX(.72);-webkit-text-stroke:.3px #ece4e8">3.1</span><span class="t k" style="left:1109.63px;top:442.05px;font-size:9.3px;color:#ece4e8;letter-spacing:1.3px;transform:scaleX(.64);-webkit-text-stroke:.3px #ece4e8">SEC</span><div class="a" style="left:1135px;top:319px;width:124px;height:138px;background:#807d57;border-radius:3px"></div><span class="t k" style="left:1141.5px;top:324.5px;font-size:12px;color:#e6dee2;letter-spacing:1.25px;transform:scaleX(.615);-webkit-text-stroke:.3px #e6dee2">EVERLY PRAETIS MURDER</span><svg class="a" style="left:1145px;top:349px" width="10.5" height="15.5"><use href="#i-moai"/></svg><div class="a" style="left:1166px;top:344px;width:27px;height:27px;background:#6f6d4a;border-radius:3px"></div><svg class="a" style="left:1166px;top:344px" width="27" height="27" viewBox="0 0 27 27"><clipPath id="cp1525847"><rect width="27" height="27" rx="3"/></clipPath><g clip-path="url(#cp1525847)"><rect width="27" height="27" fill="#6f6d4a"/><g transform="translate(13.500 28) scale(1.280) translate(-13.500 -27)"><path d="M3 27c1-4 5-5 10.500-5s9.500 1 10.500 5z" fill="#d8d0b8"/><rect x="11" y="18" width="5" height="5" fill="#eab8a0"/><path d="M7.500 11c0-5 2.500-7 6-7s6 2 6 7c0 6-3 9-6 9s-6-3-6-9z" fill="#eab8a0"/><path d="M7 11c-1-6 2-8.500 6.500-8.500S21 5 20 11c-.5-3-1.500-4.500-3-5-2 .8-5 .8-7 0-1 1-2 2.500-3 5z" fill="#3a2a22"/><rect x="10" y="11" width="2" height="1.500" fill="#2a2020"/><rect x="15" y="11" width="2" height="1.500" fill="#2a2020"/><rect x="8.800" y="10" width="4.200" height="3.200" fill="none" stroke="#222" stroke-width=".8"/><rect x="14" y="10" width="4.200" height="3.200" fill="none" stroke="#222" stroke-width=".8"/><rect x="11.500" y="15.500" width="4" height="1.200" fill="#7a3a30"/></g></g></svg><span class="t k" style="left:1144px;top:383px;font-size:11px;color:#ece4e8;-webkit-text-stroke:.3px #ece4e8;transform:scaleX(.7)">IN</span><div class="a" style="left:1166px;top:375px;width:27px;height:27px;background:#6f6d4a;border-radius:3px"></div><svg class="a" style="left:1174px;top:377px" width="12" height="17"><use href="#i-barrel"/></svg><div class="a" style="left:1172px;top:388px;width:21px;height:14px;background:rgba(48,38,46,.55);border-radius:3px"></div><span class="t k m" style="left:1182.7px;top:389.6px;font-size:12px;color:#e4dcdc;letter-spacing:.8px">6</span><div class="a" style="left:1195.5px;top:375px;width:27px;height:27px;background:#6f6d4a;border-radius:3px"></div><svg class="a" style="left:1199px;top:379px" width="20" height="15"><use href="#i-steak"/></svg><div class="a" style="left:1201.5px;top:388px;width:21px;height:14px;background:rgba(48,38,46,.55);border-radius:3px"></div><span class="t k m" style="left:1212.2px;top:389.6px;font-size:12px;color:#e4dcdc;letter-spacing:.8px">7</span><div class="a" style="left:1225px;top:375px;width:27px;height:27px;background:#6f6d4a;border-radius:3px"></div><span class="t k" style="left:1142px;top:414px;font-size:11px;color:#ece4e8;letter-spacing:1px;-webkit-text-stroke:.3px #ece4e8;transform:scaleX(.7)">OUT</span><div class="a" style="left:1166px;top:406px;width:27px;height:27px;background:#6f6d4a;border-radius:3px"></div><svg class="a" style="left:1171px;top:408px" width="17" height="17"><use href="#i-trophy"/></svg><div class="a" style="left:1172px;top:419px;width:21px;height:14px;background:rgba(48,38,46,.55);border-radius:3px"></div><span class="t k m" style="left:1182.7px;top:420.6px;font-size:12px;color:#e4dcdc;letter-spacing:.8px">12</span><div class="a" style="left:1142px;top:444px;width:56px;height:6.3px;background:#a98372;border-radius:3.200px"></div><div class="a" style="left:1142px;top:444px;width:12.88px;height:6.3px;background:#f7d982;border-radius:1.500px 0 0 1.500px"></div><svg class="a" style="left:1205px;top:438.5px" width="12" height="14.5"><use href="#i-watch"/></svg><span class="t k" style="left:1222px;top:439.95px;font-size:11.7px;color:#ece4e8;letter-spacing:1.5px;transform:scaleX(.72);-webkit-text-stroke:.3px #ece4e8">6.6</span><span class="t k" style="left:1240.3px;top:442.05px;font-size:9.3px;color:#ece4e8;letter-spacing:1.3px;transform:scaleX(.64);-webkit-text-stroke:.3px #ece4e8">SEC</span><span class="t k" style="left:1337.67px;top:9.6px;font-size:11.8px;color:#cdd6d2;letter-spacing:1.25px;transform:scaleX(.72);-webkit-text-stroke:.3px #cdd6d2">WORM 83 PRODUCTION</span><div class="a" style="left:1337.67px;top:29px;width:124px;height:138px;background:#71647b;border-radius:3px"></div><span class="t k" style="left:1344.17px;top:34.5px;font-size:12px;color:#e6dee2;letter-spacing:1.25px;transform:scaleX(.615);-webkit-text-stroke:.3px #e6dee2">VAN EISEN BARTER</span><span class="t k r" style="right:177.833px;top:58.1px;font-size:11.8px;color:#ece4e8;transform:scaleX(.72)">85%</span><svg class="a" style="left:1369.67px;top:57px" width="13" height="13"><use href="#i-check"/></svg><span class="t k r" style="right:129.833px;top:58.1px;font-size:11.8px;color:#ece4e8;transform:scaleX(.72)">15%</span><svg class="a" style="left:1418.67px;top:58px" width="12" height="12"><use href="#i-cross"/></svg><svg class="a" style="left:1347.67px;top:89px" width="10.5" height="15.5"><use href="#i-moai"/></svg><div class="a" style="left:1368.67px;top:84px;width:27px;height:27px;background:#57466e;border-radius:3px"></div><svg class="a" style="left:1369px;top:84px" width="27" height="27" viewBox="0 0 27 27"><clipPath id="cp1728587"><rect width="27" height="27" rx="3"/></clipPath><g clip-path="url(#cp1728587)"><rect width="27" height="27" fill="#4a3a6a"/><g transform="translate(13.500 28) scale(1.280) translate(-13.500 -27)"><path d="M3 27c1-4 5-5 10.500-5s9.500 1 10.500 5z" fill="#3a9a7a"/><rect x="11" y="18" width="5" height="5" fill="#eab090"/><path d="M7.500 11c0-5 2.500-7 6-7s6 2 6 7c0 6-3 9-6 9s-6-3-6-9z" fill="#eab090"/><path d="M7 11c-1-6 2-8.500 6.500-8.500S21 5 20 11c-.5-3-1.500-4.500-3-5-2 .8-5 .8-7 0-1 1-2 2.500-3 5z" fill="#4a4a4a"/><rect x="10" y="11" width="2" height="1.500" fill="#2a2020"/><rect x="15" y="11" width="2" height="1.500" fill="#2a2020"/><rect x="8.800" y="10" width="4.200" height="3.200" fill="none" stroke="#222" stroke-width=".8"/><rect x="14" y="10" width="4.200" height="3.200" fill="none" stroke="#222" stroke-width=".8"/><rect x="11.500" y="15.500" width="4" height="1.200" fill="#7a3a30"/></g></g></svg><span class="t k" style="left:1344.67px;top:124px;font-size:11px;color:#ece4e8;letter-spacing:1px;-webkit-text-stroke:.3px #ece4e8;transform:scaleX(.7)">OUT</span><div class="a" style="left:1368.67px;top:116px;width:27px;height:27px;background:#57466e;border-radius:3px"></div><svg class="a" style="left:1372.67px;top:122px" width="19" height="12"><use href="#i-money"/></svg><div class="a" style="left:1374.67px;top:129px;width:21px;height:14px;background:rgba(48,38,46,.55);border-radius:3px"></div><span class="t k m" style="left:1385.37px;top:130.6px;font-size:12px;color:#e4dcdc;letter-spacing:.8px">3</span><div class="a" style="left:1398.17px;top:116px;width:27px;height:27px;background:#57466e;border-radius:3px"></div><svg class="a" style="left:1401.67px;top:119px" width="20" height="15"><use href="#i-wood"/></svg><div class="a" style="left:1404.17px;top:129px;width:21px;height:14px;background:rgba(48,38,46,.55);border-radius:3px"></div><span class="t k m" style="left:1414.87px;top:130.6px;font-size:12px;color:#e4dcdc;letter-spacing:.8px">3</span><div class="a" style="left:1427.67px;top:116px;width:27px;height:27px;background:#57466e;border-radius:3px"></div><div class="a" style="left:1344.67px;top:154px;width:56px;height:6.3px;background:#a98372;border-radius:3.200px"></div><div class="a" style="left:1344.67px;top:154px;width:47.04px;height:6.3px;background:#c6b1de;border-radius:1.500px 0 0 1.500px"></div><svg class="a" style="left:1407.67px;top:148.5px" width="12" height="14.5"><use href="#i-watch"/></svg><span class="t k" style="left:1424.67px;top:149.95px;font-size:11.7px;color:#ece4e8;letter-spacing:1.5px;transform:scaleX(.72);-webkit-text-stroke:.3px #ece4e8">2.2</span><span class="t k" style="left:1442.97px;top:152.05px;font-size:9.3px;color:#ece4e8;letter-spacing:1.3px;transform:scaleX(.64);-webkit-text-stroke:.3px #ece4e8">SEC</span><div class="a" style="left:1468.33px;top:29px;width:124px;height:138px;background:#7b6563;border-radius:3px"></div><span class="t k" style="left:1474.83px;top:34.25px;font-size:12.5px;color:#e6dee2;letter-spacing:1.25px;transform:scaleX(.615);-webkit-text-stroke:.3px #e6dee2">UNITY RECREATION</span><svg class="a" style="left:1478.33px;top:59px" width="10.5" height="15.5"><use href="#i-moai"/></svg><div class="a" style="left:1499.33px;top:54px;width:27px;height:27px;background:#6a4443;border-radius:3px"></div><div class="a" style="left:1528.83px;top:54px;width:27px;height:27px;background:#6a4443;border-radius:3px"></div><div class="a" style="left:1558.33px;top:54px;width:27px;height:27px;background:#6a4443;border-radius:3px"></div><span class="t k" style="left:1477.33px;top:93px;font-size:11px;color:#ece4e8;-webkit-text-stroke:.3px #ece4e8;transform:scaleX(.7)">IN</span><div class="a" style="left:1499.33px;top:85px;width:27px;height:27px;background:#6a4443;border-radius:3px"></div><svg class="a" style="left:1503.33px;top:91px" width="19" height="12"><use href="#i-money"/></svg><div class="a" style="left:1505.33px;top:98px;width:21px;height:14px;background:rgba(48,38,46,.55);border-radius:3px"></div><span class="t k m" style="left:1516.03px;top:99.6px;font-size:12px;color:#e4dcdc;letter-spacing:.8px">1</span><div class="a" style="left:1528.83px;top:85px;width:27px;height:27px;background:#6a4443;border-radius:3px"></div><span class="t k" style="left:1475.33px;top:124px;font-size:11px;color:#ece4e8;letter-spacing:1px;-webkit-text-stroke:.3px #ece4e8;transform:scaleX(.7)">OUT</span><div class="a" style="left:1499.33px;top:116px;width:27px;height:27px;background:#6a4443;border-radius:3px"></div><svg class="a" style="left:1502.83px;top:120px" width="20" height="15"><use href="#i-steak"/></svg><div class="a" style="left:1505.33px;top:129px;width:21px;height:14px;background:rgba(48,38,46,.55);border-radius:3px"></div><span class="t k m" style="left:1516.03px;top:130.6px;font-size:12px;color:#e4dcdc;letter-spacing:.8px">5</span><div class="a" style="left:1528.83px;top:116px;width:27px;height:27px;background:#6a4443;border-radius:3px"></div><svg class="a" style="left:1532.83px;top:120px" width="19" height="13"><use href="#i-book"/></svg><div class="a" style="left:1534.83px;top:129px;width:21px;height:14px;background:rgba(48,38,46,.55);border-radius:3px"></div><span class="t k m" style="left:1545.53px;top:130.6px;font-size:12px;color:#e4dcdc;letter-spacing:.8px">2</span><div class="a" style="left:1558.33px;top:116px;width:27px;height:27px;background:#6a4443;border-radius:3px"></div><div class="a" style="left:1475.33px;top:154px;width:56px;height:6.3px;background:#a98372;border-radius:3.200px"></div><div class="a" style="left:1475.33px;top:154px;width:38.08px;height:6.3px;background:#ff8c86;border-radius:1.500px 0 0 1.500px"></div><svg class="a" style="left:1538.33px;top:148.5px" width="12" height="14.5"><use href="#i-watch"/></svg><span class="t k" style="left:1555.33px;top:149.95px;font-size:11.7px;color:#ece4e8;letter-spacing:1.5px;transform:scaleX(.72);-webkit-text-stroke:.3px #ece4e8">0.0</span><span class="t k" style="left:1573.63px;top:152.05px;font-size:9.3px;color:#ece4e8;letter-spacing:1.3px;transform:scaleX(.64);-webkit-text-stroke:.3px #ece4e8">SEC</span><div class="a" style="left:1337.67px;top:174px;width:124px;height:138px;background:#43433a;border-radius:3px"></div><span class="t k" style="left:1344.17px;top:179.25px;font-size:13.5px;color:#e6dee2;letter-spacing:1.25px;transform:scaleX(.615);-webkit-text-stroke:.3px #e6dee2">TOWNSHIP LANDFILL</span><svg class="a" style="left:1347.67px;top:204px" width="10.5" height="15.5"><use href="#i-moai"/></svg><div class="a" style="left:1368.67px;top:199px;width:27px;height:27px;background:#38382a;border-radius:3px"></div><span class="t k" style="left:1346.67px;top:238px;font-size:11px;color:#ece4e8;-webkit-text-stroke:.3px #ece4e8;transform:scaleX(.7)">IN</span><div class="a" style="left:1368.67px;top:230px;width:27px;height:27px;background:#38382a;border-radius:3px"></div><svg class="a" style="left:1374.67px;top:232px" width="15" height="17"><use href="#i-pc"/></svg><div class="a" style="left:1374.67px;top:243px;width:21px;height:14px;background:rgba(48,38,46,.55);border-radius:3px"></div><span class="t k m" style="left:1385.37px;top:244.6px;font-size:12px;color:#e4dcdc;letter-spacing:.8px">3</span><div class="a" style="left:1398.17px;top:230px;width:27px;height:27px;background:#38382a;border-radius:3px"></div><svg class="a" style="left:1406.17px;top:232px" width="12" height="17"><use href="#i-barrel"/></svg><div class="a" style="left:1404.17px;top:243px;width:21px;height:14px;background:rgba(48,38,46,.55);border-radius:3px"></div><span class="t k m" style="left:1414.87px;top:244.6px;font-size:12px;color:#e4dcdc;letter-spacing:.8px">2</span><div class="a" style="left:1427.67px;top:230px;width:27px;height:27px;background:#38382a;border-radius:3px"></div><svg class="a" style="left:1431.17px;top:234px" width="20" height="15"><use href="#i-steak"/></svg><div class="a" style="left:1433.67px;top:243px;width:21px;height:14px;background:rgba(48,38,46,.55);border-radius:3px"></div><span class="t k m" style="left:1444.37px;top:244.6px;font-size:12px;color:#e4dcdc;letter-spacing:.8px">2</span><span class="t k" style="left:1344.67px;top:269px;font-size:11px;color:#ece4e8;letter-spacing:1px;-webkit-text-stroke:.3px #ece4e8;transform:scaleX(.7)">OUT</span><div class="a" style="left:1368.67px;top:261px;width:27px;height:27px;background:#38382a;border-radius:3px"></div><svg class="a" style="left:1375.67px;top:263px" width="13" height="18"><use href="#i-bolt"/></svg><div class="a" style="left:1374.67px;top:274px;width:21px;height:14px;background:rgba(48,38,46,.55);border-radius:3px"></div><span class="t k m" style="left:1385.37px;top:275.6px;font-size:12px;color:#e4dcdc;letter-spacing:.8px">9</span><div class="a" style="left:1344.67px;top:299px;width:56px;height:6.3px;background:#a98372;border-radius:3.200px"></div><svg class="a" style="left:1407.67px;top:293.5px" width="12" height="14.5"><use href="#i-watch"/></svg><span class="t" style="left:1424.97px;top:295px;font-size:11px;color:#ece4e8;font-weight:bold;transform:scaleX(.95);transform-origin:0 50%">&#8734;</span><span class="t k" style="left:1436.67px;top:297.05px;font-size:9.3px;color:#ece4e8;letter-spacing:1.3px;transform:scaleX(.64);-webkit-text-stroke:.3px #ece4e8">SEC</span><div class="a" style="left:1468.33px;top:174px;width:124px;height:138px;background:#807d57;border-radius:3px"></div><span class="t k" style="left:1474.83px;top:179px;font-size:14px;color:#e6dee2;letter-spacing:1.25px;transform:scaleX(.615);-webkit-text-stroke:.3px #e6dee2">DESERTED SUBURBS</span><svg class="a" style="left:1478.33px;top:204px" width="10.5" height="15.5"><use href="#i-moai"/></svg><div class="a" style="left:1499.33px;top:199px;width:27px;height:27px;background:#6f6d4a;border-radius:3px"></div><svg class="a" style="left:1499px;top:199px" width="27" height="27" viewBox="0 0 27 27"><clipPath id="cp1858702"><rect width="27" height="27" rx="3"/></clipPath><g clip-path="url(#cp1858702)"><rect width="27" height="27" fill="#6f6d4a"/><g transform="translate(13.500 28) scale(1.280) translate(-13.500 -27)"><path d="M4 24C2.500 13 6 3 13.500 3S24.500 13 23 24z" fill="#6a5a50"/><path d="M3 27c1-4 5-5 10.500-5s9.500 1 10.500 5z" fill="#2a5a6a"/><rect x="11" y="18" width="5" height="5" fill="#eaa090"/><path d="M7.500 11c0-5 2.500-7 6-7s6 2 6 7c0 6-3 9-6 9s-6-3-6-9z" fill="#eaa090"/><path d="M7 12C6.500 6 9 3.500 13.500 3.500S20.500 6 20 12c-1-3-2-5-3-5.500-2 1-4 1-6 .5-1.500 1-3 2.500-4 5z" fill="#6a5a50"/><rect x="10" y="11" width="2" height="1.500" fill="#2a2020"/><rect x="15" y="11" width="2" height="1.500" fill="#2a2020"/><rect x="10.500" y="15" width="6" height="1.600" rx=".8" fill="#6a5a50"/></g></g></svg><span class="t k" style="left:1477.33px;top:238px;font-size:11px;color:#ece4e8;-webkit-text-stroke:.3px #ece4e8;transform:scaleX(.7)">IN</span><div class="a" style="left:1499.33px;top:230px;width:27px;height:27px;background:#6f6d4a;border-radius:3px"></div><svg class="a" style="left:1503.33px;top:234px" width="19" height="13"><use href="#i-book"/></svg><div class="a" style="left:1505.33px;top:243px;width:21px;height:14px;background:rgba(48,38,46,.55);border-radius:3px"></div><span class="t k m" style="left:1516.03px;top:244.6px;font-size:12px;color:#e4dcdc;letter-spacing:.8px">2</span><div class="a" style="left:1528.83px;top:230px;width:27px;height:27px;background:#6f6d4a;border-radius:3px"></div><svg class="a" style="left:1536.83px;top:232px" width="12" height="17"><use href="#i-barrel"/></svg><div class="a" style="left:1534.83px;top:243px;width:21px;height:14px;background:rgba(48,38,46,.55);border-radius:3px"></div><span class="t k m" style="left:1545.53px;top:244.6px;font-size:12px;color:#e4dcdc;letter-spacing:.8px">2</span><div class="a" style="left:1558.33px;top:230px;width:27px;height:27px;background:#6f6d4a;border-radius:3px"></div><span class="t k" style="left:1475.33px;top:269px;font-size:11px;color:#ece4e8;letter-spacing:1px;-webkit-text-stroke:.3px #ece4e8;transform:scaleX(.7)">OUT</span><div class="a" style="left:1499.33px;top:261px;width:27px;height:27px;background:#6f6d4a;border-radius:3px"></div><span class="t" style="left:1502.33px;top:260px;font-family:'DejaVu Sans',sans-serif;font-size:22px;font-weight:normal;color:#f2dfa0">&#9851;</span><div class="a" style="left:1505.33px;top:274px;width:21px;height:14px;background:rgba(48,38,46,.55);border-radius:3px"></div><span class="t k m" style="left:1516.03px;top:275.6px;font-size:12px;color:#e4dcdc;letter-spacing:.8px">14</span><div class="a" style="left:1475.33px;top:299px;width:56px;height:6.3px;background:#a98372;border-radius:3.200px"></div><div class="a" style="left:1475.33px;top:299px;width:33.6px;height:6.3px;background:#f7d982;border-radius:1.500px 0 0 1.500px"></div><svg class="a" style="left:1538.33px;top:293.5px" width="12" height="14.5"><use href="#i-watch"/></svg><span class="t k" style="left:1555.33px;top:294.95px;font-size:11.7px;color:#ece4e8;letter-spacing:1.5px;transform:scaleX(.72);-webkit-text-stroke:.3px #ece4e8">1.0</span><span class="t k" style="left:1573.63px;top:297.05px;font-size:9.3px;color:#ece4e8;letter-spacing:1.3px;transform:scaleX(.64);-webkit-text-stroke:.3px #ece4e8">SEC</span></div>
<div class="a" style="left:359px;top:1035px;width:1544px;height:17px;background:#26393f"></div>
<div class="a" style="left:535px;top:1035px;width:704px;height:17px;background:#26594b"></div>
<div class="a" style="left:1239px;top:1035px;width:46px;height:17px;background:#6f6e50"></div>
<div class="a" style="left:1887px;top:163px;width:16px;height:517px;background:#3f7f6b"></div>
<div class="a" style="left:355px;top:163px;width:3px;height:517px;background:#3f8a72"></div>
<div class="a" style="left:358px;top:163px;width:1px;height:889px;background:#d9926a"></div>
<div class="btn" style="left:250px;top:1055px;width:18px;height:22px;background:#4f9a68;border-bottom:2px solid #3d7d52"></div>
<span class="t" style="left:259px;top:1055px;font-size:17px;font-weight:normal;color:#e6f5e6;transform:translateX(-50%)">&#8592;</span>
<div class="btn" style="left:272px;top:1055px;width:19px;height:22px;background:#4f9a68;border-bottom:2px solid #3d7d52"></div>
<span class="t" style="left:281.5px;top:1055px;font-size:17px;font-weight:normal;color:#e6f5e6;transform:translateX(-50%)">&#8594;</span>
<svg class="a" style="left:1241px;top:911px;opacity:0.32" width="23" height="19"><use href="#i-iron"/></svg>
<div class="a" style="left:1267.5px;top:912.5px;width:32.5px;height:18px;background:#4fb96c;border-radius:3.500px;box-shadow:1px 1.500px 0 #2f7a48;opacity:0.32"></div>
<span class="t mono m" style="left:1283.75px;top:915.75px;font-size:11.5px;color:#cfe6d2;font-weight:normal;-webkit-text-stroke:.25px #cfe6d2;text-shadow:.7px .9px 0 #357f4f;opacity:0.32">+12</span>
<svg class="a" style="left:1241.5px;top:948px" width="23.5" height="16.5"><use href="#i-wood"/></svg>
<div class="a" style="left:1267px;top:946px;width:33px;height:18px;background:#4fb96c;border-radius:3.500px;box-shadow:1px 1.500px 0 #2f7a48"></div>
<span class="t mono m" style="left:1283.5px;top:947.75px;font-size:14.5px;color:#cfe6d2;font-weight:normal;-webkit-text-stroke:.25px #cfe6d2;text-shadow:.7px .9px 0 #357f4f">+15</span>
<svg class="a" style="left:1302px;top:945.5px" width="25" height="18.5"><use href="#i-steak"/></svg>
<div class="a" style="left:1328px;top:946.5px;width:34px;height:17.5px;background:#4fb96c;border-radius:3.500px;box-shadow:1px 1.500px 0 #2f7a48"></div>
<span class="t mono m" style="left:1345px;top:949.5px;font-size:11.5px;color:#cfe6d2;font-weight:normal;-webkit-text-stroke:.25px #cfe6d2;text-shadow:.7px .9px 0 #357f4f">+13</span>
<svg class="a" style="left:1364px;top:925.5px" width="24" height="22"><use href="#i-steel"/></svg>
<div class="a" style="left:1390px;top:927px;width:33px;height:18.5px;background:#4fb96c;border-radius:3.500px;box-shadow:1px 1.500px 0 #2f7a48"></div>
<span class="t mono m" style="left:1406.5px;top:930.5px;font-size:11.5px;color:#cfe6d2;font-weight:normal;-webkit-text-stroke:.25px #cfe6d2;text-shadow:.7px .9px 0 #357f4f">+40</span>
<svg class="a" style="left:1425px;top:932.5px" width="25" height="20"><use href="#i-steak"/></svg>
<div class="a" style="left:1452px;top:933px;width:33px;height:18px;background:#4fb96c;border-radius:3.500px;box-shadow:1px 1.500px 0 #2f7a48"></div>
<span class="t mono m" style="left:1468.5px;top:936.25px;font-size:11.5px;color:#cfe6d2;font-weight:normal;-webkit-text-stroke:.25px #cfe6d2;text-shadow:.7px .9px 0 #357f4f">+56</span>
<svg class="a" style="left:1364px;top:963px" width="23.5" height="16.5"><use href="#i-book"/></svg>
<div class="a" style="left:1390px;top:961.5px;width:33px;height:18px;background:#4fb96c;border-radius:3.500px;box-shadow:1px 1.500px 0 #2f7a48"></div>
<span class="t mono m" style="left:1406.5px;top:964.75px;font-size:11.5px;color:#cfe6d2;font-weight:normal;-webkit-text-stroke:.25px #cfe6d2;text-shadow:.7px .9px 0 #357f4f">+16</span>
<svg class="a" style="left:1427px;top:965px" width="21" height="21"><use href="#i-trophy"/></svg>
<div class="a" style="left:1452px;top:967px;width:33px;height:18px;background:#4fb96c;border-radius:3.500px;box-shadow:1px 1.500px 0 #2f7a48"></div>
<span class="t mono m" style="left:1468.5px;top:970.25px;font-size:11.5px;color:#cfe6d2;font-weight:normal;-webkit-text-stroke:.25px #cfe6d2;text-shadow:.7px .9px 0 #357f4f">+49</span>
<svg class="a" style="left:1486.5px;top:966px" width="25.5" height="19"><use href="#i-steak"/></svg>
<div class="a" style="left:1513px;top:966px;width:34px;height:19px;background:#4fb96c;border-radius:3.500px;box-shadow:1px 1.500px 0 #2f7a48"></div>
<span class="t mono m" style="left:1530px;top:969.75px;font-size:11.5px;color:#cfe6d2;font-weight:normal;-webkit-text-stroke:.25px #cfe6d2;text-shadow:.7px .9px 0 #357f4f">+10</span>
<svg class="a" style="left:1242px;top:982px" width="23" height="14.5"><use href="#i-money"/></svg>
<div class="a" style="left:1267px;top:980px;width:33px;height:18.5px;background:#4fb96c;border-radius:3.500px;box-shadow:1px 1.500px 0 #2f7a48"></div>
<span class="t mono m" style="left:1283.5px;top:982px;font-size:14.5px;color:#cfe6d2;font-weight:normal;-webkit-text-stroke:.25px #cfe6d2;text-shadow:.7px .9px 0 #357f4f">+25</span>
<svg class="a" style="left:1306px;top:981px" width="24" height="15.5"><use href="#i-wood"/></svg>
<div class="a" style="left:1332px;top:979.5px;width:26px;height:17px;background:#4fb96c;border-radius:3.500px;box-shadow:1px 1.500px 0 #2f7a48"></div>
<span class="t mono m" style="left:1345px;top:982.25px;font-size:11.5px;color:#cfe6d2;font-weight:normal;-webkit-text-stroke:.25px #cfe6d2;text-shadow:.7px .9px 0 #357f4f">+7</span>
<svg class="a" style="left:1243.5px;top:1015.5px" width="24" height="16.5"><use href="#i-book"/></svg>
<div class="a" style="left:1270px;top:1014px;width:27px;height:17.5px;background:#4fb96c;border-radius:3.500px;box-shadow:1px 1.500px 0 #2f7a48"></div>
<span class="t mono m" style="left:1283.5px;top:1015.5px;font-size:14.5px;color:#cfe6d2;font-weight:normal;-webkit-text-stroke:.25px #cfe6d2;text-shadow:.7px .9px 0 #357f4f">+9</span>
<svg class="a" style="left:1303.5px;top:1011px" width="22" height="21"><use href="#i-trophy"/></svg>
<div class="a" style="left:1328px;top:1013px;width:34px;height:18px;background:#4fb96c;border-radius:3.500px;box-shadow:1px 1.500px 0 #2f7a48"></div>
<span class="t mono m" style="left:1345px;top:1016.25px;font-size:11.5px;color:#cfe6d2;font-weight:normal;-webkit-text-stroke:.25px #cfe6d2;text-shadow:.7px .9px 0 #357f4f">+25</span>
<svg class="a" style="left:1429.5px;top:1002.5px" width="23.5" height="14.5"><use href="#i-money"/></svg>
<div class="a" style="left:1455px;top:1001px;width:27px;height:18px;background:#4fb96c;border-radius:3.500px;box-shadow:1px 1.500px 0 #2f7a48"></div>
<span class="t mono m" style="left:1468.5px;top:1004.25px;font-size:11.5px;color:#cfe6d2;font-weight:normal;-webkit-text-stroke:.25px #cfe6d2;text-shadow:.7px .9px 0 #357f4f">+5</span>
<svg class="a" style="left:1488px;top:1013px" width="24" height="14.5"><use href="#i-money"/></svg>
<div class="a" style="left:1513px;top:1011px;width:34px;height:19px;background:#4fb96c;border-radius:3.500px;box-shadow:1px 1.500px 0 #2f7a48"></div>
<span class="t mono m" style="left:1530px;top:1013.25px;font-size:14.5px;color:#cfe6d2;font-weight:normal;-webkit-text-stroke:.25px #cfe6d2;text-shadow:.7px .9px 0 #357f4f">+29</span>
<svg class="a" style="left:1368px;top:1040.5px" width="23.5" height="15.5"><use href="#i-wood"/></svg>
<div class="a" style="left:1393px;top:1039px;width:27px;height:18px;background:#4fb96c;border-radius:3.500px;box-shadow:1px 1.500px 0 #2f7a48"></div>
<span class="t mono m" style="left:1406.5px;top:1042.25px;font-size:11.5px;color:#cfe6d2;font-weight:normal;-webkit-text-stroke:.25px #cfe6d2;text-shadow:.7px .9px 0 #357f4f">+4</span>
<svg class="a" style="left:1242px;top:1045.5px" width="21" height="21"><use href="#i-trophy"/></svg>
<div class="a" style="left:1267px;top:1048px;width:33px;height:18px;background:#4fb96c;border-radius:3.500px;box-shadow:1px 1.500px 0 #2f7a48"></div>
<span class="t mono m" style="left:1283.5px;top:1051.25px;font-size:11.5px;color:#cfe6d2;font-weight:normal;-webkit-text-stroke:.25px #cfe6d2;text-shadow:.7px .9px 0 #357f4f">+27</span>
<svg class="a" style="left:1303px;top:1047px" width="24" height="14.5"><use href="#i-money"/></svg>
<div class="a" style="left:1328px;top:1046px;width:34px;height:18px;background:#4fb96c;border-radius:3.500px;box-shadow:1px 1.500px 0 #2f7a48"></div>
<span class="t mono m" style="left:1345px;top:1049.25px;font-size:11.5px;color:#cfe6d2;font-weight:normal;-webkit-text-stroke:.25px #cfe6d2;text-shadow:.7px .9px 0 #357f4f">+21</span>
<svg class="a" style="left:1489px;top:1044px" width="21" height="21"><use href="#i-trophy"/></svg>
<div class="a" style="left:1513px;top:1045px;width:34px;height:18px;background:#4fb96c;border-radius:3.500px;box-shadow:1px 1.500px 0 #2f7a48"></div>
<span class="t mono m" style="left:1530px;top:1046.75px;font-size:14.5px;color:#cfe6d2;font-weight:normal;-webkit-text-stroke:.25px #cfe6d2;text-shadow:.7px .9px 0 #357f4f">+19</span>
<svg class="a" style="left:1551px;top:992px" width="21" height="21"><use href="#i-trophy"/></svg>
<div class="a" style="left:1575px;top:994px;width:33px;height:17.5px;background:#4fb96c;border-radius:3.500px;box-shadow:1px 1.500px 0 #2f7a48"></div>
<span class="t mono m" style="left:1591.5px;top:997px;font-size:11.5px;color:#cfe6d2;font-weight:normal;-webkit-text-stroke:.25px #cfe6d2;text-shadow:.7px .9px 0 #357f4f">+19</span>
<svg class="a" style="left:1552.5px;top:1028.5px" width="23.5" height="14.5"><use href="#i-money"/></svg>
<div class="a" style="left:1578px;top:1027px;width:27px;height:18px;background:#4fb96c;border-radius:3.500px;box-shadow:1px 1.500px 0 #2f7a48"></div>
<span class="t mono m" style="left:1591.5px;top:1030.25px;font-size:11.5px;color:#cfe6d2;font-weight:normal;-webkit-text-stroke:.25px #cfe6d2;text-shadow:.7px .9px 0 #357f4f">+2</span>
<span class="t" style="left:1608.5px;top:976.5px;font-family:'DejaVu Sans',sans-serif;font-size:29px;font-weight:normal;color:#f2dfa0">&#9851;</span>
<div class="a" style="left:1637px;top:984px;width:33px;height:17.5px;background:#4fb96c;border-radius:3.500px;box-shadow:1px 1.500px 0 #2f7a48"></div>
<span class="t mono m" style="left:1653.5px;top:987px;font-size:11.5px;color:#cfe6d2;font-weight:normal;-webkit-text-stroke:.25px #cfe6d2;text-shadow:.7px .9px 0 #357f4f">+14</span>
<svg class="a" style="left:1615px;top:1018.5px" width="23.5" height="14.5"><use href="#i-money"/></svg>
<div class="a" style="left:1640px;top:1017px;width:27px;height:18px;background:#4fb96c;border-radius:3.500px;box-shadow:1px 1.500px 0 #2f7a48"></div>
<span class="t mono m" style="left:1653.5px;top:1020.25px;font-size:11.5px;color:#cfe6d2;font-weight:normal;-webkit-text-stroke:.25px #cfe6d2;text-shadow:.7px .9px 0 #357f4f">+4</span>
<svg class="a" style="left:1676px;top:974.5px" width="24" height="15.5"><use href="#i-wood"/></svg>
<div class="a" style="left:1702px;top:972px;width:26px;height:18.5px;background:#4fb96c;border-radius:3.500px;box-shadow:1px 1.500px 0 #2f7a48"></div>
<span class="t mono m" style="left:1715px;top:975.5px;font-size:11.5px;color:#cfe6d2;font-weight:normal;-webkit-text-stroke:.25px #cfe6d2;text-shadow:.7px .9px 0 #357f4f">+9</span>
<svg class="a" style="left:1732.5px;top:968px" width="26" height="19"><use href="#i-steak"/></svg>
<div class="a" style="left:1760px;top:969px;width:33px;height:17.5px;background:#4fb96c;border-radius:3.500px;box-shadow:1px 1.500px 0 #2f7a48"></div>
<span class="t mono m" style="left:1776.5px;top:972px;font-size:11.5px;color:#cfe6d2;font-weight:normal;-webkit-text-stroke:.25px #cfe6d2;text-shadow:.7px .9px 0 #357f4f">+15</span>
<svg class="a" style="left:1679px;top:1004px" width="17" height="23.5"><use href="#i-barrel"/></svg>
<div class="a" style="left:1702px;top:1006px;width:26px;height:19px;background:#4fb96c;border-radius:3.500px;box-shadow:1px 1.500px 0 #2f7a48"></div>
<span class="t mono m" style="left:1715px;top:1009.75px;font-size:11.5px;color:#cfe6d2;font-weight:normal;-webkit-text-stroke:.25px #cfe6d2;text-shadow:.7px .9px 0 #357f4f">+5</span>
<svg class="a" style="left:1735.5px;top:1000.5px" width="21.5" height="21.5"><use href="#i-trophy"/></svg>
<div class="a" style="left:1760px;top:1002px;width:33px;height:18.5px;background:#4fb96c;border-radius:3.500px;box-shadow:1px 1.500px 0 #2f7a48"></div>
<span class="t mono m" style="left:1776.5px;top:1004px;font-size:14.5px;color:#cfe6d2;font-weight:normal;-webkit-text-stroke:.25px #cfe6d2;text-shadow:.7px .9px 0 #357f4f">+48</span>
<svg class="a" style="left:1737.5px;top:1038px" width="24" height="15.5"><use href="#i-wood"/></svg>
<div class="a" style="left:1763px;top:1036px;width:27px;height:18.5px;background:#4fb96c;border-radius:3.500px;box-shadow:1px 1.500px 0 #2f7a48"></div>
<span class="t mono m" style="left:1776.5px;top:1039.5px;font-size:11.5px;color:#cfe6d2;font-weight:normal;-webkit-text-stroke:.25px #cfe6d2;text-shadow:.7px .9px 0 #357f4f">+6</span>
<svg class="a" style="left:1611px;top:1052px" width="25" height="18"><use href="#i-steak"/></svg>
<div class="a" style="left:1637px;top:1051px;width:33px;height:18px;background:#4fb96c;border-radius:3.500px;box-shadow:1px 1.500px 0 #2f7a48"></div>
<span class="t mono m" style="left:1653.5px;top:1054.25px;font-size:11.5px;color:#cfe6d2;font-weight:normal;-webkit-text-stroke:.25px #cfe6d2;text-shadow:.7px .9px 0 #357f4f">+11</span>
<svg class="a" style="left:1366px;top:1068px" width="23" height="14"><use href="#i-money"/></svg>
<div class="a" style="left:1390px;top:1066px;width:33px;height:18px;background:#4fb96c;border-radius:3.500px;box-shadow:1px 1.500px 0 #2f7a48"></div>
<span class="t mono m" style="left:1406.5px;top:1069.25px;font-size:11.5px;color:#cfe6d2;font-weight:normal;-webkit-text-stroke:.25px #cfe6d2;text-shadow:.7px .9px 0 #357f4f">+10</span>
<svg class="a" style="left:1738px;top:1070px" width="24" height="15"><use href="#i-wood"/></svg>
<div class="a" style="left:1763px;top:1068px;width:27px;height:18px;background:#4fb96c;border-radius:3.500px;box-shadow:1px 1.500px 0 #2f7a48"></div>
<span class="t mono m" style="left:1776.5px;top:1071.25px;font-size:11.5px;color:#cfe6d2;font-weight:normal;-webkit-text-stroke:.25px #cfe6d2;text-shadow:.7px .9px 0 #357f4f">+3</span>
<div class="btn" style="left:1240px;top:1055px;width:57px;height:22px;background:#7c5748;border-bottom:2px solid #9a5a3a"></div>
<span class="t c m" style="left:1268.5px;top:1058.75px;font-size:13.5px;color:#f7e3d4;letter-spacing:1.2px;transform:translateX(-50%) scaleX(.64)">COL [W]</span>
<div class="btn" style="left:1301.7px;top:1055px;width:57px;height:22px;background:#d6c17c;border-bottom:2px solid #b09a52"></div>
<span class="t c m" style="left:1330.2px;top:1058.75px;font-size:13.5px;color:#3b3020;letter-spacing:1.2px;transform:translateX(-50%) scaleX(.64)">L-DEP [E]</span>
<div class="btn" style="left:1363.4px;top:1055px;width:57px;height:22px;background:#c9a9d9;border-bottom:2px solid #a583b8"></div>
<span class="t c m" style="left:1391.9px;top:1058.75px;font-size:13.5px;color:#3a2c3c;letter-spacing:1.2px;transform:translateX(-50%) scaleX(.64)">JAZZ [R]</span>
<div class="btn" style="left:1425.1px;top:1055px;width:57px;height:22px;background:#3f8466;border-bottom:2px solid #2f6a50"></div>
<span class="t c m" style="left:1453.6px;top:1058.75px;font-size:13.5px;color:#dcf2e4;letter-spacing:1.2px;transform:translateX(-50%) scaleX(.64)">SPACE [T]</span>
<div class="btn" style="left:1486.8px;top:1055px;width:57px;height:22px;background:#9568c4;border-bottom:2px solid #7748a4"></div>
<span class="t c m" style="left:1515.3px;top:1058.75px;font-size:13.5px;color:#eadcfa;letter-spacing:1.2px;transform:translateX(-50%) scaleX(.64)">Y2K [Y]</span>
<div class="btn" style="left:1548.5px;top:1055px;width:57px;height:22px;background:#a9d1e8;border-bottom:2px solid #7faac4"></div>
<div class="a" style="left:1548.5px;top:1053.500px;width:57px;height:23px;border:1.500px solid #fff;border-radius:3px;box-sizing:content-box;margin-left:-1.500px"></div>
<span class="t c m" style="left:1577px;top:1058.75px;font-size:13.5px;color:#2a3c4c;letter-spacing:1.2px;transform:translateX(-50%) scaleX(.64)">PRES [1]</span>
<div class="btn" style="left:1610.2px;top:1055px;width:57px;height:22px;background:#b0f6d2;border-bottom:2px solid #86d0aa"></div>
<span class="t c m" style="left:1638.7px;top:1058.75px;font-size:13.5px;color:#1f3a30;letter-spacing:1.2px;transform:translateX(-50%) scaleX(.64)">W-83 [2]</span>
<div class="btn" style="left:1671.9px;top:1055px;width:57px;height:22px;background:#3b9b99;border-bottom:2px solid #2a7c7a"></div>
<span class="t c m" style="left:1700.4px;top:1058.75px;font-size:13.5px;color:#c9f2f0;letter-spacing:1.2px;transform:translateX(-50%) scaleX(.64)">TIDES [3]</span>
<div class="btn" style="left:1733.6px;top:1055px;width:57px;height:22px;background:#f19762;border-bottom:2px solid #cf7440"></div>
<span class="t c m" style="left:1762.1px;top:1058.75px;font-size:13.5px;color:#3c2212;letter-spacing:1.2px;transform:translateX(-50%) scaleX(.64)">SNAIL [4]</span>
<div class="btn" style="left:1795.3px;top:1055px;width:57px;height:22px;background:#b94b4b;border-bottom:2px solid #983636"></div>
<span class="t c m" style="left:1823.8px;top:1058.75px;font-size:13.5px;color:#fadcdc;letter-spacing:1.2px;transform:translateX(-50%) scaleX(.64)">DUST [5]</span>
<div class="btn" style="left:1857px;top:1055px;width:57px;height:22px;background:#e9e9e9;border-bottom:2px solid #c4c4c4"></div>
<span class="t c m" style="left:1885.5px;top:1058.75px;font-size:13.5px;color:#2c2c2c;letter-spacing:1.2px;transform:translateX(-50%) scaleX(.64)">2-REN [6]</span>
</body></html>
